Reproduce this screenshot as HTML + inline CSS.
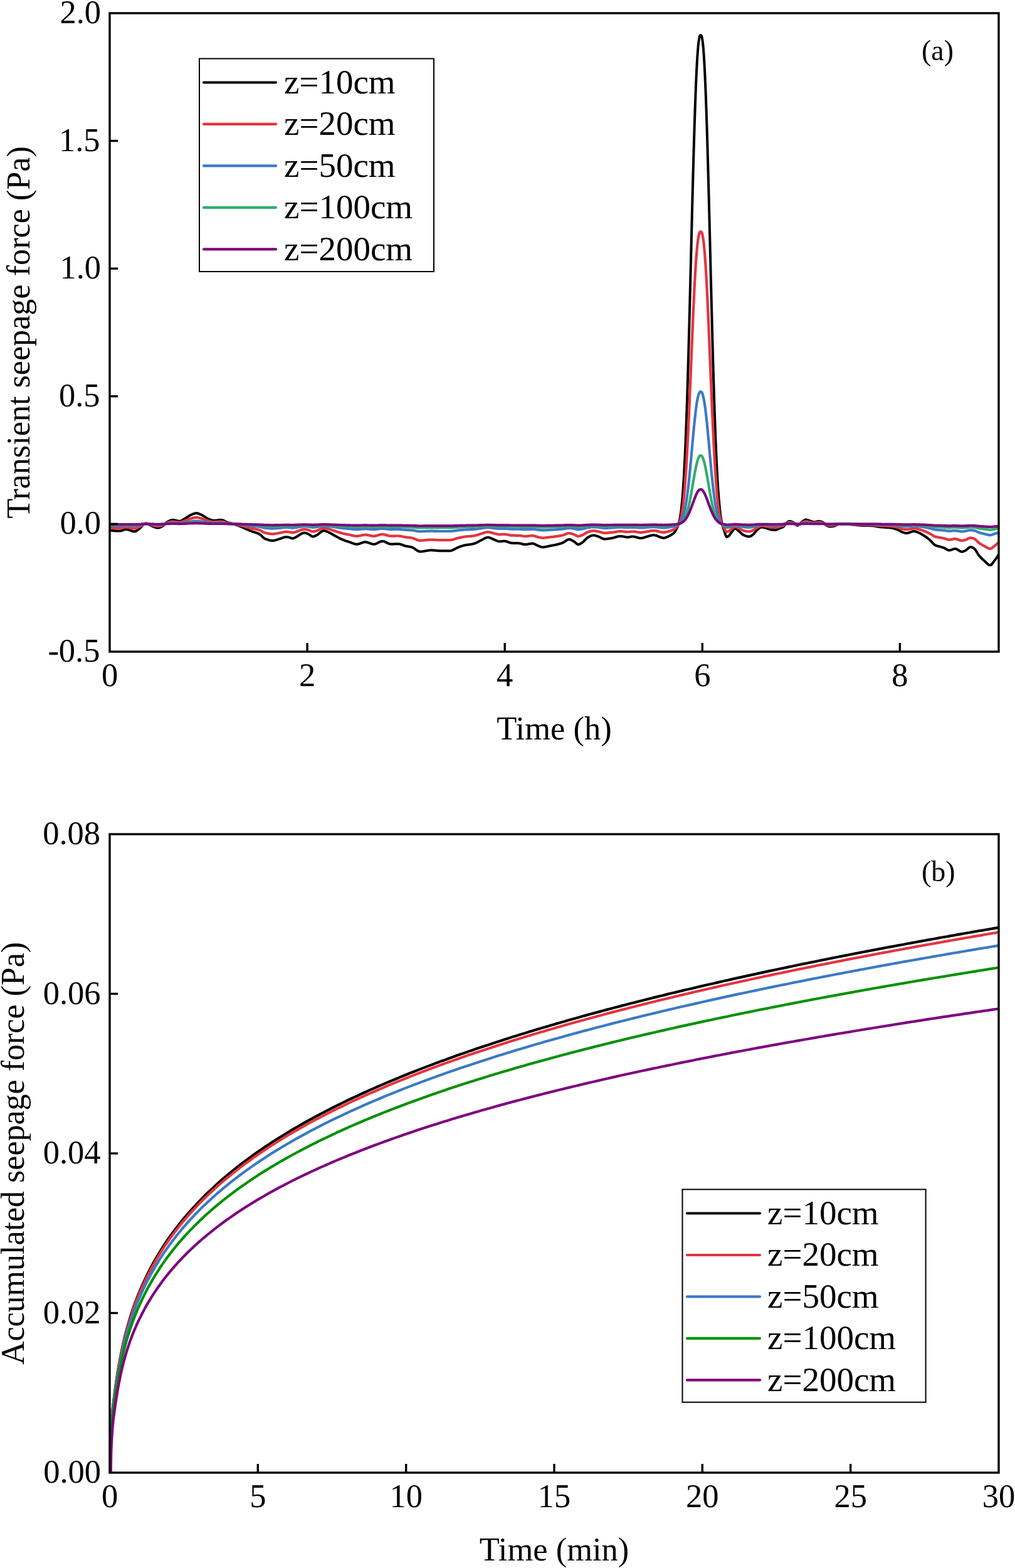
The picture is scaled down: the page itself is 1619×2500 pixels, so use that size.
<!DOCTYPE html><html><head><meta charset="utf-8"><title>Seepage force</title><style>html,body{margin:0;padding:0;background:#fff;}svg{display:block;}text{font-family:'Liberation Serif', 'Times New Roman', serif;fill:#000;}</style></head><body>
<svg width="1619" height="2500" viewBox="0 0 1619 2500">
<rect width="1619" height="2500" fill="#fff"/>
<g id="chartA">
<clipPath id="clipA"><rect x="175.0" y="21.0" width="1418.0" height="1018.0"/></clipPath>
<g clip-path="url(#clipA)" fill="none" stroke-linejoin="round" stroke-linecap="round">
<path d="M175.0 845.3L175.5 845.4L176.0 845.5L176.5 845.6L177.0 845.7L177.5 845.8L178.0 845.9L178.5 845.9L179.0 846.0L179.5 846.1L180.0 846.1L180.5 846.2L181.0 846.2L181.5 846.2L182.0 846.3L182.5 846.3L183.0 846.3L183.5 846.4L184.0 846.4L184.5 846.4L185.0 846.4L185.5 846.4L186.0 846.5L186.5 846.5L187.0 846.5L187.5 846.5L188.0 846.5L188.5 846.5L189.0 846.5L189.5 846.5L190.0 846.5L190.5 846.5L191.0 846.5L191.5 846.5L192.0 846.5L192.5 846.4L193.0 846.3L193.5 846.2L194.0 846.1L194.5 845.9L195.0 845.8L195.5 845.6L196.0 845.4L196.5 845.2L197.0 845.0L197.5 844.8L198.0 844.7L198.5 844.5L199.0 844.4L199.5 844.3L200.0 844.2L200.5 844.1L201.0 844.1L201.5 844.1L202.0 844.1L202.5 844.2L203.0 844.3L203.5 844.4L204.0 844.5L204.5 844.6L205.0 844.8L205.5 844.9L206.0 845.1L206.5 845.2L207.0 845.4L207.5 845.6L208.0 845.8L208.5 845.9L209.0 846.1L209.5 846.3L210.0 846.5L210.5 846.6L211.0 846.8L211.5 846.9L212.0 847.0L212.5 847.2L213.0 847.2L213.5 847.3L214.0 847.4L214.5 847.4L215.0 847.4L215.5 847.3L216.0 847.2L216.5 847.0L217.0 846.8L217.5 846.5L218.0 846.2L218.5 845.9L219.0 845.5L219.5 845.1L220.0 844.7L220.5 844.3L221.0 843.9L221.5 843.5L222.0 843.1L222.5 842.7L223.0 842.3L223.5 841.8L224.0 841.3L224.5 840.8L225.0 840.2L225.5 839.6L226.0 839.0L226.5 838.5L227.0 838.0L227.5 837.5L228.0 837.0L228.5 836.6L229.0 836.2L229.5 835.8L230.0 835.4L230.5 835.1L231.0 834.8L231.5 834.6L232.0 834.4L232.5 834.4L233.0 834.5L233.5 834.6L234.0 834.7L234.5 834.9L235.0 835.1L235.5 835.3L236.0 835.6L236.5 835.8L237.0 836.1L237.5 836.4L238.0 836.7L238.5 837.0L239.0 837.2L239.5 837.5L240.0 837.7L240.5 837.9L241.0 838.1L241.5 838.3L242.0 838.5L242.5 838.7L243.0 838.9L243.5 839.1L244.0 839.4L244.5 839.6L245.0 839.8L245.5 840.0L246.0 840.2L246.5 840.4L247.0 840.6L247.5 840.8L248.0 840.9L248.5 841.1L249.0 841.2L249.5 841.3L250.0 841.4L250.5 841.5L251.0 841.6L251.5 841.6L252.0 841.6L252.5 841.6L253.0 841.5L253.5 841.4L254.0 841.3L254.5 841.1L255.0 840.9L255.5 840.7L256.0 840.5L256.5 840.3L257.0 840.0L257.5 839.8L258.0 839.5L258.5 839.2L259.0 839.0L259.5 838.7L260.0 838.4L260.5 838.1L261.0 837.6L261.5 837.2L262.0 836.7L262.5 836.2L263.0 835.7L263.5 835.2L264.0 834.7L264.5 834.2L265.0 833.7L265.5 833.2L266.0 832.8L266.5 832.4L267.0 832.1L267.5 831.8L268.0 831.5L268.5 831.3L269.0 831.0L269.5 830.7L270.0 830.5L270.5 830.3L271.0 830.0L271.5 829.8L272.0 829.6L272.5 829.5L273.0 829.3L273.5 829.2L274.0 829.1L274.5 829.0L275.0 829.0L275.5 829.0L276.0 829.0L276.5 829.1L277.0 829.1L277.5 829.2L278.0 829.3L278.5 829.4L279.0 829.5L279.5 829.6L280.0 829.7L280.5 829.8L281.0 830.0L281.5 830.1L282.0 830.2L282.5 830.3L283.0 830.4L283.5 830.5L284.0 830.6L284.5 830.7L285.0 830.8L285.5 830.8L286.0 830.9L286.5 830.9L287.0 830.9L287.5 830.8L288.0 830.7L288.5 830.6L289.0 830.4L289.5 830.2L290.0 829.9L290.5 829.6L291.0 829.3L291.5 829.0L292.0 828.6L292.5 828.3L293.0 828.0L293.5 827.7L294.0 827.3L294.5 827.1L295.0 826.8L295.5 826.5L296.0 826.2L296.5 825.9L297.0 825.5L297.5 825.2L298.0 824.9L298.5 824.5L299.0 824.2L299.5 823.9L300.0 823.5L300.5 823.2L301.0 822.9L301.5 822.6L302.0 822.3L302.5 822.0L303.0 821.7L303.5 821.5L304.0 821.2L304.5 821.0L305.0 820.8L305.5 820.6L306.0 820.3L306.5 820.1L307.0 819.9L307.5 819.7L308.0 819.5L308.5 819.3L309.0 819.1L309.5 818.9L310.0 818.7L310.5 818.6L311.0 818.5L311.5 818.4L312.0 818.3L312.5 818.2L313.0 818.2L313.5 818.2L314.0 818.3L314.5 818.3L315.0 818.4L315.5 818.5L316.0 818.7L316.5 818.8L317.0 819.0L317.5 819.2L318.0 819.4L318.5 819.6L319.0 819.8L319.5 820.1L320.0 820.3L320.5 820.5L321.0 820.7L321.5 821.0L322.0 821.2L322.5 821.4L323.0 821.7L323.5 822.0L324.0 822.3L324.5 822.6L325.0 822.9L325.5 823.3L326.0 823.6L326.5 823.9L327.0 824.3L327.5 824.6L328.0 825.0L328.5 825.3L329.0 825.6L329.5 825.9L330.0 826.2L330.5 826.5L331.0 826.7L331.5 827.0L332.0 827.2L332.5 827.4L333.0 827.6L333.5 827.8L334.0 828.0L334.5 828.2L335.0 828.4L335.5 828.6L336.0 828.8L336.5 829.0L337.0 829.1L337.5 829.3L338.0 829.4L338.5 829.5L339.0 829.7L339.5 829.7L340.0 829.8L340.5 829.9L341.0 829.9L341.5 829.9L342.0 829.9L342.5 829.9L343.0 829.8L343.5 829.8L344.0 829.8L344.5 829.7L345.0 829.7L345.5 829.6L346.0 829.5L346.5 829.5L347.0 829.4L347.5 829.4L348.0 829.3L348.5 829.2L349.0 829.2L349.5 829.1L350.0 829.1L350.5 829.0L351.0 829.0L351.5 828.9L352.0 828.9L352.5 828.9L353.0 828.9L353.5 828.9L354.0 829.0L354.5 829.1L355.0 829.2L355.5 829.4L356.0 829.6L356.5 829.8L357.0 830.1L357.5 830.3L358.0 830.6L358.5 830.9L359.0 831.2L359.5 831.4L360.0 831.7L360.5 832.0L361.0 832.2L361.5 832.5L362.0 832.7L362.5 832.8L363.0 833.0L363.5 833.1L364.0 833.3L364.5 833.4L365.0 833.5L365.5 833.6L366.0 833.7L366.5 833.8L367.0 834.0L367.5 834.1L368.0 834.2L368.5 834.3L369.0 834.4L369.5 834.5L370.0 834.7L370.5 834.8L371.0 834.9L371.5 835.1L372.0 835.2L372.5 835.4L373.0 835.6L373.5 835.7L374.0 835.9L374.5 836.0L375.0 836.2L375.5 836.4L376.0 836.6L376.5 836.7L377.0 836.9L377.5 837.1L378.0 837.3L378.5 837.5L379.0 837.6L379.5 837.8L380.0 838.0L380.5 838.2L381.0 838.4L381.5 838.6L382.0 838.8L382.5 839.0L383.0 839.2L383.5 839.4L384.0 839.6L384.5 839.8L385.0 840.0L385.5 840.2L386.0 840.4L386.5 840.6L387.0 840.8L387.5 841.0L388.0 841.3L388.5 841.5L389.0 841.7L389.5 841.9L390.0 842.2L390.5 842.4L391.0 842.6L391.5 842.9L392.0 843.1L392.5 843.3L393.0 843.6L393.5 843.8L394.0 844.0L394.5 844.3L395.0 844.5L395.5 844.7L396.0 844.9L396.5 845.2L397.0 845.4L397.5 845.6L398.0 845.8L398.5 846.0L399.0 846.2L399.5 846.4L400.0 846.6L400.5 846.8L401.0 847.0L401.5 847.2L402.0 847.3L402.5 847.5L403.0 847.6L403.5 847.8L404.0 848.0L404.5 848.1L405.0 848.3L405.5 848.4L406.0 848.6L406.5 848.7L407.0 848.9L407.5 849.0L408.0 849.2L408.5 849.4L409.0 849.5L409.5 849.7L410.0 849.9L410.5 850.1L411.0 850.3L411.5 850.5L412.0 850.7L412.5 850.9L413.0 851.2L413.5 851.4L414.0 851.7L414.5 852.0L415.0 852.4L415.5 852.8L416.0 853.2L416.5 853.7L417.0 854.2L417.5 854.7L418.0 855.1L418.5 855.6L419.0 856.1L419.5 856.6L420.0 857.0L420.5 857.5L421.0 857.9L421.5 858.2L422.0 858.5L422.5 858.8L423.0 859.1L423.5 859.3L424.0 859.4L424.5 859.6L425.0 859.8L425.5 860.0L426.0 860.2L426.5 860.4L427.0 860.5L427.5 860.7L428.0 860.8L428.5 861.0L429.0 861.1L429.5 861.3L430.0 861.4L430.5 861.5L431.0 861.6L431.5 861.7L432.0 861.8L432.5 861.9L433.0 861.9L433.5 862.0L434.0 862.0L434.5 862.0L435.0 862.0L435.5 862.0L436.0 861.9L436.5 861.9L437.0 861.8L437.5 861.7L438.0 861.6L438.5 861.5L439.0 861.4L439.5 861.3L440.0 861.1L440.5 861.0L441.0 860.8L441.5 860.6L442.0 860.5L442.5 860.3L443.0 860.2L443.5 860.0L444.0 859.8L444.5 859.7L445.0 859.5L445.5 859.4L446.0 859.2L446.5 859.1L447.0 858.9L447.5 858.8L448.0 858.6L448.5 858.4L449.0 858.2L449.5 858.0L450.0 857.8L450.5 857.6L451.0 857.4L451.5 857.2L452.0 857.1L452.5 856.9L453.0 856.7L453.5 856.6L454.0 856.5L454.5 856.4L455.0 856.3L455.5 856.2L456.0 856.2L456.5 856.2L457.0 856.2L457.5 856.2L458.0 856.3L458.5 856.3L459.0 856.4L459.5 856.4L460.0 856.5L460.5 856.6L461.0 856.7L461.5 856.8L462.0 857.0L462.5 857.2L463.0 857.4L463.5 857.6L464.0 857.8L464.5 858.0L465.0 858.1L465.5 858.2L466.0 858.3L466.5 858.4L467.0 858.4L467.5 858.3L468.0 858.2L468.5 858.0L469.0 857.8L469.5 857.6L470.0 857.3L470.5 857.1L471.0 856.8L471.5 856.6L472.0 856.4L472.5 856.1L473.0 855.9L473.5 855.6L474.0 855.3L474.5 855.0L475.0 854.7L475.5 854.3L476.0 854.0L476.5 853.7L477.0 853.3L477.5 853.0L478.0 852.6L478.5 852.3L479.0 852.0L479.5 851.7L480.0 851.4L480.5 851.1L481.0 850.8L481.5 850.6L482.0 850.4L482.5 850.2L483.0 850.0L483.5 849.8L484.0 849.7L484.5 849.6L485.0 849.6L485.5 849.6L486.0 849.6L486.5 849.7L487.0 849.8L487.5 849.9L488.0 850.0L488.5 850.2L489.0 850.4L489.5 850.6L490.0 850.8L490.5 851.0L491.0 851.2L491.5 851.4L492.0 851.6L492.5 851.8L493.0 852.1L493.5 852.4L494.0 852.7L494.5 853.1L495.0 853.5L495.5 853.9L496.0 854.3L496.5 854.6L497.0 854.9L497.5 855.2L498.0 855.4L498.5 855.5L499.0 855.5L499.5 855.5L500.0 855.4L500.5 855.3L501.0 855.1L501.5 855.0L502.0 854.8L502.5 854.5L503.0 854.3L503.5 854.1L504.0 853.9L504.5 853.6L505.0 853.4L505.5 853.2L506.0 852.9L506.5 852.5L507.0 852.2L507.5 851.8L508.0 851.4L508.5 851.0L509.0 850.6L509.5 850.2L510.0 849.7L510.5 849.3L511.0 848.9L511.5 848.5L512.0 848.1L512.5 847.7L513.0 847.4L513.5 847.1L514.0 846.8L514.5 846.6L515.0 846.4L515.5 846.2L516.0 846.1L516.5 846.1L517.0 846.1L517.5 846.2L518.0 846.3L518.5 846.4L519.0 846.5L519.5 846.7L520.0 846.9L520.5 847.1L521.0 847.3L521.5 847.5L522.0 847.7L522.5 847.9L523.0 848.2L523.5 848.4L524.0 848.6L524.5 848.8L525.0 849.1L525.5 849.3L526.0 849.5L526.5 849.8L527.0 850.1L527.5 850.3L528.0 850.6L528.5 850.9L529.0 851.2L529.5 851.5L530.0 851.8L530.5 852.1L531.0 852.4L531.5 852.7L532.0 853.0L532.5 853.3L533.0 853.6L533.5 853.8L534.0 854.1L534.5 854.4L535.0 854.6L535.5 854.9L536.0 855.2L536.5 855.4L537.0 855.7L537.5 856.0L538.0 856.2L538.5 856.5L539.0 856.8L539.5 857.0L540.0 857.3L540.5 857.6L541.0 857.8L541.5 858.1L542.0 858.3L542.5 858.6L543.0 858.8L543.5 859.1L544.0 859.3L544.5 859.5L545.0 859.8L545.5 860.0L546.0 860.2L546.5 860.4L547.0 860.7L547.5 860.9L548.0 861.1L548.5 861.3L549.0 861.4L549.5 861.6L550.0 861.8L550.5 862.0L551.0 862.2L551.5 862.3L552.0 862.5L552.5 862.7L553.0 862.8L553.5 863.0L554.0 863.2L554.5 863.3L555.0 863.5L555.5 863.6L556.0 863.8L556.5 863.9L557.0 864.1L557.5 864.3L558.0 864.4L558.5 864.6L559.0 864.8L559.5 865.0L560.0 865.2L560.5 865.4L561.0 865.6L561.5 865.8L562.0 866.0L562.5 866.2L563.0 866.4L563.5 866.5L564.0 866.7L564.5 866.9L565.0 867.0L565.5 867.2L566.0 867.3L566.5 867.4L567.0 867.5L567.5 867.6L568.0 867.7L568.5 867.7L569.0 867.7L569.5 867.7L570.0 867.6L570.5 867.6L571.0 867.5L571.5 867.4L572.0 867.3L572.5 867.1L573.0 867.0L573.5 866.8L574.0 866.6L574.5 866.4L575.0 866.3L575.5 866.1L576.0 865.9L576.5 865.7L577.0 865.5L577.5 865.3L578.0 865.1L578.5 865.0L579.0 864.8L579.5 864.7L580.0 864.5L580.5 864.4L581.0 864.3L581.5 864.3L582.0 864.2L582.5 864.2L583.0 864.2L583.5 864.2L584.0 864.3L584.5 864.4L585.0 864.5L585.5 864.6L586.0 864.7L586.5 864.9L587.0 865.1L587.5 865.2L588.0 865.4L588.5 865.6L589.0 865.8L589.5 866.0L590.0 866.2L590.5 866.3L591.0 866.5L591.5 866.7L592.0 866.9L592.5 867.0L593.0 867.2L593.5 867.3L594.0 867.4L594.5 867.5L595.0 867.6L595.5 867.7L596.0 867.7L596.5 867.7L597.0 867.7L597.5 867.6L598.0 867.5L598.5 867.4L599.0 867.2L599.5 867.0L600.0 866.8L600.5 866.6L601.0 866.4L601.5 866.1L602.0 865.9L602.5 865.6L603.0 865.4L603.5 865.1L604.0 864.8L604.5 864.6L605.0 864.3L605.5 864.1L606.0 863.9L606.5 863.6L607.0 863.5L607.5 863.3L608.0 863.2L608.5 863.0L609.0 863.0L609.5 862.9L610.0 862.9L610.5 862.9L611.0 863.0L611.5 863.1L612.0 863.2L612.5 863.3L613.0 863.5L613.5 863.7L614.0 863.9L614.5 864.1L615.0 864.4L615.5 864.6L616.0 864.8L616.5 865.1L617.0 865.4L617.5 865.6L618.0 865.9L618.5 866.1L619.0 866.3L619.5 866.5L620.0 866.7L620.5 866.9L621.0 867.1L621.5 867.2L622.0 867.3L622.5 867.4L623.0 867.5L623.5 867.5L624.0 867.5L624.5 867.5L625.0 867.5L625.5 867.5L626.0 867.5L626.5 867.5L627.0 867.4L627.5 867.4L628.0 867.4L628.5 867.4L629.0 867.4L629.5 867.3L630.0 867.3L630.5 867.3L631.0 867.3L631.5 867.3L632.0 867.3L632.5 867.2L633.0 867.2L633.5 867.2L634.0 867.2L634.5 867.2L635.0 867.2L635.5 867.2L636.0 867.2L636.5 867.3L637.0 867.4L637.5 867.4L638.0 867.6L638.5 867.7L639.0 867.8L639.5 868.0L640.0 868.1L640.5 868.3L641.0 868.5L641.5 868.7L642.0 868.9L642.5 869.1L643.0 869.2L643.5 869.4L644.0 869.6L644.5 869.8L645.0 870.0L645.5 870.1L646.0 870.3L646.5 870.4L647.0 870.5L647.5 870.6L648.0 870.7L648.5 870.8L649.0 870.9L649.5 871.0L650.0 871.1L650.5 871.2L651.0 871.3L651.5 871.4L652.0 871.4L652.5 871.5L653.0 871.6L653.5 871.7L654.0 871.8L654.5 871.9L655.0 872.0L655.5 872.1L656.0 872.2L656.5 872.4L657.0 872.5L657.5 872.7L658.0 872.9L658.5 873.2L659.0 873.4L659.5 873.7L660.0 874.0L660.5 874.3L661.0 874.7L661.5 875.0L662.0 875.4L662.5 875.7L663.0 876.1L663.5 876.4L664.0 876.8L664.5 877.1L665.0 877.5L665.5 877.8L666.0 878.1L666.5 878.3L667.0 878.6L667.5 878.8L668.0 879.0L668.5 879.2L669.0 879.3L669.5 879.4L670.0 879.4L670.5 879.4L671.0 879.4L671.5 879.4L672.0 879.3L672.5 879.3L673.0 879.3L673.5 879.2L674.0 879.1L674.5 879.1L675.0 879.0L675.5 878.9L676.0 878.9L676.5 878.8L677.0 878.7L677.5 878.6L678.0 878.5L678.5 878.4L679.0 878.3L679.5 878.3L680.0 878.2L680.5 878.1L681.0 878.0L681.5 877.9L682.0 877.8L682.5 877.8L683.0 877.7L683.5 877.6L684.0 877.6L684.5 877.5L685.0 877.4L685.5 877.4L686.0 877.4L686.5 877.3L687.0 877.3L687.5 877.3L688.0 877.3L688.5 877.3L689.0 877.3L689.5 877.3L690.0 877.4L690.5 877.4L691.0 877.4L691.5 877.4L692.0 877.5L692.5 877.5L693.0 877.6L693.5 877.6L694.0 877.7L694.5 877.7L695.0 877.7L695.5 877.8L696.0 877.8L696.5 877.9L697.0 877.9L697.5 878.0L698.0 878.0L698.5 878.1L699.0 878.1L699.5 878.1L700.0 878.2L700.5 878.2L701.0 878.2L701.5 878.3L702.0 878.3L702.5 878.3L703.0 878.3L703.5 878.3L704.0 878.3L704.5 878.3L705.0 878.3L705.5 878.3L706.0 878.3L706.5 878.3L707.0 878.3L707.5 878.3L708.0 878.3L708.5 878.3L709.0 878.3L709.5 878.3L710.0 878.3L710.5 878.3L711.0 878.3L711.5 878.3L712.0 878.3L712.5 878.3L713.0 878.3L713.5 878.3L714.0 878.3L714.5 878.3L715.0 878.3L715.5 878.3L716.0 878.3L716.5 878.3L717.0 878.3L717.5 878.3L718.0 878.2L718.5 878.2L719.0 878.1L719.5 878.0L720.0 877.8L720.5 877.7L721.0 877.5L721.5 877.3L722.0 877.1L722.5 876.9L723.0 876.7L723.5 876.4L724.0 876.2L724.5 875.9L725.0 875.7L725.5 875.4L726.0 875.1L726.5 874.9L727.0 874.6L727.5 874.3L728.0 874.1L728.5 873.8L729.0 873.5L729.5 873.3L730.0 873.0L730.5 872.8L731.0 872.6L731.5 872.4L732.0 872.2L732.5 872.0L733.0 871.8L733.5 871.7L734.0 871.5L734.5 871.3L735.0 871.2L735.5 871.0L736.0 870.8L736.5 870.7L737.0 870.5L737.5 870.3L738.0 870.2L738.5 870.0L739.0 869.9L739.5 869.8L740.0 869.6L740.5 869.5L741.0 869.4L741.5 869.3L742.0 869.2L742.5 869.1L743.0 869.0L743.5 868.9L744.0 868.8L744.5 868.7L745.0 868.7L745.5 868.6L746.0 868.5L746.5 868.5L747.0 868.4L747.5 868.4L748.0 868.3L748.5 868.2L749.0 868.2L749.5 868.1L750.0 868.0L750.5 868.0L751.0 867.9L751.5 867.8L752.0 867.7L752.5 867.6L753.0 867.5L753.5 867.4L754.0 867.3L754.5 867.2L755.0 867.0L755.5 866.9L756.0 866.8L756.5 866.6L757.0 866.5L757.5 866.3L758.0 866.1L758.5 865.9L759.0 865.7L759.5 865.5L760.0 865.3L760.5 865.1L761.0 864.8L761.5 864.5L762.0 864.3L762.5 864.0L763.0 863.7L763.5 863.4L764.0 863.1L764.5 862.9L765.0 862.6L765.5 862.3L766.0 862.0L766.5 861.8L767.0 861.5L767.5 861.3L768.0 861.1L768.5 860.8L769.0 860.5L769.5 860.3L770.0 860.0L770.5 859.7L771.0 859.4L771.5 859.2L772.0 858.9L772.5 858.6L773.0 858.4L773.5 858.1L774.0 857.9L774.5 857.7L775.0 857.5L775.5 857.3L776.0 857.1L776.5 857.0L777.0 856.9L777.5 856.8L778.0 856.8L778.5 856.8L779.0 856.8L779.5 856.9L780.0 857.0L780.5 857.1L781.0 857.3L781.5 857.4L782.0 857.6L782.5 857.8L783.0 858.0L783.5 858.3L784.0 858.5L784.5 858.7L785.0 859.0L785.5 859.2L786.0 859.5L786.5 859.7L787.0 859.9L787.5 860.1L788.0 860.4L788.5 860.6L789.0 860.7L789.5 860.9L790.0 861.1L790.5 861.3L791.0 861.6L791.5 861.8L792.0 862.0L792.5 862.2L793.0 862.4L793.5 862.6L794.0 862.8L794.5 863.0L795.0 863.1L795.5 863.2L796.0 863.3L796.5 863.3L797.0 863.3L797.5 863.3L798.0 863.3L798.5 863.2L799.0 863.2L799.5 863.1L800.0 863.1L800.5 863.0L801.0 863.0L801.5 862.9L802.0 862.8L802.5 862.8L803.0 862.8L803.5 862.7L804.0 862.7L804.5 862.7L805.0 862.7L805.5 862.8L806.0 862.8L806.5 862.9L807.0 863.0L807.5 863.2L808.0 863.3L808.5 863.5L809.0 863.7L809.5 863.8L810.0 864.0L810.5 864.2L811.0 864.4L811.5 864.6L812.0 864.8L812.5 865.0L813.0 865.1L813.5 865.3L814.0 865.4L814.5 865.5L815.0 865.7L815.5 865.7L816.0 865.8L816.5 865.8L817.0 865.8L817.5 865.9L818.0 865.9L818.5 865.9L819.0 865.9L819.5 865.9L820.0 866.0L820.5 866.0L821.0 866.0L821.5 866.0L822.0 866.0L822.5 866.0L823.0 866.0L823.5 866.0L824.0 866.0L824.5 866.1L825.0 866.1L825.5 866.1L826.0 866.1L826.5 866.1L827.0 866.2L827.5 866.2L828.0 866.2L828.5 866.3L829.0 866.3L829.5 866.4L830.0 866.5L830.5 866.6L831.0 866.7L831.5 866.9L832.0 867.0L832.5 867.2L833.0 867.3L833.5 867.4L834.0 867.6L834.5 867.7L835.0 867.8L835.5 867.9L836.0 868.0L836.5 868.0L837.0 868.1L837.5 868.1L838.0 868.1L838.5 868.1L839.0 868.0L839.5 868.0L840.0 867.9L840.5 867.9L841.0 867.8L841.5 867.7L842.0 867.6L842.5 867.5L843.0 867.4L843.5 867.3L844.0 867.2L844.5 867.2L845.0 867.1L845.5 867.0L846.0 866.9L846.5 866.8L847.0 866.8L847.5 866.7L848.0 866.7L848.5 866.6L849.0 866.6L849.5 866.6L850.0 866.6L850.5 866.7L851.0 866.8L851.5 867.0L852.0 867.2L852.5 867.4L853.0 867.6L853.5 867.8L854.0 868.1L854.5 868.3L855.0 868.6L855.5 868.9L856.0 869.1L856.5 869.4L857.0 869.7L857.5 869.9L858.0 870.1L858.5 870.3L859.0 870.5L859.5 870.7L860.0 870.8L860.5 871.0L861.0 871.2L861.5 871.4L862.0 871.6L862.5 871.8L863.0 871.9L863.5 872.1L864.0 872.2L864.5 872.3L865.0 872.4L865.5 872.4L866.0 872.4L866.5 872.4L867.0 872.4L867.5 872.3L868.0 872.3L868.5 872.2L869.0 872.1L869.5 872.0L870.0 871.9L870.5 871.8L871.0 871.7L871.5 871.6L872.0 871.5L872.5 871.4L873.0 871.3L873.5 871.2L874.0 871.0L874.5 870.9L875.0 870.8L875.5 870.7L876.0 870.6L876.5 870.5L877.0 870.4L877.5 870.3L878.0 870.2L878.5 870.1L879.0 870.0L879.5 869.9L880.0 869.8L880.5 869.8L881.0 869.7L881.5 869.6L882.0 869.5L882.5 869.4L883.0 869.3L883.5 869.2L884.0 869.1L884.5 869.0L885.0 868.9L885.5 868.8L886.0 868.7L886.5 868.6L887.0 868.5L887.5 868.3L888.0 868.2L888.5 868.1L889.0 868.0L889.5 867.9L890.0 867.8L890.5 867.6L891.0 867.5L891.5 867.4L892.0 867.2L892.5 867.1L893.0 866.9L893.5 866.8L894.0 866.6L894.5 866.4L895.0 866.3L895.5 866.1L896.0 865.9L896.5 865.7L897.0 865.6L897.5 865.4L898.0 865.2L898.5 864.9L899.0 864.7L899.5 864.4L900.0 864.1L900.5 863.7L901.0 863.4L901.5 863.0L902.0 862.7L902.5 862.3L903.0 862.0L903.5 861.6L904.0 861.3L904.5 861.0L905.0 860.8L905.5 860.5L906.0 860.3L906.5 860.2L907.0 860.1L907.5 860.0L908.0 860.0L908.5 860.1L909.0 860.1L909.5 860.3L910.0 860.4L910.5 860.6L911.0 860.8L911.5 861.1L912.0 861.3L912.5 861.6L913.0 861.9L913.5 862.2L914.0 862.5L914.5 862.7L915.0 863.0L915.5 863.3L916.0 863.6L916.5 864.0L917.0 864.4L917.5 864.8L918.0 865.3L918.5 865.8L919.0 866.2L919.5 866.7L920.0 867.1L920.5 867.5L921.0 867.7L921.5 868.0L922.0 868.1L922.5 868.1L923.0 868.0L923.5 867.9L924.0 867.8L924.5 867.6L925.0 867.4L925.5 867.1L926.0 866.8L926.5 866.5L927.0 866.2L927.5 865.9L928.0 865.5L928.5 865.2L929.0 864.9L929.5 864.5L930.0 864.1L930.5 863.7L931.0 863.2L931.5 862.7L932.0 862.2L932.5 861.6L933.0 861.0L933.5 860.5L934.0 859.9L934.5 859.4L935.0 858.9L935.5 858.4L936.0 858.0L936.5 857.7L937.0 857.3L937.5 857.1L938.0 856.8L938.5 856.5L939.0 856.2L939.5 855.9L940.0 855.6L940.5 855.4L941.0 855.1L941.5 854.9L942.0 854.6L942.5 854.4L943.0 854.2L943.5 854.1L944.0 853.9L944.5 853.8L945.0 853.7L945.5 853.6L946.0 853.5L946.5 853.5L947.0 853.5L947.5 853.5L948.0 853.6L948.5 853.7L949.0 853.8L949.5 853.9L950.0 854.0L950.5 854.2L951.0 854.4L951.5 854.5L952.0 854.7L952.5 854.9L953.0 855.0L953.5 855.2L954.0 855.4L954.5 855.5L955.0 855.7L955.5 855.9L956.0 856.1L956.5 856.4L957.0 856.6L957.5 856.9L958.0 857.2L958.5 857.4L959.0 857.7L959.5 858.0L960.0 858.2L960.5 858.4L961.0 858.7L961.5 858.9L962.0 859.0L962.5 859.2L963.0 859.3L963.5 859.4L964.0 859.4L964.5 859.4L965.0 859.4L965.5 859.4L966.0 859.3L966.5 859.3L967.0 859.3L967.5 859.2L968.0 859.2L968.5 859.1L969.0 859.1L969.5 859.0L970.0 858.9L970.5 858.8L971.0 858.8L971.5 858.7L972.0 858.6L972.5 858.5L973.0 858.5L973.5 858.4L974.0 858.3L974.5 858.2L975.0 858.1L975.5 858.0L976.0 858.0L976.5 857.9L977.0 857.8L977.5 857.7L978.0 857.5L978.5 857.4L979.0 857.3L979.5 857.1L980.0 857.0L980.5 856.8L981.0 856.7L981.5 856.5L982.0 856.4L982.5 856.2L983.0 856.1L983.5 855.9L984.0 855.8L984.5 855.6L985.0 855.5L985.5 855.4L986.0 855.3L986.5 855.2L987.0 855.1L987.5 855.0L988.0 855.0L988.5 854.9L989.0 854.9L989.5 854.9L990.0 854.9L990.5 854.9L991.0 855.0L991.5 855.0L992.0 855.1L992.5 855.2L993.0 855.3L993.5 855.4L994.0 855.4L994.5 855.5L995.0 855.6L995.5 855.8L996.0 855.9L996.5 856.0L997.0 856.0L997.5 856.1L998.0 856.2L998.5 856.3L999.0 856.4L999.5 856.4L1000.0 856.5L1000.5 856.5L1001.0 856.5L1001.5 856.5L1002.0 856.5L1002.5 856.4L1003.0 856.4L1003.5 856.3L1004.0 856.2L1004.5 856.1L1005.0 856.0L1005.5 855.9L1006.0 855.8L1006.5 855.7L1007.0 855.6L1007.5 855.6L1008.0 855.5L1008.5 855.5L1009.0 855.5L1009.5 855.5L1010.0 855.5L1010.5 855.6L1011.0 855.7L1011.5 855.7L1012.0 855.8L1012.5 855.9L1013.0 856.0L1013.5 856.2L1014.0 856.3L1014.5 856.4L1015.0 856.6L1015.5 856.7L1016.0 856.8L1016.5 857.0L1017.0 857.1L1017.5 857.2L1018.0 857.4L1018.5 857.5L1019.0 857.6L1019.5 857.7L1020.0 857.8L1020.5 857.9L1021.0 857.9L1021.5 858.0L1022.0 858.0L1022.5 858.0L1023.0 858.0L1023.5 857.9L1024.0 857.9L1024.5 857.8L1025.0 857.7L1025.5 857.6L1026.0 857.5L1026.5 857.3L1027.0 857.2L1027.5 857.0L1028.0 856.9L1028.5 856.7L1029.0 856.5L1029.5 856.3L1030.0 856.2L1030.5 856.0L1031.0 855.9L1031.5 855.7L1032.0 855.6L1032.5 855.4L1033.0 855.3L1033.5 855.2L1034.0 855.0L1034.5 854.9L1035.0 854.7L1035.5 854.6L1036.0 854.4L1036.5 854.2L1037.0 854.1L1037.5 854.0L1038.0 853.8L1038.5 853.7L1039.0 853.6L1039.5 853.5L1040.0 853.4L1040.5 853.3L1041.0 853.2L1041.5 853.2L1042.0 853.2L1042.5 853.2L1043.0 853.2L1043.5 853.3L1044.0 853.3L1044.5 853.4L1045.0 853.5L1045.5 853.6L1046.0 853.7L1046.5 853.8L1047.0 853.9L1047.5 854.1L1048.0 854.3L1048.5 854.5L1049.0 854.7L1049.5 855.0L1050.0 855.2L1050.5 855.5L1051.0 855.7L1051.5 855.9L1052.0 856.1L1052.5 856.3L1053.0 856.4L1053.5 856.6L1054.0 856.8L1054.5 856.9L1055.0 857.1L1055.5 857.2L1056.0 857.3L1056.5 857.4L1057.0 857.5L1057.5 857.6L1058.0 857.7L1058.5 857.7L1059.0 857.7L1059.5 857.6L1060.0 857.6L1060.5 857.5L1061.0 857.3L1061.5 857.1L1062.0 857.0L1062.5 856.8L1063.0 856.6L1063.5 856.4L1064.0 856.2L1064.5 855.9L1065.0 855.8L1065.5 855.6L1066.0 855.3L1066.5 855.1L1067.0 854.9L1067.5 854.6L1068.0 854.4L1068.5 854.1L1069.0 853.8L1069.5 853.5L1070.0 853.2L1070.5 852.9L1071.0 852.6L1071.5 852.3L1072.0 852.0L1072.5 851.6L1073.0 851.3L1073.5 850.9L1074.0 850.5L1074.5 850.0L1075.0 849.6L1075.5 849.1L1076.0 848.5L1076.5 847.9L1077.0 847.1L1077.5 846.2L1078.0 845.2L1078.5 844.2L1079.0 843.1L1079.5 842.2L1080.0 841.3L1080.5 840.4L1081.0 839.3L1081.5 838.2L1082.0 836.8L1082.5 835.3L1083.0 833.5L1083.5 831.6L1084.0 829.4L1084.5 826.9L1085.0 824.1L1085.5 821.0L1086.0 817.5L1086.5 813.7L1087.0 809.5L1087.5 804.8L1088.0 799.7L1088.5 794.1L1089.0 787.9L1089.5 781.3L1090.0 774.0L1090.5 766.2L1091.0 757.8L1091.5 748.7L1092.0 739.0L1092.5 728.6L1093.0 717.5L1093.5 705.8L1094.0 693.3L1094.5 680.2L1095.0 666.4L1095.5 651.9L1096.0 636.8L1096.5 621.0L1097.0 604.6L1097.5 587.7L1098.0 570.2L1098.5 552.1L1099.0 533.6L1099.5 514.7L1100.0 495.5L1100.5 475.9L1101.0 456.1L1101.5 436.1L1102.0 416.0L1102.5 395.9L1103.0 375.8L1103.5 355.8L1104.0 336.0L1104.5 316.4L1105.0 297.2L1105.5 278.4L1106.0 260.0L1106.5 242.2L1107.0 224.9L1107.5 208.4L1108.0 192.5L1108.5 177.4L1109.0 163.1L1109.5 149.6L1110.0 137.1L1110.5 125.4L1111.0 114.7L1111.5 104.9L1112.0 96.1L1112.5 88.2L1113.0 81.2L1113.5 75.2L1114.0 70.1L1114.5 65.9L1115.0 62.5L1115.5 59.9L1116.0 58.0L1116.5 56.8L1117.0 56.2L1117.5 56.0L1118.0 56.1L1118.5 56.5L1119.0 57.5L1119.5 59.1L1120.0 61.4L1120.5 64.4L1121.0 68.3L1121.5 73.1L1122.0 78.7L1122.5 85.3L1123.0 92.8L1123.5 101.3L1124.0 110.7L1124.5 121.1L1125.0 132.4L1125.5 144.6L1126.0 157.7L1126.5 171.7L1127.0 186.5L1127.5 202.1L1128.0 218.4L1128.5 235.4L1129.0 253.1L1129.5 271.3L1130.0 290.0L1130.5 309.1L1131.0 328.6L1131.5 348.3L1132.0 368.3L1132.5 388.4L1133.0 408.6L1133.5 428.8L1134.0 448.9L1134.5 468.9L1135.0 488.6L1135.5 508.1L1136.0 527.2L1136.5 545.9L1137.0 564.2L1137.5 582.0L1138.0 599.3L1138.5 616.0L1139.0 632.1L1139.5 647.6L1140.0 662.4L1140.5 676.6L1141.0 690.1L1141.5 702.9L1142.0 715.0L1142.5 726.4L1143.0 737.2L1143.5 747.2L1144.0 756.6L1144.5 765.4L1145.0 773.6L1145.5 781.1L1146.0 788.1L1146.5 794.5L1147.0 800.4L1147.5 805.8L1148.0 810.7L1148.5 815.2L1149.0 819.3L1149.5 823.0L1150.0 826.3L1150.5 829.3L1151.0 832.0L1151.5 834.4L1152.0 836.5L1152.5 838.4L1153.0 840.1L1153.5 841.6L1154.0 842.9L1154.5 844.2L1155.0 845.6L1155.5 847.2L1156.0 848.9L1156.5 850.5L1157.0 852.1L1157.5 853.5L1158.0 854.7L1158.5 855.5L1159.0 856.0L1159.5 856.1L1160.0 856.0L1160.5 855.9L1161.0 855.6L1161.5 855.2L1162.0 854.8L1162.5 854.4L1163.0 854.0L1163.5 853.4L1164.0 852.8L1164.5 852.0L1165.0 851.3L1165.5 850.5L1166.0 849.7L1166.5 849.0L1167.0 848.3L1167.5 847.7L1168.0 847.1L1168.5 846.5L1169.0 845.9L1169.5 845.3L1170.0 844.8L1170.5 844.2L1171.0 843.7L1171.5 843.3L1172.0 843.0L1172.5 842.8L1173.0 842.8L1173.5 842.9L1174.0 843.1L1174.5 843.4L1175.0 843.7L1175.5 844.1L1176.0 844.6L1176.5 845.1L1177.0 845.5L1177.5 846.0L1178.0 846.4L1178.5 846.8L1179.0 847.2L1179.5 847.7L1180.0 848.1L1180.5 848.6L1181.0 849.1L1181.5 849.6L1182.0 850.0L1182.5 850.5L1183.0 851.0L1183.5 851.4L1184.0 851.8L1184.5 852.1L1185.0 852.5L1185.5 852.8L1186.0 853.0L1186.5 853.3L1187.0 853.5L1187.5 853.7L1188.0 853.9L1188.5 854.1L1189.0 854.3L1189.5 854.5L1190.0 854.6L1190.5 854.8L1191.0 854.9L1191.5 855.0L1192.0 855.2L1192.5 855.3L1193.0 855.4L1193.5 855.5L1194.0 855.6L1194.5 855.6L1195.0 855.6L1195.5 855.5L1196.0 855.4L1196.5 855.2L1197.0 855.0L1197.5 854.7L1198.0 854.5L1198.5 854.2L1199.0 853.8L1199.5 853.5L1200.0 853.1L1200.5 852.8L1201.0 852.4L1201.5 852.0L1202.0 851.6L1202.5 851.0L1203.0 850.5L1203.5 849.9L1204.0 849.2L1204.5 848.6L1205.0 848.0L1205.5 847.3L1206.0 846.7L1206.5 846.2L1207.0 845.6L1207.5 845.2L1208.0 844.8L1208.5 844.3L1209.0 843.9L1209.5 843.4L1210.0 843.0L1210.5 842.6L1211.0 842.2L1211.5 841.8L1212.0 841.5L1212.5 841.2L1213.0 840.9L1213.5 840.8L1214.0 840.6L1214.5 840.6L1215.0 840.6L1215.5 840.6L1216.0 840.7L1216.5 840.8L1217.0 840.8L1217.5 840.9L1218.0 841.0L1218.5 841.1L1219.0 841.3L1219.5 841.4L1220.0 841.5L1220.5 841.6L1221.0 841.8L1221.5 841.9L1222.0 842.0L1222.5 842.2L1223.0 842.3L1223.5 842.4L1224.0 842.6L1224.5 842.7L1225.0 842.9L1225.5 843.1L1226.0 843.3L1226.5 843.5L1227.0 843.7L1227.5 843.9L1228.0 844.0L1228.5 844.2L1229.0 844.3L1229.5 844.5L1230.0 844.6L1230.5 844.7L1231.0 844.7L1231.5 844.8L1232.0 844.8L1232.5 844.8L1233.0 844.9L1233.5 844.9L1234.0 844.9L1234.5 845.0L1235.0 845.0L1235.5 845.0L1236.0 845.0L1236.5 845.0L1237.0 845.0L1237.5 844.9L1238.0 844.8L1238.5 844.6L1239.0 844.5L1239.5 844.3L1240.0 844.1L1240.5 843.9L1241.0 843.6L1241.5 843.4L1242.0 843.2L1242.5 842.9L1243.0 842.7L1243.5 842.4L1244.0 842.2L1244.5 842.0L1245.0 841.8L1245.5 841.6L1246.0 841.4L1246.5 841.2L1247.0 841.0L1247.5 840.8L1248.0 840.6L1248.5 840.4L1249.0 840.1L1249.5 839.8L1250.0 839.5L1250.5 839.0L1251.0 838.4L1251.5 837.7L1252.0 836.8L1252.5 836.0L1253.0 835.3L1253.5 834.6L1254.0 834.1L1254.5 833.7L1255.0 833.3L1255.5 832.9L1256.0 832.6L1256.5 832.2L1257.0 831.9L1257.5 831.6L1258.0 831.4L1258.5 831.2L1259.0 831.1L1259.5 831.1L1260.0 831.1L1260.5 831.2L1261.0 831.3L1261.5 831.4L1262.0 831.5L1262.5 831.7L1263.0 831.9L1263.5 832.1L1264.0 832.3L1264.5 832.5L1265.0 832.8L1265.5 833.0L1266.0 833.3L1266.5 833.5L1267.0 833.9L1267.5 834.3L1268.0 834.8L1268.5 835.4L1269.0 835.9L1269.5 836.5L1270.0 837.0L1270.5 837.4L1271.0 837.7L1271.5 837.9L1272.0 837.9L1272.5 837.8L1273.0 837.6L1273.5 837.3L1274.0 836.9L1274.5 836.5L1275.0 836.1L1275.5 835.6L1276.0 835.1L1276.5 834.6L1277.0 834.1L1277.5 833.6L1278.0 833.2L1278.5 832.8L1279.0 832.4L1279.5 832.0L1280.0 831.7L1280.5 831.3L1281.0 830.9L1281.5 830.5L1282.0 830.1L1282.5 829.7L1283.0 829.4L1283.5 829.1L1284.0 828.9L1284.5 828.7L1285.0 828.6L1285.5 828.6L1286.0 828.6L1286.5 828.7L1287.0 828.8L1287.5 828.9L1288.0 829.0L1288.5 829.2L1289.0 829.4L1289.5 829.6L1290.0 829.8L1290.5 830.0L1291.0 830.2L1291.5 830.4L1292.0 830.6L1292.5 830.8L1293.0 830.9L1293.5 831.1L1294.0 831.2L1294.5 831.4L1295.0 831.5L1295.5 831.7L1296.0 831.8L1296.5 832.0L1297.0 832.1L1297.5 832.2L1298.0 832.3L1298.5 832.4L1299.0 832.4L1299.5 832.4L1300.0 832.3L1300.5 832.2L1301.0 832.1L1301.5 832.0L1302.0 831.9L1302.5 831.7L1303.0 831.6L1303.5 831.4L1304.0 831.3L1304.5 831.2L1305.0 831.1L1305.5 831.1L1306.0 831.1L1306.5 831.1L1307.0 831.2L1307.5 831.2L1308.0 831.3L1308.5 831.4L1309.0 831.5L1309.5 831.7L1310.0 831.8L1310.5 832.0L1311.0 832.1L1311.5 832.3L1312.0 832.5L1312.5 832.7L1313.0 832.9L1313.5 833.2L1314.0 833.6L1314.5 834.1L1315.0 834.6L1315.5 835.2L1316.0 835.7L1316.5 836.2L1317.0 836.7L1317.5 837.1L1318.0 837.4L1318.5 837.7L1319.0 838.0L1319.5 838.2L1320.0 838.5L1320.5 838.7L1321.0 838.9L1321.5 839.1L1322.0 839.3L1322.5 839.4L1323.0 839.5L1323.5 839.5L1324.0 839.5L1324.5 839.5L1325.0 839.5L1325.5 839.4L1326.0 839.4L1326.5 839.3L1327.0 839.3L1327.5 839.2L1328.0 839.2L1328.5 839.1L1329.0 839.0L1329.5 838.9L1330.0 838.9L1330.5 838.8L1331.0 838.7L1331.5 838.5L1332.0 838.3L1332.5 838.1L1333.0 837.8L1333.5 837.5L1334.0 837.3L1334.5 837.0L1335.0 836.8L1335.5 836.5L1336.0 836.4L1336.5 836.2L1337.0 836.1L1337.5 836.1L1338.0 836.0L1338.5 836.0L1339.0 836.0L1339.5 835.9L1340.0 835.9L1340.5 835.9L1341.0 835.9L1341.5 835.8L1342.0 835.8L1342.5 835.8L1343.0 835.8L1343.5 835.7L1344.0 835.7L1344.5 835.7L1345.0 835.7L1345.5 835.7L1346.0 835.7L1346.5 835.7L1347.0 835.7L1347.5 835.7L1348.0 835.7L1348.5 835.7L1349.0 835.7L1349.5 835.8L1350.0 835.8L1350.5 835.8L1351.0 835.8L1351.5 835.8L1352.0 835.9L1352.5 835.9L1353.0 835.9L1353.5 836.0L1354.0 836.0L1354.5 836.0L1355.0 836.1L1355.5 836.1L1356.0 836.2L1356.5 836.2L1357.0 836.2L1357.5 836.3L1358.0 836.3L1358.5 836.4L1359.0 836.4L1359.5 836.4L1360.0 836.5L1360.5 836.5L1361.0 836.6L1361.5 836.6L1362.0 836.7L1362.5 836.7L1363.0 836.8L1363.5 836.8L1364.0 836.9L1364.5 836.9L1365.0 837.0L1365.5 837.1L1366.0 837.1L1366.5 837.2L1367.0 837.3L1367.5 837.3L1368.0 837.4L1368.5 837.4L1369.0 837.5L1369.5 837.6L1370.0 837.6L1370.5 837.7L1371.0 837.7L1371.5 837.8L1372.0 837.8L1372.5 837.8L1373.0 837.9L1373.5 837.9L1374.0 837.9L1374.5 837.9L1375.0 837.9L1375.5 837.9L1376.0 838.0L1376.5 838.0L1377.0 838.0L1377.5 838.0L1378.0 838.0L1378.5 838.0L1379.0 838.0L1379.5 838.0L1380.0 838.0L1380.5 838.0L1381.0 838.0L1381.5 838.0L1382.0 838.0L1382.5 838.1L1383.0 838.1L1383.5 838.1L1384.0 838.1L1384.5 838.1L1385.0 838.1L1385.5 838.1L1386.0 838.1L1386.5 838.1L1387.0 838.1L1387.5 838.1L1388.0 838.1L1388.5 838.2L1389.0 838.2L1389.5 838.2L1390.0 838.2L1390.5 838.2L1391.0 838.3L1391.5 838.3L1392.0 838.3L1392.5 838.4L1393.0 838.5L1393.5 838.5L1394.0 838.6L1394.5 838.7L1395.0 838.8L1395.5 838.8L1396.0 838.9L1396.5 839.0L1397.0 839.1L1397.5 839.2L1398.0 839.3L1398.5 839.4L1399.0 839.5L1399.5 839.6L1400.0 839.7L1400.5 839.8L1401.0 839.8L1401.5 839.9L1402.0 840.0L1402.5 840.1L1403.0 840.1L1403.5 840.2L1404.0 840.2L1404.5 840.3L1405.0 840.3L1405.5 840.4L1406.0 840.4L1406.5 840.5L1407.0 840.5L1407.5 840.5L1408.0 840.6L1408.5 840.6L1409.0 840.6L1409.5 840.7L1410.0 840.7L1410.5 840.7L1411.0 840.8L1411.5 840.8L1412.0 840.8L1412.5 840.8L1413.0 840.9L1413.5 840.9L1414.0 840.9L1414.5 841.0L1415.0 841.0L1415.5 841.0L1416.0 841.1L1416.5 841.1L1417.0 841.2L1417.5 841.2L1418.0 841.2L1418.5 841.3L1419.0 841.3L1419.5 841.4L1420.0 841.4L1420.5 841.5L1421.0 841.6L1421.5 841.6L1422.0 841.7L1422.5 841.8L1423.0 841.9L1423.5 842.0L1424.0 842.1L1424.5 842.2L1425.0 842.4L1425.5 842.5L1426.0 842.7L1426.5 842.8L1427.0 843.0L1427.5 843.1L1428.0 843.3L1428.5 843.5L1429.0 843.6L1429.5 843.8L1430.0 844.0L1430.5 844.2L1431.0 844.3L1431.5 844.5L1432.0 844.7L1432.5 844.9L1433.0 845.2L1433.5 845.4L1434.0 845.7L1434.5 845.9L1435.0 846.2L1435.5 846.5L1436.0 846.7L1436.5 847.0L1437.0 847.3L1437.5 847.5L1438.0 847.8L1438.5 848.0L1439.0 848.3L1439.5 848.5L1440.0 848.7L1440.5 848.9L1441.0 849.1L1441.5 849.2L1442.0 849.4L1442.5 849.5L1443.0 849.6L1443.5 849.7L1444.0 849.9L1444.5 850.0L1445.0 850.0L1445.5 850.1L1446.0 850.1L1446.5 850.1L1447.0 850.0L1447.5 850.0L1448.0 849.9L1448.5 849.7L1449.0 849.6L1449.5 849.4L1450.0 849.3L1450.5 849.1L1451.0 848.9L1451.5 848.7L1452.0 848.5L1452.5 848.4L1453.0 848.2L1453.5 848.0L1454.0 847.8L1454.5 847.7L1455.0 847.5L1455.5 847.4L1456.0 847.2L1456.5 847.1L1457.0 847.1L1457.5 847.0L1458.0 847.0L1458.5 847.0L1459.0 847.1L1459.5 847.2L1460.0 847.3L1460.5 847.4L1461.0 847.6L1461.5 847.8L1462.0 847.9L1462.5 848.1L1463.0 848.3L1463.5 848.5L1464.0 848.6L1464.5 848.9L1465.0 849.1L1465.5 849.3L1466.0 849.5L1466.5 849.8L1467.0 850.0L1467.5 850.3L1468.0 850.6L1468.5 850.9L1469.0 851.1L1469.5 851.4L1470.0 851.7L1470.5 852.0L1471.0 852.3L1471.5 852.6L1472.0 852.9L1472.5 853.2L1473.0 853.6L1473.5 853.9L1474.0 854.2L1474.5 854.5L1475.0 854.8L1475.5 855.1L1476.0 855.5L1476.5 855.8L1477.0 856.2L1477.5 856.5L1478.0 856.9L1478.5 857.3L1479.0 857.6L1479.5 858.0L1480.0 858.4L1480.5 858.8L1481.0 859.2L1481.5 859.6L1482.0 860.0L1482.5 860.4L1483.0 860.9L1483.5 861.3L1484.0 861.8L1484.5 862.3L1485.0 862.8L1485.5 863.4L1486.0 863.9L1486.5 864.5L1487.0 865.0L1487.5 865.6L1488.0 866.1L1488.5 866.6L1489.0 867.1L1489.5 867.6L1490.0 868.0L1490.5 868.5L1491.0 868.8L1491.5 869.1L1492.0 869.4L1492.5 869.6L1493.0 869.8L1493.5 870.0L1494.0 870.2L1494.5 870.3L1495.0 870.5L1495.5 870.6L1496.0 870.7L1496.5 870.8L1497.0 871.0L1497.5 871.1L1498.0 871.2L1498.5 871.4L1499.0 871.5L1499.5 871.6L1500.0 871.8L1500.5 871.9L1501.0 872.1L1501.5 872.2L1502.0 872.4L1502.5 872.5L1503.0 872.7L1503.5 872.8L1504.0 873.0L1504.5 873.1L1505.0 873.3L1505.5 873.5L1506.0 873.7L1506.5 873.9L1507.0 874.1L1507.5 874.4L1508.0 874.7L1508.5 875.0L1509.0 875.3L1509.5 875.6L1510.0 875.9L1510.5 876.2L1511.0 876.5L1511.5 876.8L1512.0 877.0L1512.5 877.1L1513.0 877.3L1513.5 877.4L1514.0 877.4L1514.5 877.4L1515.0 877.3L1515.5 877.2L1516.0 877.1L1516.5 877.0L1517.0 876.8L1517.5 876.7L1518.0 876.5L1518.5 876.3L1519.0 876.1L1519.5 875.9L1520.0 875.7L1520.5 875.6L1521.0 875.4L1521.5 875.3L1522.0 875.2L1522.5 875.1L1523.0 875.0L1523.5 875.0L1524.0 875.0L1524.5 875.1L1525.0 875.2L1525.5 875.4L1526.0 875.6L1526.5 875.9L1527.0 876.1L1527.5 876.4L1528.0 876.7L1528.5 877.0L1529.0 877.4L1529.5 877.7L1530.0 878.0L1530.5 878.3L1531.0 878.6L1531.5 878.8L1532.0 879.1L1532.5 879.3L1533.0 879.5L1533.5 879.6L1534.0 879.7L1534.5 879.7L1535.0 879.7L1535.5 879.6L1536.0 879.5L1536.5 879.3L1537.0 879.1L1537.5 878.9L1538.0 878.6L1538.5 878.4L1539.0 878.1L1539.5 877.9L1540.0 877.7L1540.5 877.4L1541.0 877.0L1541.5 876.7L1542.0 876.3L1542.5 875.8L1543.0 875.4L1543.5 874.9L1544.0 874.5L1544.5 874.0L1545.0 873.6L1545.5 873.2L1546.0 872.9L1546.5 872.6L1547.0 872.4L1547.5 872.3L1548.0 872.2L1548.5 872.2L1549.0 872.3L1549.5 872.4L1550.0 872.5L1550.5 872.7L1551.0 872.9L1551.5 873.2L1552.0 873.4L1552.5 873.7L1553.0 874.0L1553.5 874.3L1554.0 874.6L1554.5 875.1L1555.0 875.6L1555.5 876.3L1556.0 877.0L1556.5 877.7L1557.0 878.5L1557.5 879.3L1558.0 880.2L1558.5 881.0L1559.0 881.9L1559.5 882.7L1560.0 883.5L1560.5 884.3L1561.0 885.0L1561.5 885.7L1562.0 886.2L1562.5 886.8L1563.0 887.4L1563.5 887.9L1564.0 888.4L1564.5 889.0L1565.0 889.5L1565.5 890.0L1566.0 890.5L1566.5 890.9L1567.0 891.4L1567.5 891.9L1568.0 892.3L1568.5 892.8L1569.0 893.2L1569.5 893.7L1570.0 894.1L1570.5 894.5L1571.0 895.0L1571.5 895.5L1572.0 896.0L1572.5 896.5L1573.0 897.0L1573.5 897.5L1574.0 898.0L1574.5 898.4L1575.0 898.9L1575.5 899.3L1576.0 899.7L1576.5 900.0L1577.0 900.4L1577.5 900.6L1578.0 900.8L1578.5 901.0L1579.0 901.1L1579.5 901.1L1580.0 901.0L1580.5 900.8L1581.0 900.5L1581.5 900.0L1582.0 899.5L1582.5 899.0L1583.0 898.3L1583.5 897.7L1584.0 897.0L1584.5 896.3L1585.0 895.6L1585.5 894.9L1586.0 894.2L1586.5 893.6L1587.0 893.0L1587.5 892.3L1588.0 891.6L1588.5 890.9L1589.0 890.2L1589.5 889.5L1590.0 888.7L1590.5 888.0L1591.0 887.2L1591.5 886.4L1592.0 885.6L1592.5 884.8L1593.0 884.0" stroke="#000000" stroke-width="4.0"/>
<path d="M175.0 841.4L175.5 841.4L176.0 841.5L176.5 841.5L177.0 841.6L177.5 841.6L178.0 841.7L178.5 841.7L179.0 841.8L179.5 841.8L180.0 841.8L180.5 841.9L181.0 841.9L181.5 841.9L182.0 841.9L182.5 841.9L183.0 842.0L183.5 842.0L184.0 842.0L184.5 842.0L185.0 842.0L185.5 842.0L186.0 842.0L186.5 842.0L187.0 842.0L187.5 842.1L188.0 842.1L188.5 842.1L189.0 842.1L189.5 842.1L190.0 842.1L190.5 842.1L191.0 842.1L191.5 842.1L192.0 842.0L192.5 842.0L193.0 842.0L193.5 841.9L194.0 841.8L194.5 841.7L195.0 841.6L195.5 841.5L196.0 841.4L196.5 841.3L197.0 841.2L197.5 841.1L198.0 841.0L198.5 840.9L199.0 840.8L199.5 840.7L200.0 840.7L200.5 840.6L201.0 840.6L201.5 840.6L202.0 840.6L202.5 840.7L203.0 840.7L203.5 840.8L204.0 840.8L204.5 840.9L205.0 841.0L205.5 841.1L206.0 841.2L206.5 841.3L207.0 841.4L207.5 841.5L208.0 841.6L208.5 841.7L209.0 841.8L209.5 841.9L210.0 842.0L210.5 842.1L211.0 842.2L211.5 842.3L212.0 842.4L212.5 842.5L213.0 842.5L213.5 842.5L214.0 842.6L214.5 842.6L215.0 842.6L215.5 842.6L216.0 842.5L216.5 842.4L217.0 842.2L217.5 842.1L218.0 841.9L218.5 841.7L219.0 841.5L219.5 841.2L220.0 841.0L220.5 840.8L221.0 840.5L221.5 840.3L222.0 840.0L222.5 839.8L223.0 839.5L223.5 839.2L224.0 838.9L224.5 838.6L225.0 838.3L225.5 837.9L226.0 837.6L226.5 837.3L227.0 836.9L227.5 836.6L228.0 836.4L228.5 836.1L229.0 835.9L229.5 835.7L230.0 835.4L230.5 835.2L231.0 835.0L231.5 834.9L232.0 834.8L232.5 834.8L233.0 834.8L233.5 834.9L234.0 835.0L234.5 835.1L235.0 835.2L235.5 835.4L236.0 835.5L236.5 835.7L237.0 835.8L237.5 836.0L238.0 836.2L238.5 836.3L239.0 836.5L239.5 836.6L240.0 836.8L240.5 836.9L241.0 837.0L241.5 837.1L242.0 837.2L242.5 837.4L243.0 837.5L243.5 837.6L244.0 837.8L244.5 837.9L245.0 838.0L245.5 838.2L246.0 838.3L246.5 838.4L247.0 838.5L247.5 838.6L248.0 838.7L248.5 838.8L249.0 838.9L249.5 839.0L250.0 839.0L250.5 839.1L251.0 839.1L251.5 839.1L252.0 839.1L252.5 839.1L253.0 839.1L253.5 839.0L254.0 838.9L254.5 838.8L255.0 838.7L255.5 838.6L256.0 838.5L256.5 838.3L257.0 838.2L257.5 838.0L258.0 837.9L258.5 837.7L259.0 837.5L259.5 837.4L260.0 837.2L260.5 837.0L261.0 836.7L261.5 836.5L262.0 836.2L262.5 835.9L263.0 835.6L263.5 835.3L264.0 835.0L264.5 834.7L265.0 834.4L265.5 834.1L266.0 833.8L266.5 833.6L267.0 833.4L267.5 833.2L268.0 833.1L268.5 832.9L269.0 832.8L269.5 832.6L270.0 832.5L270.5 832.3L271.0 832.2L271.5 832.0L272.0 831.9L272.5 831.8L273.0 831.7L273.5 831.7L274.0 831.6L274.5 831.6L275.0 831.6L275.5 831.6L276.0 831.6L276.5 831.6L277.0 831.6L277.5 831.7L278.0 831.7L278.5 831.8L279.0 831.9L279.5 831.9L280.0 832.0L280.5 832.1L281.0 832.1L281.5 832.2L282.0 832.3L282.5 832.4L283.0 832.4L283.5 832.5L284.0 832.5L284.5 832.6L285.0 832.6L285.5 832.7L286.0 832.7L286.5 832.7L287.0 832.7L287.5 832.7L288.0 832.6L288.5 832.5L289.0 832.4L289.5 832.3L290.0 832.1L290.5 831.9L291.0 831.7L291.5 831.5L292.0 831.3L292.5 831.1L293.0 830.9L293.5 830.8L294.0 830.6L294.5 830.4L295.0 830.2L295.5 830.1L296.0 829.9L296.5 829.7L297.0 829.5L297.5 829.3L298.0 829.1L298.5 828.9L299.0 828.7L299.5 828.5L300.0 828.3L300.5 828.1L301.0 827.9L301.5 827.7L302.0 827.5L302.5 827.4L303.0 827.2L303.5 827.0L304.0 826.9L304.5 826.8L305.0 826.6L305.5 826.5L306.0 826.4L306.5 826.2L307.0 826.1L307.5 826.0L308.0 825.8L308.5 825.7L309.0 825.6L309.5 825.5L310.0 825.4L310.5 825.3L311.0 825.2L311.5 825.2L312.0 825.1L312.5 825.1L313.0 825.1L313.5 825.1L314.0 825.1L314.5 825.2L315.0 825.2L315.5 825.3L316.0 825.4L316.5 825.5L317.0 825.6L317.5 825.7L318.0 825.8L318.5 825.9L319.0 826.1L319.5 826.2L320.0 826.3L320.5 826.5L321.0 826.6L321.5 826.7L322.0 826.9L322.5 827.0L323.0 827.2L323.5 827.3L324.0 827.5L324.5 827.7L325.0 827.9L325.5 828.1L326.0 828.3L326.5 828.5L327.0 828.7L327.5 828.9L328.0 829.1L328.5 829.3L329.0 829.5L329.5 829.7L330.0 829.9L330.5 830.1L331.0 830.2L331.5 830.3L332.0 830.5L332.5 830.6L333.0 830.7L333.5 830.8L334.0 831.0L334.5 831.1L335.0 831.2L335.5 831.3L336.0 831.4L336.5 831.5L337.0 831.6L337.5 831.7L338.0 831.8L338.5 831.9L339.0 832.0L339.5 832.0L340.0 832.1L340.5 832.1L341.0 832.1L341.5 832.1L342.0 832.1L342.5 832.1L343.0 832.1L343.5 832.0L344.0 832.0L344.5 832.0L345.0 832.0L345.5 831.9L346.0 831.9L346.5 831.8L347.0 831.8L347.5 831.8L348.0 831.7L348.5 831.7L349.0 831.7L349.5 831.6L350.0 831.6L350.5 831.6L351.0 831.5L351.5 831.5L352.0 831.5L352.5 831.5L353.0 831.5L353.5 831.5L354.0 831.6L354.5 831.6L355.0 831.7L355.5 831.8L356.0 831.9L356.5 832.1L357.0 832.2L357.5 832.4L358.0 832.5L358.5 832.7L359.0 832.9L359.5 833.0L360.0 833.2L360.5 833.3L361.0 833.5L361.5 833.6L362.0 833.8L362.5 833.9L363.0 834.0L363.5 834.0L364.0 834.1L364.5 834.2L365.0 834.3L365.5 834.3L366.0 834.4L366.5 834.5L367.0 834.5L367.5 834.6L368.0 834.7L368.5 834.7L369.0 834.8L369.5 834.9L370.0 835.0L370.5 835.0L371.0 835.1L371.5 835.2L372.0 835.3L372.5 835.4L373.0 835.5L373.5 835.6L374.0 835.7L374.5 835.8L375.0 835.9L375.5 836.0L376.0 836.1L376.5 836.2L377.0 836.3L377.5 836.4L378.0 836.5L378.5 836.6L379.0 836.7L379.5 836.9L380.0 837.0L380.5 837.1L381.0 837.2L381.5 837.3L382.0 837.4L382.5 837.5L383.0 837.7L383.5 837.8L384.0 837.9L384.5 838.0L385.0 838.1L385.5 838.3L386.0 838.4L386.5 838.5L387.0 838.6L387.5 838.8L388.0 838.9L388.5 839.0L389.0 839.2L389.5 839.3L390.0 839.5L390.5 839.6L391.0 839.7L391.5 839.9L392.0 840.0L392.5 840.2L393.0 840.3L393.5 840.4L394.0 840.6L394.5 840.7L395.0 840.9L395.5 841.0L396.0 841.1L396.5 841.3L397.0 841.4L397.5 841.5L398.0 841.6L398.5 841.8L399.0 841.9L399.5 842.0L400.0 842.1L400.5 842.2L401.0 842.4L401.5 842.5L402.0 842.6L402.5 842.7L403.0 842.7L403.5 842.8L404.0 842.9L404.5 843.0L405.0 843.1L405.5 843.2L406.0 843.3L406.5 843.4L407.0 843.5L407.5 843.6L408.0 843.7L408.5 843.8L409.0 843.9L409.5 844.0L410.0 844.1L410.5 844.2L411.0 844.3L411.5 844.4L412.0 844.6L412.5 844.7L413.0 844.9L413.5 845.0L414.0 845.2L414.5 845.4L415.0 845.6L415.5 845.8L416.0 846.1L416.5 846.4L417.0 846.7L417.5 847.0L418.0 847.2L418.5 847.5L419.0 847.8L419.5 848.1L420.0 848.4L420.5 848.6L421.0 848.9L421.5 849.1L422.0 849.3L422.5 849.5L423.0 849.6L423.5 849.7L424.0 849.8L424.5 849.9L425.0 850.1L425.5 850.2L426.0 850.3L426.5 850.4L427.0 850.5L427.5 850.6L428.0 850.7L428.5 850.8L429.0 850.8L429.5 850.9L430.0 851.0L430.5 851.1L431.0 851.1L431.5 851.2L432.0 851.2L432.5 851.3L433.0 851.3L433.5 851.3L434.0 851.4L434.5 851.4L435.0 851.4L435.5 851.3L436.0 851.3L436.5 851.3L437.0 851.2L437.5 851.2L438.0 851.1L438.5 851.1L439.0 851.0L439.5 850.9L440.0 850.8L440.5 850.7L441.0 850.6L441.5 850.5L442.0 850.5L442.5 850.4L443.0 850.3L443.5 850.2L444.0 850.1L444.5 850.0L445.0 849.9L445.5 849.8L446.0 849.7L446.5 849.6L447.0 849.5L447.5 849.4L448.0 849.3L448.5 849.2L449.0 849.1L449.5 849.0L450.0 848.9L450.5 848.7L451.0 848.6L451.5 848.5L452.0 848.4L452.5 848.3L453.0 848.2L453.5 848.1L454.0 848.0L454.5 848.0L455.0 847.9L455.5 847.9L456.0 847.9L456.5 847.9L457.0 847.9L457.5 847.9L458.0 847.9L458.5 848.0L459.0 848.0L459.5 848.0L460.0 848.1L460.5 848.1L461.0 848.2L461.5 848.3L462.0 848.4L462.5 848.5L463.0 848.6L463.5 848.7L464.0 848.8L464.5 848.9L465.0 849.0L465.5 849.1L466.0 849.2L466.5 849.2L467.0 849.2L467.5 849.2L468.0 849.1L468.5 849.0L469.0 848.9L469.5 848.7L470.0 848.6L470.5 848.4L471.0 848.3L471.5 848.1L472.0 848.0L472.5 847.8L473.0 847.7L473.5 847.5L474.0 847.3L474.5 847.1L475.0 847.0L475.5 846.8L476.0 846.6L476.5 846.4L477.0 846.2L477.5 846.0L478.0 845.7L478.5 845.6L479.0 845.4L479.5 845.2L480.0 845.0L480.5 844.8L481.0 844.7L481.5 844.5L482.0 844.4L482.5 844.3L483.0 844.2L483.5 844.1L484.0 844.0L484.5 843.9L485.0 843.9L485.5 843.9L486.0 843.9L486.5 844.0L487.0 844.0L487.5 844.1L488.0 844.2L488.5 844.3L489.0 844.4L489.5 844.5L490.0 844.6L490.5 844.7L491.0 844.9L491.5 845.0L492.0 845.1L492.5 845.2L493.0 845.4L493.5 845.6L494.0 845.8L494.5 846.0L495.0 846.3L495.5 846.5L496.0 846.7L496.5 846.9L497.0 847.1L497.5 847.3L498.0 847.4L498.5 847.4L499.0 847.5L499.5 847.4L500.0 847.4L500.5 847.3L501.0 847.2L501.5 847.1L502.0 847.0L502.5 846.9L503.0 846.7L503.5 846.6L504.0 846.5L504.5 846.3L505.0 846.2L505.5 846.1L506.0 845.9L506.5 845.7L507.0 845.5L507.5 845.3L508.0 845.0L508.5 844.8L509.0 844.5L509.5 844.3L510.0 844.0L510.5 843.7L511.0 843.5L511.5 843.2L512.0 843.0L512.5 842.8L513.0 842.6L513.5 842.4L514.0 842.2L514.5 842.1L515.0 842.0L515.5 841.9L516.0 841.8L516.5 841.8L517.0 841.8L517.5 841.9L518.0 841.9L518.5 842.0L519.0 842.1L519.5 842.2L520.0 842.3L520.5 842.4L521.0 842.5L521.5 842.7L522.0 842.8L522.5 842.9L523.0 843.1L523.5 843.2L524.0 843.3L524.5 843.5L525.0 843.6L525.5 843.7L526.0 843.9L526.5 844.0L527.0 844.2L527.5 844.4L528.0 844.5L528.5 844.7L529.0 844.9L529.5 845.1L530.0 845.2L530.5 845.4L531.0 845.6L531.5 845.8L532.0 846.0L532.5 846.1L533.0 846.3L533.5 846.5L534.0 846.6L534.5 846.8L535.0 846.9L535.5 847.1L536.0 847.3L536.5 847.4L537.0 847.6L537.5 847.7L538.0 847.9L538.5 848.1L539.0 848.2L539.5 848.4L540.0 848.5L540.5 848.7L541.0 848.8L541.5 849.0L542.0 849.2L542.5 849.3L543.0 849.5L543.5 849.6L544.0 849.7L544.5 849.9L545.0 850.0L545.5 850.2L546.0 850.3L546.5 850.4L547.0 850.6L547.5 850.7L548.0 850.8L548.5 850.9L549.0 851.0L549.5 851.1L550.0 851.2L550.5 851.4L551.0 851.5L551.5 851.6L552.0 851.7L552.5 851.8L553.0 851.9L553.5 852.0L554.0 852.1L554.5 852.1L555.0 852.2L555.5 852.3L556.0 852.4L556.5 852.5L557.0 852.6L557.5 852.7L558.0 852.8L558.5 852.9L559.0 853.0L559.5 853.2L560.0 853.3L560.5 853.4L561.0 853.5L561.5 853.6L562.0 853.7L562.5 853.9L563.0 854.0L563.5 854.1L564.0 854.2L564.5 854.3L565.0 854.4L565.5 854.5L566.0 854.5L566.5 854.6L567.0 854.7L567.5 854.7L568.0 854.8L568.5 854.8L569.0 854.8L569.5 854.8L570.0 854.7L570.5 854.7L571.0 854.7L571.5 854.6L572.0 854.5L572.5 854.4L573.0 854.3L573.5 854.2L574.0 854.1L574.5 854.0L575.0 853.9L575.5 853.8L576.0 853.7L576.5 853.6L577.0 853.5L577.5 853.3L578.0 853.2L578.5 853.1L579.0 853.0L579.5 853.0L580.0 852.9L580.5 852.8L581.0 852.8L581.5 852.7L582.0 852.7L582.5 852.7L583.0 852.7L583.5 852.7L584.0 852.7L584.5 852.8L585.0 852.9L585.5 852.9L586.0 853.0L586.5 853.1L587.0 853.2L587.5 853.3L588.0 853.4L588.5 853.5L589.0 853.6L589.5 853.7L590.0 853.9L590.5 854.0L591.0 854.1L591.5 854.2L592.0 854.3L592.5 854.4L593.0 854.5L593.5 854.6L594.0 854.6L594.5 854.7L595.0 854.7L595.5 854.8L596.0 854.8L596.5 854.8L597.0 854.8L597.5 854.7L598.0 854.7L598.5 854.6L599.0 854.5L599.5 854.4L600.0 854.3L600.5 854.1L601.0 854.0L601.5 853.8L602.0 853.7L602.5 853.5L603.0 853.4L603.5 853.2L604.0 853.1L604.5 852.9L605.0 852.8L605.5 852.6L606.0 852.5L606.5 852.4L607.0 852.2L607.5 852.1L608.0 852.1L608.5 852.0L609.0 851.9L609.5 851.9L610.0 851.9L610.5 851.9L611.0 852.0L611.5 852.0L612.0 852.1L612.5 852.2L613.0 852.3L613.5 852.4L614.0 852.5L614.5 852.6L615.0 852.8L615.5 852.9L616.0 853.1L616.5 853.2L617.0 853.4L617.5 853.5L618.0 853.7L618.5 853.8L619.0 854.0L619.5 854.1L620.0 854.2L620.5 854.3L621.0 854.4L621.5 854.5L622.0 854.6L622.5 854.6L623.0 854.6L623.5 854.7L624.0 854.7L624.5 854.7L625.0 854.7L625.5 854.6L626.0 854.6L626.5 854.6L627.0 854.6L627.5 854.6L628.0 854.6L628.5 854.6L629.0 854.6L629.5 854.6L630.0 854.6L630.5 854.5L631.0 854.5L631.5 854.5L632.0 854.5L632.5 854.5L633.0 854.5L633.5 854.5L634.0 854.5L634.5 854.5L635.0 854.5L635.5 854.5L636.0 854.5L636.5 854.5L637.0 854.6L637.5 854.6L638.0 854.7L638.5 854.8L639.0 854.9L639.5 854.9L640.0 855.0L640.5 855.1L641.0 855.3L641.5 855.4L642.0 855.5L642.5 855.6L643.0 855.7L643.5 855.8L644.0 855.9L644.5 856.0L645.0 856.1L645.5 856.2L646.0 856.3L646.5 856.4L647.0 856.5L647.5 856.5L648.0 856.6L648.5 856.7L649.0 856.7L649.5 856.8L650.0 856.8L650.5 856.9L651.0 856.9L651.5 857.0L652.0 857.0L652.5 857.1L653.0 857.1L653.5 857.2L654.0 857.2L654.5 857.3L655.0 857.4L655.5 857.4L656.0 857.5L656.5 857.6L657.0 857.7L657.5 857.8L658.0 857.9L658.5 858.1L659.0 858.2L659.5 858.4L660.0 858.6L660.5 858.8L661.0 859.0L661.5 859.2L662.0 859.4L662.5 859.6L663.0 859.8L663.5 860.0L664.0 860.2L664.5 860.4L665.0 860.6L665.5 860.8L666.0 861.0L666.5 861.2L667.0 861.3L667.5 861.4L668.0 861.6L668.5 861.7L669.0 861.7L669.5 861.8L670.0 861.8L670.5 861.8L671.0 861.8L671.5 861.8L672.0 861.8L672.5 861.7L673.0 861.7L673.5 861.7L674.0 861.6L674.5 861.6L675.0 861.6L675.5 861.5L676.0 861.5L676.5 861.4L677.0 861.4L677.5 861.3L678.0 861.3L678.5 861.2L679.0 861.2L679.5 861.1L680.0 861.1L680.5 861.0L681.0 861.0L681.5 860.9L682.0 860.9L682.5 860.8L683.0 860.8L683.5 860.7L684.0 860.7L684.5 860.7L685.0 860.6L685.5 860.6L686.0 860.6L686.5 860.6L687.0 860.5L687.5 860.5L688.0 860.5L688.5 860.5L689.0 860.6L689.5 860.6L690.0 860.6L690.5 860.6L691.0 860.6L691.5 860.6L692.0 860.6L692.5 860.7L693.0 860.7L693.5 860.7L694.0 860.8L694.5 860.8L695.0 860.8L695.5 860.8L696.0 860.9L696.5 860.9L697.0 860.9L697.5 861.0L698.0 861.0L698.5 861.0L699.0 861.0L699.5 861.0L700.0 861.1L700.5 861.1L701.0 861.1L701.5 861.1L702.0 861.1L702.5 861.1L703.0 861.1L703.5 861.1L704.0 861.1L704.5 861.1L705.0 861.1L705.5 861.1L706.0 861.1L706.5 861.1L707.0 861.1L707.5 861.1L708.0 861.1L708.5 861.1L709.0 861.1L709.5 861.1L710.0 861.1L710.5 861.1L711.0 861.1L711.5 861.1L712.0 861.1L712.5 861.1L713.0 861.1L713.5 861.1L714.0 861.1L714.5 861.1L715.0 861.1L715.5 861.1L716.0 861.1L716.5 861.1L717.0 861.1L717.5 861.1L718.0 861.1L718.5 861.1L719.0 861.0L719.5 860.9L720.0 860.9L720.5 860.8L721.0 860.7L721.5 860.6L722.0 860.4L722.5 860.3L723.0 860.2L723.5 860.0L724.0 859.9L724.5 859.7L725.0 859.6L725.5 859.4L726.0 859.2L726.5 859.1L727.0 858.9L727.5 858.8L728.0 858.6L728.5 858.4L729.0 858.3L729.5 858.1L730.0 858.0L730.5 857.8L731.0 857.7L731.5 857.6L732.0 857.5L732.5 857.4L733.0 857.3L733.5 857.2L734.0 857.1L734.5 857.0L735.0 856.9L735.5 856.8L736.0 856.7L736.5 856.6L737.0 856.5L737.5 856.4L738.0 856.3L738.5 856.2L739.0 856.1L739.5 856.0L740.0 855.9L740.5 855.9L741.0 855.8L741.5 855.7L742.0 855.7L742.5 855.6L743.0 855.5L743.5 855.5L744.0 855.4L744.5 855.4L745.0 855.4L745.5 855.3L746.0 855.3L746.5 855.2L747.0 855.2L747.5 855.2L748.0 855.1L748.5 855.1L749.0 855.1L749.5 855.0L750.0 855.0L750.5 854.9L751.0 854.9L751.5 854.8L752.0 854.8L752.5 854.7L753.0 854.7L753.5 854.6L754.0 854.5L754.5 854.5L755.0 854.4L755.5 854.3L756.0 854.2L756.5 854.1L757.0 854.0L757.5 853.9L758.0 853.8L758.5 853.7L759.0 853.6L759.5 853.5L760.0 853.3L760.5 853.2L761.0 853.0L761.5 852.9L762.0 852.7L762.5 852.6L763.0 852.4L763.5 852.2L764.0 852.0L764.5 851.9L765.0 851.7L765.5 851.5L766.0 851.4L766.5 851.2L767.0 851.1L767.5 850.9L768.0 850.8L768.5 850.6L769.0 850.5L769.5 850.3L770.0 850.2L770.5 850.0L771.0 849.8L771.5 849.7L772.0 849.5L772.5 849.3L773.0 849.2L773.5 849.0L774.0 848.9L774.5 848.8L775.0 848.6L775.5 848.5L776.0 848.4L776.5 848.4L777.0 848.3L777.5 848.3L778.0 848.2L778.5 848.2L779.0 848.3L779.5 848.3L780.0 848.4L780.5 848.4L781.0 848.5L781.5 848.6L782.0 848.7L782.5 848.9L783.0 849.0L783.5 849.1L784.0 849.3L784.5 849.4L785.0 849.5L785.5 849.7L786.0 849.8L786.5 850.0L787.0 850.1L787.5 850.2L788.0 850.4L788.5 850.5L789.0 850.6L789.5 850.7L790.0 850.8L790.5 851.0L791.0 851.1L791.5 851.2L792.0 851.4L792.5 851.5L793.0 851.6L793.5 851.7L794.0 851.8L794.5 851.9L795.0 852.0L795.5 852.1L796.0 852.1L796.5 852.1L797.0 852.1L797.5 852.1L798.0 852.1L798.5 852.1L799.0 852.1L799.5 852.0L800.0 852.0L800.5 852.0L801.0 851.9L801.5 851.9L802.0 851.9L802.5 851.8L803.0 851.8L803.5 851.8L804.0 851.8L804.5 851.8L805.0 851.8L805.5 851.8L806.0 851.9L806.5 851.9L807.0 852.0L807.5 852.1L808.0 852.2L808.5 852.3L809.0 852.4L809.5 852.5L810.0 852.6L810.5 852.7L811.0 852.8L811.5 852.9L812.0 853.0L812.5 853.1L813.0 853.2L813.5 853.3L814.0 853.4L814.5 853.5L815.0 853.6L815.5 853.6L816.0 853.6L816.5 853.7L817.0 853.7L817.5 853.7L818.0 853.7L818.5 853.7L819.0 853.7L819.5 853.7L820.0 853.7L820.5 853.7L821.0 853.7L821.5 853.8L822.0 853.8L822.5 853.8L823.0 853.8L823.5 853.8L824.0 853.8L824.5 853.8L825.0 853.8L825.5 853.8L826.0 853.8L826.5 853.8L827.0 853.9L827.5 853.9L828.0 853.9L828.5 853.9L829.0 854.0L829.5 854.0L830.0 854.1L830.5 854.1L831.0 854.2L831.5 854.3L832.0 854.4L832.5 854.5L833.0 854.5L833.5 854.6L834.0 854.7L834.5 854.8L835.0 854.8L835.5 854.9L836.0 854.9L836.5 855.0L837.0 855.0L837.5 855.0L838.0 855.0L838.5 855.0L839.0 855.0L839.5 855.0L840.0 854.9L840.5 854.9L841.0 854.8L841.5 854.8L842.0 854.7L842.5 854.7L843.0 854.6L843.5 854.6L844.0 854.5L844.5 854.5L845.0 854.4L845.5 854.3L846.0 854.3L846.5 854.2L847.0 854.2L847.5 854.2L848.0 854.2L848.5 854.1L849.0 854.1L849.5 854.1L850.0 854.1L850.5 854.2L851.0 854.3L851.5 854.4L852.0 854.5L852.5 854.6L853.0 854.7L853.5 854.9L854.0 855.0L854.5 855.2L855.0 855.3L855.5 855.5L856.0 855.6L856.5 855.8L857.0 856.0L857.5 856.1L858.0 856.2L858.5 856.4L859.0 856.5L859.5 856.6L860.0 856.7L860.5 856.8L861.0 856.9L861.5 857.0L862.0 857.1L862.5 857.2L863.0 857.3L863.5 857.4L864.0 857.5L864.5 857.5L865.0 857.6L865.5 857.6L866.0 857.6L866.5 857.6L867.0 857.6L867.5 857.5L868.0 857.5L868.5 857.5L869.0 857.4L869.5 857.4L870.0 857.3L870.5 857.3L871.0 857.2L871.5 857.1L872.0 857.1L872.5 857.0L873.0 856.9L873.5 856.9L874.0 856.8L874.5 856.7L875.0 856.6L875.5 856.6L876.0 856.5L876.5 856.5L877.0 856.4L877.5 856.3L878.0 856.3L878.5 856.2L879.0 856.2L879.5 856.1L880.0 856.1L880.5 856.0L881.0 856.0L881.5 855.9L882.0 855.8L882.5 855.8L883.0 855.7L883.5 855.7L884.0 855.6L884.5 855.6L885.0 855.5L885.5 855.4L886.0 855.4L886.5 855.3L887.0 855.2L887.5 855.2L888.0 855.1L888.5 855.0L889.0 855.0L889.5 854.9L890.0 854.8L890.5 854.7L891.0 854.7L891.5 854.6L892.0 854.5L892.5 854.4L893.0 854.3L893.5 854.2L894.0 854.1L894.5 854.0L895.0 853.9L895.5 853.8L896.0 853.7L896.5 853.6L897.0 853.5L897.5 853.4L898.0 853.3L898.5 853.1L899.0 853.0L899.5 852.8L900.0 852.6L900.5 852.4L901.0 852.2L901.5 852.0L902.0 851.8L902.5 851.6L903.0 851.3L903.5 851.1L904.0 851.0L904.5 850.8L905.0 850.6L905.5 850.5L906.0 850.4L906.5 850.3L907.0 850.2L907.5 850.2L908.0 850.2L908.5 850.2L909.0 850.2L909.5 850.3L910.0 850.4L910.5 850.5L911.0 850.7L911.5 850.8L912.0 851.0L912.5 851.1L913.0 851.3L913.5 851.5L914.0 851.6L914.5 851.8L915.0 852.0L915.5 852.1L916.0 852.3L916.5 852.5L917.0 852.8L917.5 853.1L918.0 853.3L918.5 853.6L919.0 853.9L919.5 854.2L920.0 854.4L920.5 854.6L921.0 854.8L921.5 854.9L922.0 855.0L922.5 855.0L923.0 855.0L923.5 854.9L924.0 854.8L924.5 854.7L925.0 854.6L925.5 854.4L926.0 854.3L926.5 854.1L927.0 853.9L927.5 853.7L928.0 853.5L928.5 853.3L929.0 853.1L929.5 852.9L930.0 852.6L930.5 852.4L931.0 852.1L931.5 851.8L932.0 851.5L932.5 851.1L933.0 850.8L933.5 850.4L934.0 850.1L934.5 849.8L935.0 849.5L935.5 849.2L936.0 849.0L936.5 848.8L937.0 848.6L937.5 848.4L938.0 848.2L938.5 848.0L939.0 847.9L939.5 847.7L940.0 847.5L940.5 847.4L941.0 847.2L941.5 847.1L942.0 846.9L942.5 846.8L943.0 846.7L943.5 846.6L944.0 846.5L944.5 846.4L945.0 846.4L945.5 846.3L946.0 846.3L946.5 846.3L947.0 846.3L947.5 846.3L948.0 846.3L948.5 846.4L949.0 846.4L949.5 846.5L950.0 846.6L950.5 846.7L951.0 846.8L951.5 846.9L952.0 847.0L952.5 847.1L953.0 847.2L953.5 847.3L954.0 847.4L954.5 847.5L955.0 847.6L955.5 847.7L956.0 847.8L956.5 848.0L957.0 848.1L957.5 848.3L958.0 848.5L958.5 848.6L959.0 848.8L959.5 848.9L960.0 849.1L960.5 849.2L961.0 849.4L961.5 849.5L962.0 849.6L962.5 849.7L963.0 849.7L963.5 849.8L964.0 849.8L964.5 849.8L965.0 849.8L965.5 849.8L966.0 849.8L966.5 849.7L967.0 849.7L967.5 849.7L968.0 849.7L968.5 849.6L969.0 849.6L969.5 849.6L970.0 849.5L970.5 849.5L971.0 849.4L971.5 849.4L972.0 849.3L972.5 849.3L973.0 849.2L973.5 849.2L974.0 849.1L974.5 849.1L975.0 849.0L975.5 849.0L976.0 848.9L976.5 848.9L977.0 848.8L977.5 848.8L978.0 848.7L978.5 848.6L979.0 848.5L979.5 848.4L980.0 848.3L980.5 848.3L981.0 848.2L981.5 848.1L982.0 848.0L982.5 847.9L983.0 847.8L983.5 847.7L984.0 847.6L984.5 847.5L985.0 847.5L985.5 847.4L986.0 847.3L986.5 847.3L987.0 847.2L987.5 847.2L988.0 847.1L988.5 847.1L989.0 847.1L989.5 847.1L990.0 847.1L990.5 847.1L991.0 847.1L991.5 847.2L992.0 847.2L992.5 847.3L993.0 847.3L993.5 847.4L994.0 847.4L994.5 847.5L995.0 847.5L995.5 847.6L996.0 847.7L996.5 847.7L997.0 847.8L997.5 847.8L998.0 847.9L998.5 847.9L999.0 848.0L999.5 848.0L1000.0 848.0L1000.5 848.1L1001.0 848.1L1001.5 848.1L1002.0 848.0L1002.5 848.0L1003.0 848.0L1003.5 847.9L1004.0 847.9L1004.5 847.8L1005.0 847.8L1005.5 847.7L1006.0 847.6L1006.5 847.6L1007.0 847.5L1007.5 847.5L1008.0 847.5L1008.5 847.5L1009.0 847.5L1009.5 847.5L1010.0 847.5L1010.5 847.5L1011.0 847.6L1011.5 847.6L1012.0 847.7L1012.5 847.7L1013.0 847.8L1013.5 847.9L1014.0 847.9L1014.5 848.0L1015.0 848.1L1015.5 848.2L1016.0 848.3L1016.5 848.3L1017.0 848.4L1017.5 848.5L1018.0 848.6L1018.5 848.6L1019.0 848.7L1019.5 848.8L1020.0 848.8L1020.5 848.9L1021.0 848.9L1021.5 848.9L1022.0 849.0L1022.5 849.0L1023.0 849.0L1023.5 848.9L1024.0 848.9L1024.5 848.8L1025.0 848.8L1025.5 848.7L1026.0 848.6L1026.5 848.6L1027.0 848.5L1027.5 848.4L1028.0 848.3L1028.5 848.2L1029.0 848.1L1029.5 848.0L1030.0 847.9L1030.5 847.8L1031.0 847.7L1031.5 847.6L1032.0 847.5L1032.5 847.4L1033.0 847.4L1033.5 847.3L1034.0 847.2L1034.5 847.1L1035.0 847.0L1035.5 846.9L1036.0 846.8L1036.5 846.7L1037.0 846.6L1037.5 846.5L1038.0 846.4L1038.5 846.4L1039.0 846.3L1039.5 846.2L1040.0 846.2L1040.5 846.1L1041.0 846.1L1041.5 846.1L1042.0 846.1L1042.5 846.1L1043.0 846.1L1043.5 846.1L1044.0 846.2L1044.5 846.2L1045.0 846.3L1045.5 846.3L1046.0 846.4L1046.5 846.4L1047.0 846.5L1047.5 846.6L1048.0 846.7L1048.5 846.9L1049.0 847.0L1049.5 847.2L1050.0 847.3L1050.5 847.5L1051.0 847.6L1051.5 847.7L1052.0 847.8L1052.5 847.9L1053.0 848.0L1053.5 848.1L1054.0 848.2L1054.5 848.3L1055.0 848.4L1055.5 848.5L1056.0 848.6L1056.5 848.6L1057.0 848.7L1057.5 848.7L1058.0 848.8L1058.5 848.8L1059.0 848.8L1059.5 848.7L1060.0 848.7L1060.5 848.6L1061.0 848.5L1061.5 848.4L1062.0 848.3L1062.5 848.2L1063.0 848.1L1063.5 848.0L1064.0 847.9L1064.5 847.7L1065.0 847.6L1065.5 847.5L1066.0 847.4L1066.5 847.2L1067.0 847.1L1067.5 846.9L1068.0 846.8L1068.5 846.6L1069.0 846.5L1069.5 846.3L1070.0 846.1L1070.5 845.9L1071.0 845.8L1071.5 845.6L1072.0 845.4L1072.5 845.2L1073.0 845.0L1073.5 844.7L1074.0 844.5L1074.5 844.3L1075.0 844.0L1075.5 843.7L1076.0 843.4L1076.5 843.0L1077.0 842.6L1077.5 842.1L1078.0 841.5L1078.5 840.9L1079.0 840.3L1079.5 839.8L1080.0 839.3L1080.5 838.8L1081.0 838.3L1081.5 837.6L1082.0 836.9L1082.5 836.0L1083.0 835.1L1083.5 834.0L1084.0 832.7L1084.5 831.4L1085.0 829.8L1085.5 828.1L1086.0 826.1L1086.5 824.0L1087.0 821.6L1087.5 818.9L1088.0 816.0L1088.5 812.8L1089.0 809.3L1089.5 805.4L1090.0 801.3L1090.5 796.7L1091.0 791.8L1091.5 786.6L1092.0 780.9L1092.5 774.8L1093.0 768.4L1093.5 761.5L1094.0 754.2L1094.5 746.5L1095.0 738.3L1095.5 729.7L1096.0 720.8L1096.5 711.4L1097.0 701.7L1097.5 691.6L1098.0 681.1L1098.5 670.4L1099.0 659.3L1099.5 648.0L1100.0 636.4L1100.5 624.6L1101.0 612.7L1101.5 600.7L1102.0 588.6L1102.5 576.4L1103.0 564.2L1103.5 552.1L1104.0 540.1L1104.5 528.3L1105.0 516.6L1105.5 505.2L1106.0 494.0L1106.5 483.1L1107.0 472.7L1107.5 462.5L1108.0 452.9L1108.5 443.7L1109.0 434.9L1109.5 426.7L1110.0 419.0L1110.5 411.9L1111.0 405.3L1111.5 399.3L1112.0 393.9L1112.5 389.1L1113.0 384.9L1113.5 381.2L1114.0 378.0L1114.5 375.5L1115.0 373.4L1115.5 371.8L1116.0 370.6L1116.5 369.9L1117.0 369.5L1117.5 369.4L1118.0 369.4L1118.5 369.7L1119.0 370.3L1119.5 371.3L1120.0 372.7L1120.5 374.6L1121.0 376.9L1121.5 379.9L1122.0 383.3L1122.5 387.3L1123.0 391.9L1123.5 397.1L1124.0 402.9L1124.5 409.2L1125.0 416.1L1125.5 423.6L1126.0 431.6L1126.5 440.2L1127.0 449.2L1127.5 458.7L1128.0 468.7L1128.5 479.0L1129.0 489.8L1129.5 500.9L1130.0 512.2L1130.5 523.8L1131.0 535.6L1131.5 547.6L1132.0 559.7L1132.5 571.9L1133.0 584.1L1133.5 596.3L1134.0 608.4L1134.5 620.4L1135.0 632.3L1135.5 644.0L1136.0 655.4L1136.5 666.7L1137.0 677.6L1137.5 688.2L1138.0 698.5L1138.5 708.5L1139.0 718.0L1139.5 727.2L1140.0 736.0L1140.5 744.3L1141.0 752.3L1141.5 759.8L1142.0 766.9L1142.5 773.6L1143.0 779.9L1143.5 785.8L1144.0 791.2L1144.5 796.3L1145.0 801.0L1145.5 805.4L1146.0 809.4L1146.5 813.1L1147.0 816.5L1147.5 819.6L1148.0 822.4L1148.5 824.9L1149.0 827.2L1149.5 829.3L1150.0 831.2L1150.5 832.9L1151.0 834.4L1151.5 835.7L1152.0 836.9L1152.5 837.9L1153.0 838.9L1153.5 839.7L1154.0 840.4L1154.5 841.1L1155.0 841.9L1155.5 842.8L1156.0 843.8L1156.5 844.7L1157.0 845.7L1157.5 846.5L1158.0 847.2L1158.5 847.6L1159.0 847.9L1159.5 847.9L1160.0 847.9L1160.5 847.8L1161.0 847.6L1161.5 847.4L1162.0 847.1L1162.5 846.9L1163.0 846.6L1163.5 846.2L1164.0 845.8L1164.5 845.4L1165.0 844.9L1165.5 844.5L1166.0 844.0L1166.5 843.6L1167.0 843.2L1167.5 842.8L1168.0 842.4L1168.5 842.1L1169.0 841.7L1169.5 841.4L1170.0 841.0L1170.5 840.7L1171.0 840.4L1171.5 840.2L1172.0 840.0L1172.5 839.9L1173.0 839.8L1173.5 839.9L1174.0 840.0L1174.5 840.2L1175.0 840.4L1175.5 840.6L1176.0 840.9L1176.5 841.2L1177.0 841.5L1177.5 841.8L1178.0 842.0L1178.5 842.3L1179.0 842.5L1179.5 842.8L1180.0 843.0L1180.5 843.3L1181.0 843.6L1181.5 843.9L1182.0 844.2L1182.5 844.5L1183.0 844.7L1183.5 845.0L1184.0 845.2L1184.5 845.4L1185.0 845.6L1185.5 845.8L1186.0 846.0L1186.5 846.1L1187.0 846.3L1187.5 846.4L1188.0 846.5L1188.5 846.6L1189.0 846.7L1189.5 846.8L1190.0 846.9L1190.5 847.0L1191.0 847.1L1191.5 847.2L1192.0 847.3L1192.5 847.3L1193.0 847.4L1193.5 847.5L1194.0 847.5L1194.5 847.5L1195.0 847.5L1195.5 847.5L1196.0 847.4L1196.5 847.3L1197.0 847.2L1197.5 847.0L1198.0 846.8L1198.5 846.7L1199.0 846.5L1199.5 846.2L1200.0 846.0L1200.5 845.8L1201.0 845.6L1201.5 845.4L1202.0 845.1L1202.5 844.8L1203.0 844.4L1203.5 844.1L1204.0 843.7L1204.5 843.3L1205.0 842.9L1205.5 842.6L1206.0 842.2L1206.5 841.9L1207.0 841.5L1207.5 841.3L1208.0 841.0L1208.5 840.8L1209.0 840.5L1209.5 840.2L1210.0 840.0L1210.5 839.7L1211.0 839.5L1211.5 839.2L1212.0 839.0L1212.5 838.9L1213.0 838.7L1213.5 838.6L1214.0 838.5L1214.5 838.5L1215.0 838.5L1215.5 838.5L1216.0 838.6L1216.5 838.6L1217.0 838.7L1217.5 838.7L1218.0 838.8L1218.5 838.8L1219.0 838.9L1219.5 839.0L1220.0 839.1L1220.5 839.1L1221.0 839.2L1221.5 839.3L1222.0 839.4L1222.5 839.5L1223.0 839.5L1223.5 839.6L1224.0 839.7L1224.5 839.8L1225.0 839.9L1225.5 840.0L1226.0 840.1L1226.5 840.3L1227.0 840.4L1227.5 840.5L1228.0 840.6L1228.5 840.7L1229.0 840.8L1229.5 840.8L1230.0 840.9L1230.5 841.0L1231.0 841.0L1231.5 841.0L1232.0 841.0L1232.5 841.1L1233.0 841.1L1233.5 841.1L1234.0 841.1L1234.5 841.1L1235.0 841.1L1235.5 841.2L1236.0 841.2L1236.5 841.2L1237.0 841.1L1237.5 841.1L1238.0 841.0L1238.5 840.9L1239.0 840.8L1239.5 840.7L1240.0 840.6L1240.5 840.5L1241.0 840.3L1241.5 840.2L1242.0 840.1L1242.5 839.9L1243.0 839.8L1243.5 839.6L1244.0 839.5L1244.5 839.4L1245.0 839.2L1245.5 839.1L1246.0 839.0L1246.5 838.9L1247.0 838.8L1247.5 838.7L1248.0 838.5L1248.5 838.4L1249.0 838.2L1249.5 838.1L1250.0 837.9L1250.5 837.6L1251.0 837.2L1251.5 836.8L1252.0 836.3L1252.5 835.8L1253.0 835.3L1253.5 834.9L1254.0 834.6L1254.5 834.4L1255.0 834.1L1255.5 833.9L1256.0 833.7L1256.5 833.5L1257.0 833.3L1257.5 833.1L1258.0 833.0L1258.5 832.9L1259.0 832.8L1259.5 832.8L1260.0 832.8L1260.5 832.9L1261.0 832.9L1261.5 833.0L1262.0 833.1L1262.5 833.2L1263.0 833.3L1263.5 833.4L1264.0 833.5L1264.5 833.7L1265.0 833.8L1265.5 834.0L1266.0 834.1L1266.5 834.3L1267.0 834.5L1267.5 834.7L1268.0 835.1L1268.5 835.4L1269.0 835.7L1269.5 836.0L1270.0 836.3L1270.5 836.6L1271.0 836.8L1271.5 836.9L1272.0 836.9L1272.5 836.8L1273.0 836.7L1273.5 836.5L1274.0 836.3L1274.5 836.1L1275.0 835.8L1275.5 835.5L1276.0 835.2L1276.5 834.9L1277.0 834.6L1277.5 834.3L1278.0 834.1L1278.5 833.8L1279.0 833.6L1279.5 833.4L1280.0 833.2L1280.5 832.9L1281.0 832.7L1281.5 832.4L1282.0 832.2L1282.5 832.0L1283.0 831.8L1283.5 831.6L1284.0 831.5L1284.5 831.4L1285.0 831.3L1285.5 831.3L1286.0 831.3L1286.5 831.4L1287.0 831.4L1287.5 831.5L1288.0 831.6L1288.5 831.7L1289.0 831.8L1289.5 831.9L1290.0 832.0L1290.5 832.1L1291.0 832.3L1291.5 832.4L1292.0 832.5L1292.5 832.6L1293.0 832.7L1293.5 832.8L1294.0 832.9L1294.5 833.0L1295.0 833.1L1295.5 833.2L1296.0 833.3L1296.5 833.4L1297.0 833.4L1297.5 833.5L1298.0 833.6L1298.5 833.6L1299.0 833.6L1299.5 833.6L1300.0 833.6L1300.5 833.5L1301.0 833.4L1301.5 833.4L1302.0 833.3L1302.5 833.2L1303.0 833.1L1303.5 833.0L1304.0 833.0L1304.5 832.9L1305.0 832.8L1305.5 832.8L1306.0 832.8L1306.5 832.8L1307.0 832.9L1307.5 832.9L1308.0 832.9L1308.5 833.0L1309.0 833.1L1309.5 833.2L1310.0 833.2L1310.5 833.3L1311.0 833.4L1311.5 833.5L1312.0 833.6L1312.5 833.8L1313.0 833.9L1313.5 834.1L1314.0 834.3L1314.5 834.6L1315.0 834.9L1315.5 835.3L1316.0 835.6L1316.5 835.9L1317.0 836.2L1317.5 836.4L1318.0 836.6L1318.5 836.8L1319.0 836.9L1319.5 837.1L1320.0 837.2L1320.5 837.4L1321.0 837.5L1321.5 837.6L1322.0 837.7L1322.5 837.8L1323.0 837.8L1323.5 837.9L1324.0 837.9L1324.5 837.9L1325.0 837.8L1325.5 837.8L1326.0 837.8L1326.5 837.8L1327.0 837.7L1327.5 837.7L1328.0 837.7L1328.5 837.6L1329.0 837.6L1329.5 837.5L1330.0 837.5L1330.5 837.4L1331.0 837.4L1331.5 837.3L1332.0 837.1L1332.5 837.0L1333.0 836.8L1333.5 836.7L1334.0 836.5L1334.5 836.4L1335.0 836.2L1335.5 836.1L1336.0 836.0L1336.5 835.9L1337.0 835.8L1337.5 835.8L1338.0 835.8L1338.5 835.8L1339.0 835.7L1339.5 835.7L1340.0 835.7L1340.5 835.7L1341.0 835.7L1341.5 835.7L1342.0 835.6L1342.5 835.6L1343.0 835.6L1343.5 835.6L1344.0 835.6L1344.5 835.6L1345.0 835.6L1345.5 835.6L1346.0 835.6L1346.5 835.6L1347.0 835.6L1347.5 835.6L1348.0 835.6L1348.5 835.6L1349.0 835.6L1349.5 835.6L1350.0 835.6L1350.5 835.6L1351.0 835.7L1351.5 835.7L1352.0 835.7L1352.5 835.7L1353.0 835.7L1353.5 835.7L1354.0 835.8L1354.5 835.8L1355.0 835.8L1355.5 835.8L1356.0 835.9L1356.5 835.9L1357.0 835.9L1357.5 835.9L1358.0 836.0L1358.5 836.0L1359.0 836.0L1359.5 836.0L1360.0 836.0L1360.5 836.1L1361.0 836.1L1361.5 836.1L1362.0 836.2L1362.5 836.2L1363.0 836.2L1363.5 836.2L1364.0 836.3L1364.5 836.3L1365.0 836.4L1365.5 836.4L1366.0 836.4L1366.5 836.5L1367.0 836.5L1367.5 836.5L1368.0 836.6L1368.5 836.6L1369.0 836.7L1369.5 836.7L1370.0 836.7L1370.5 836.8L1371.0 836.8L1371.5 836.8L1372.0 836.8L1372.5 836.9L1373.0 836.9L1373.5 836.9L1374.0 836.9L1374.5 836.9L1375.0 836.9L1375.5 836.9L1376.0 836.9L1376.5 836.9L1377.0 836.9L1377.5 837.0L1378.0 837.0L1378.5 837.0L1379.0 837.0L1379.5 837.0L1380.0 837.0L1380.5 837.0L1381.0 837.0L1381.5 837.0L1382.0 837.0L1382.5 837.0L1383.0 837.0L1383.5 837.0L1384.0 837.0L1384.5 837.0L1385.0 837.0L1385.5 837.0L1386.0 837.0L1386.5 837.0L1387.0 837.0L1387.5 837.0L1388.0 837.0L1388.5 837.1L1389.0 837.1L1389.5 837.1L1390.0 837.1L1390.5 837.1L1391.0 837.1L1391.5 837.1L1392.0 837.2L1392.5 837.2L1393.0 837.2L1393.5 837.3L1394.0 837.3L1394.5 837.4L1395.0 837.4L1395.5 837.5L1396.0 837.5L1396.5 837.6L1397.0 837.6L1397.5 837.7L1398.0 837.7L1398.5 837.8L1399.0 837.9L1399.5 837.9L1400.0 838.0L1400.5 838.0L1401.0 838.1L1401.5 838.1L1402.0 838.2L1402.5 838.2L1403.0 838.2L1403.5 838.3L1404.0 838.3L1404.5 838.3L1405.0 838.4L1405.5 838.4L1406.0 838.4L1406.5 838.4L1407.0 838.5L1407.5 838.5L1408.0 838.5L1408.5 838.5L1409.0 838.5L1409.5 838.6L1410.0 838.6L1410.5 838.6L1411.0 838.6L1411.5 838.6L1412.0 838.6L1412.5 838.7L1413.0 838.7L1413.5 838.7L1414.0 838.7L1414.5 838.7L1415.0 838.8L1415.5 838.8L1416.0 838.8L1416.5 838.8L1417.0 838.9L1417.5 838.9L1418.0 838.9L1418.5 838.9L1419.0 839.0L1419.5 839.0L1420.0 839.0L1420.5 839.1L1421.0 839.1L1421.5 839.1L1422.0 839.2L1422.5 839.2L1423.0 839.3L1423.5 839.4L1424.0 839.4L1424.5 839.5L1425.0 839.6L1425.5 839.7L1426.0 839.8L1426.5 839.8L1427.0 839.9L1427.5 840.0L1428.0 840.1L1428.5 840.2L1429.0 840.3L1429.5 840.4L1430.0 840.6L1430.5 840.7L1431.0 840.8L1431.5 840.9L1432.0 841.0L1432.5 841.1L1433.0 841.3L1433.5 841.4L1434.0 841.6L1434.5 841.7L1435.0 841.9L1435.5 842.0L1436.0 842.2L1436.5 842.4L1437.0 842.5L1437.5 842.7L1438.0 842.8L1438.5 843.0L1439.0 843.1L1439.5 843.3L1440.0 843.4L1440.5 843.5L1441.0 843.6L1441.5 843.7L1442.0 843.8L1442.5 843.9L1443.0 843.9L1443.5 844.0L1444.0 844.1L1444.5 844.1L1445.0 844.2L1445.5 844.2L1446.0 844.2L1446.5 844.2L1447.0 844.2L1447.5 844.1L1448.0 844.1L1448.5 844.0L1449.0 843.9L1449.5 843.8L1450.0 843.7L1450.5 843.6L1451.0 843.5L1451.5 843.4L1452.0 843.3L1452.5 843.2L1453.0 843.1L1453.5 843.0L1454.0 842.8L1454.5 842.8L1455.0 842.7L1455.5 842.6L1456.0 842.5L1456.5 842.4L1457.0 842.4L1457.5 842.4L1458.0 842.4L1458.5 842.4L1459.0 842.4L1459.5 842.5L1460.0 842.5L1460.5 842.6L1461.0 842.7L1461.5 842.8L1462.0 842.9L1462.5 843.0L1463.0 843.1L1463.5 843.2L1464.0 843.3L1464.5 843.5L1465.0 843.6L1465.5 843.7L1466.0 843.9L1466.5 844.0L1467.0 844.2L1467.5 844.3L1468.0 844.5L1468.5 844.7L1469.0 844.8L1469.5 845.0L1470.0 845.2L1470.5 845.4L1471.0 845.6L1471.5 845.7L1472.0 845.9L1472.5 846.1L1473.0 846.3L1473.5 846.5L1474.0 846.7L1474.5 846.9L1475.0 847.1L1475.5 847.2L1476.0 847.4L1476.5 847.7L1477.0 847.9L1477.5 848.1L1478.0 848.3L1478.5 848.5L1479.0 848.7L1479.5 849.0L1480.0 849.2L1480.5 849.4L1481.0 849.7L1481.5 849.9L1482.0 850.2L1482.5 850.4L1483.0 850.7L1483.5 850.9L1484.0 851.2L1484.5 851.5L1485.0 851.9L1485.5 852.2L1486.0 852.5L1486.5 852.8L1487.0 853.2L1487.5 853.5L1488.0 853.8L1488.5 854.1L1489.0 854.4L1489.5 854.7L1490.0 855.0L1490.5 855.2L1491.0 855.5L1491.5 855.6L1492.0 855.8L1492.5 855.9L1493.0 856.1L1493.5 856.2L1494.0 856.3L1494.5 856.3L1495.0 856.4L1495.5 856.5L1496.0 856.6L1496.5 856.7L1497.0 856.7L1497.5 856.8L1498.0 856.9L1498.5 857.0L1499.0 857.1L1499.5 857.1L1500.0 857.2L1500.5 857.3L1501.0 857.4L1501.5 857.5L1502.0 857.6L1502.5 857.7L1503.0 857.8L1503.5 857.9L1504.0 858.0L1504.5 858.0L1505.0 858.1L1505.5 858.3L1506.0 858.4L1506.5 858.5L1507.0 858.6L1507.5 858.8L1508.0 859.0L1508.5 859.2L1509.0 859.4L1509.5 859.5L1510.0 859.7L1510.5 859.9L1511.0 860.1L1511.5 860.2L1512.0 860.3L1512.5 860.4L1513.0 860.5L1513.5 860.6L1514.0 860.6L1514.5 860.6L1515.0 860.6L1515.5 860.5L1516.0 860.4L1516.5 860.4L1517.0 860.3L1517.5 860.2L1518.0 860.0L1518.5 859.9L1519.0 859.8L1519.5 859.7L1520.0 859.6L1520.5 859.5L1521.0 859.4L1521.5 859.3L1522.0 859.3L1522.5 859.2L1523.0 859.2L1523.5 859.2L1524.0 859.2L1524.5 859.2L1525.0 859.3L1525.5 859.4L1526.0 859.5L1526.5 859.7L1527.0 859.8L1527.5 860.0L1528.0 860.2L1528.5 860.4L1529.0 860.6L1529.5 860.8L1530.0 861.0L1530.5 861.1L1531.0 861.3L1531.5 861.5L1532.0 861.6L1532.5 861.7L1533.0 861.8L1533.5 861.9L1534.0 862.0L1534.5 862.0L1535.0 862.0L1535.5 861.9L1536.0 861.8L1536.5 861.7L1537.0 861.6L1537.5 861.5L1538.0 861.3L1538.5 861.2L1539.0 861.0L1539.5 860.9L1540.0 860.8L1540.5 860.6L1541.0 860.4L1541.5 860.2L1542.0 859.9L1542.5 859.7L1543.0 859.4L1543.5 859.1L1544.0 858.8L1544.5 858.6L1545.0 858.3L1545.5 858.1L1546.0 857.9L1546.5 857.7L1547.0 857.6L1547.5 857.5L1548.0 857.5L1548.5 857.5L1549.0 857.5L1549.5 857.6L1550.0 857.7L1550.5 857.8L1551.0 857.9L1551.5 858.1L1552.0 858.2L1552.5 858.4L1553.0 858.6L1553.5 858.7L1554.0 858.9L1554.5 859.2L1555.0 859.5L1555.5 859.9L1556.0 860.3L1556.5 860.8L1557.0 861.3L1557.5 861.8L1558.0 862.3L1558.5 862.8L1559.0 863.3L1559.5 863.8L1560.0 864.3L1560.5 864.7L1561.0 865.2L1561.5 865.6L1562.0 865.9L1562.5 866.2L1563.0 866.6L1563.5 866.9L1564.0 867.2L1564.5 867.5L1565.0 867.8L1565.5 868.1L1566.0 868.4L1566.5 868.7L1567.0 869.0L1567.5 869.3L1568.0 869.6L1568.5 869.8L1569.0 870.1L1569.5 870.4L1570.0 870.6L1570.5 870.9L1571.0 871.2L1571.5 871.4L1572.0 871.7L1572.5 872.0L1573.0 872.3L1573.5 872.6L1574.0 872.9L1574.5 873.2L1575.0 873.5L1575.5 873.7L1576.0 874.0L1576.5 874.2L1577.0 874.4L1577.5 874.5L1578.0 874.7L1578.5 874.8L1579.0 874.8L1579.5 874.8L1580.0 874.8L1580.5 874.6L1581.0 874.4L1581.5 874.2L1582.0 873.9L1582.5 873.5L1583.0 873.2L1583.5 872.8L1584.0 872.3L1584.5 871.9L1585.0 871.5L1585.5 871.1L1586.0 870.7L1586.5 870.3L1587.0 870.0L1587.5 869.6L1588.0 869.1L1588.5 868.7L1589.0 868.3L1589.5 867.8L1590.0 867.4L1590.5 866.9L1591.0 866.5L1591.5 866.0L1592.0 865.5L1592.5 865.1L1593.0 864.6" stroke="#E5343F" stroke-width="4.2"/>
<path d="M175.0 838.1L175.5 838.1L176.0 838.1L176.5 838.2L177.0 838.2L177.5 838.2L178.0 838.2L178.5 838.2L179.0 838.3L179.5 838.3L180.0 838.3L180.5 838.3L181.0 838.3L181.5 838.3L182.0 838.3L182.5 838.3L183.0 838.4L183.5 838.4L184.0 838.4L184.5 838.4L185.0 838.4L185.5 838.4L186.0 838.4L186.5 838.4L187.0 838.4L187.5 838.4L188.0 838.4L188.5 838.4L189.0 838.4L189.5 838.4L190.0 838.4L190.5 838.4L191.0 838.4L191.5 838.4L192.0 838.4L192.5 838.4L193.0 838.3L193.5 838.3L194.0 838.3L194.5 838.2L195.0 838.2L195.5 838.1L196.0 838.1L196.5 838.0L197.0 838.0L197.5 838.0L198.0 837.9L198.5 837.9L199.0 837.8L199.5 837.8L200.0 837.8L200.5 837.8L201.0 837.7L201.5 837.8L202.0 837.8L202.5 837.8L203.0 837.8L203.5 837.8L204.0 837.9L204.5 837.9L205.0 837.9L205.5 838.0L206.0 838.0L206.5 838.1L207.0 838.1L207.5 838.2L208.0 838.2L208.5 838.2L209.0 838.3L209.5 838.3L210.0 838.4L210.5 838.4L211.0 838.5L211.5 838.5L212.0 838.5L212.5 838.6L213.0 838.6L213.5 838.6L214.0 838.6L214.5 838.6L215.0 838.6L215.5 838.6L216.0 838.6L216.5 838.5L217.0 838.5L217.5 838.4L218.0 838.3L218.5 838.2L219.0 838.1L219.5 838.0L220.0 837.9L220.5 837.8L221.0 837.7L221.5 837.6L222.0 837.5L222.5 837.4L223.0 837.3L223.5 837.1L224.0 837.0L224.5 836.8L225.0 836.7L225.5 836.5L226.0 836.4L226.5 836.2L227.0 836.1L227.5 836.0L228.0 835.8L228.5 835.7L229.0 835.6L229.5 835.5L230.0 835.4L230.5 835.3L231.0 835.2L231.5 835.2L232.0 835.1L232.5 835.1L233.0 835.1L233.5 835.2L234.0 835.2L234.5 835.3L235.0 835.3L235.5 835.4L236.0 835.4L236.5 835.5L237.0 835.6L237.5 835.7L238.0 835.7L238.5 835.8L239.0 835.9L239.5 836.0L240.0 836.0L240.5 836.1L241.0 836.1L241.5 836.2L242.0 836.2L242.5 836.3L243.0 836.3L243.5 836.4L244.0 836.5L244.5 836.5L245.0 836.6L245.5 836.6L246.0 836.7L246.5 836.8L247.0 836.8L247.5 836.9L248.0 836.9L248.5 836.9L249.0 837.0L249.5 837.0L250.0 837.0L250.5 837.1L251.0 837.1L251.5 837.1L252.0 837.1L252.5 837.1L253.0 837.0L253.5 837.0L254.0 837.0L254.5 836.9L255.0 836.9L255.5 836.8L256.0 836.8L256.5 836.7L257.0 836.6L257.5 836.6L258.0 836.5L258.5 836.4L259.0 836.4L259.5 836.3L260.0 836.2L260.5 836.1L261.0 836.0L261.5 835.9L262.0 835.8L262.5 835.6L263.0 835.5L263.5 835.3L264.0 835.2L264.5 835.1L265.0 834.9L265.5 834.8L266.0 834.7L266.5 834.6L267.0 834.5L267.5 834.4L268.0 834.4L268.5 834.3L269.0 834.2L269.5 834.1L270.0 834.1L270.5 834.0L271.0 833.9L271.5 833.9L272.0 833.8L272.5 833.8L273.0 833.8L273.5 833.7L274.0 833.7L274.5 833.7L275.0 833.7L275.5 833.7L276.0 833.7L276.5 833.7L277.0 833.7L277.5 833.7L278.0 833.8L278.5 833.8L279.0 833.8L279.5 833.8L280.0 833.9L280.5 833.9L281.0 833.9L281.5 834.0L282.0 834.0L282.5 834.0L283.0 834.1L283.5 834.1L284.0 834.1L284.5 834.1L285.0 834.2L285.5 834.2L286.0 834.2L286.5 834.2L287.0 834.2L287.5 834.2L288.0 834.1L288.5 834.1L289.0 834.0L289.5 834.0L290.0 833.9L290.5 833.8L291.0 833.8L291.5 833.7L292.0 833.6L292.5 833.5L293.0 833.4L293.5 833.3L294.0 833.2L294.5 833.1L295.0 833.1L295.5 833.0L296.0 832.9L296.5 832.8L297.0 832.7L297.5 832.6L298.0 832.6L298.5 832.5L299.0 832.4L299.5 832.3L300.0 832.2L300.5 832.1L301.0 832.0L301.5 831.9L302.0 831.9L302.5 831.8L303.0 831.7L303.5 831.6L304.0 831.6L304.5 831.5L305.0 831.5L305.5 831.4L306.0 831.3L306.5 831.3L307.0 831.2L307.5 831.2L308.0 831.1L308.5 831.0L309.0 831.0L309.5 830.9L310.0 830.9L310.5 830.9L311.0 830.8L311.5 830.8L312.0 830.8L312.5 830.8L313.0 830.8L313.5 830.8L314.0 830.8L314.5 830.8L315.0 830.8L315.5 830.8L316.0 830.9L316.5 830.9L317.0 831.0L317.5 831.0L318.0 831.1L318.5 831.1L319.0 831.2L319.5 831.3L320.0 831.3L320.5 831.4L321.0 831.4L321.5 831.5L322.0 831.6L322.5 831.6L323.0 831.7L323.5 831.8L324.0 831.9L324.5 831.9L325.0 832.0L325.5 832.1L326.0 832.2L326.5 832.3L327.0 832.4L327.5 832.5L328.0 832.6L328.5 832.7L329.0 832.8L329.5 832.8L330.0 832.9L330.5 833.0L331.0 833.1L331.5 833.1L332.0 833.2L332.5 833.2L333.0 833.3L333.5 833.3L334.0 833.4L334.5 833.5L335.0 833.5L335.5 833.6L336.0 833.6L336.5 833.7L337.0 833.7L337.5 833.7L338.0 833.8L338.5 833.8L339.0 833.8L339.5 833.9L340.0 833.9L340.5 833.9L341.0 833.9L341.5 833.9L342.0 833.9L342.5 833.9L343.0 833.9L343.5 833.9L344.0 833.9L344.5 833.9L345.0 833.9L345.5 833.8L346.0 833.8L346.5 833.8L347.0 833.8L347.5 833.8L348.0 833.8L348.5 833.7L349.0 833.7L349.5 833.7L350.0 833.7L350.5 833.7L351.0 833.7L351.5 833.7L352.0 833.7L352.5 833.6L353.0 833.6L353.5 833.7L354.0 833.7L354.5 833.7L355.0 833.7L355.5 833.8L356.0 833.8L356.5 833.9L357.0 834.0L357.5 834.0L358.0 834.1L358.5 834.2L359.0 834.3L359.5 834.3L360.0 834.4L360.5 834.5L361.0 834.5L361.5 834.6L362.0 834.7L362.5 834.7L363.0 834.7L363.5 834.8L364.0 834.8L364.5 834.9L365.0 834.9L365.5 834.9L366.0 835.0L366.5 835.0L367.0 835.0L367.5 835.0L368.0 835.1L368.5 835.1L369.0 835.1L369.5 835.2L370.0 835.2L370.5 835.2L371.0 835.3L371.5 835.3L372.0 835.4L372.5 835.4L373.0 835.4L373.5 835.5L374.0 835.5L374.5 835.6L375.0 835.6L375.5 835.7L376.0 835.7L376.5 835.8L377.0 835.8L377.5 835.9L378.0 835.9L378.5 836.0L379.0 836.0L379.5 836.1L380.0 836.1L380.5 836.2L381.0 836.2L381.5 836.3L382.0 836.3L382.5 836.4L383.0 836.4L383.5 836.5L384.0 836.5L384.5 836.6L385.0 836.6L385.5 836.7L386.0 836.7L386.5 836.8L387.0 836.9L387.5 836.9L388.0 837.0L388.5 837.0L389.0 837.1L389.5 837.2L390.0 837.2L390.5 837.3L391.0 837.4L391.5 837.4L392.0 837.5L392.5 837.5L393.0 837.6L393.5 837.7L394.0 837.7L394.5 837.8L395.0 837.9L395.5 837.9L396.0 838.0L396.5 838.0L397.0 838.1L397.5 838.2L398.0 838.2L398.5 838.3L399.0 838.3L399.5 838.4L400.0 838.4L400.5 838.5L401.0 838.5L401.5 838.6L402.0 838.6L402.5 838.7L403.0 838.7L403.5 838.7L404.0 838.8L404.5 838.8L405.0 838.9L405.5 838.9L406.0 839.0L406.5 839.0L407.0 839.0L407.5 839.1L408.0 839.1L408.5 839.2L409.0 839.2L409.5 839.3L410.0 839.3L410.5 839.4L411.0 839.4L411.5 839.5L412.0 839.5L412.5 839.6L413.0 839.7L413.5 839.7L414.0 839.8L414.5 839.9L415.0 840.0L415.5 840.1L416.0 840.2L416.5 840.3L417.0 840.5L417.5 840.6L418.0 840.7L418.5 840.9L419.0 841.0L419.5 841.1L420.0 841.2L420.5 841.4L421.0 841.5L421.5 841.6L422.0 841.6L422.5 841.7L423.0 841.8L423.5 841.8L424.0 841.9L424.5 841.9L425.0 842.0L425.5 842.0L426.0 842.1L426.5 842.1L427.0 842.2L427.5 842.2L428.0 842.3L428.5 842.3L429.0 842.3L429.5 842.4L430.0 842.4L430.5 842.4L431.0 842.5L431.5 842.5L432.0 842.5L432.5 842.5L433.0 842.6L433.5 842.6L434.0 842.6L434.5 842.6L435.0 842.6L435.5 842.6L436.0 842.6L436.5 842.5L437.0 842.5L437.5 842.5L438.0 842.5L438.5 842.4L439.0 842.4L439.5 842.4L440.0 842.3L440.5 842.3L441.0 842.3L441.5 842.2L442.0 842.2L442.5 842.1L443.0 842.1L443.5 842.0L444.0 842.0L444.5 842.0L445.0 841.9L445.5 841.9L446.0 841.8L446.5 841.8L447.0 841.8L447.5 841.7L448.0 841.7L448.5 841.6L449.0 841.6L449.5 841.5L450.0 841.5L450.5 841.4L451.0 841.3L451.5 841.3L452.0 841.2L452.5 841.2L453.0 841.2L453.5 841.1L454.0 841.1L454.5 841.1L455.0 841.0L455.5 841.0L456.0 841.0L456.5 841.0L457.0 841.0L457.5 841.0L458.0 841.0L458.5 841.1L459.0 841.1L459.5 841.1L460.0 841.1L460.5 841.1L461.0 841.1L461.5 841.2L462.0 841.2L462.5 841.3L463.0 841.3L463.5 841.4L464.0 841.4L464.5 841.5L465.0 841.5L465.5 841.6L466.0 841.6L466.5 841.6L467.0 841.6L467.5 841.6L468.0 841.6L468.5 841.5L469.0 841.5L469.5 841.4L470.0 841.3L470.5 841.3L471.0 841.2L471.5 841.1L472.0 841.1L472.5 841.0L473.0 840.9L473.5 840.9L474.0 840.8L474.5 840.7L475.0 840.6L475.5 840.5L476.0 840.4L476.5 840.3L477.0 840.2L477.5 840.1L478.0 840.1L478.5 840.0L479.0 839.9L479.5 839.8L480.0 839.7L480.5 839.6L481.0 839.6L481.5 839.5L482.0 839.4L482.5 839.4L483.0 839.3L483.5 839.3L484.0 839.3L484.5 839.2L485.0 839.2L485.5 839.2L486.0 839.2L486.5 839.3L487.0 839.3L487.5 839.3L488.0 839.4L488.5 839.4L489.0 839.4L489.5 839.5L490.0 839.5L490.5 839.6L491.0 839.7L491.5 839.7L492.0 839.8L492.5 839.8L493.0 839.9L493.5 840.0L494.0 840.1L494.5 840.2L495.0 840.3L495.5 840.4L496.0 840.5L496.5 840.6L497.0 840.7L497.5 840.7L498.0 840.8L498.5 840.8L499.0 840.8L499.5 840.8L500.0 840.8L500.5 840.8L501.0 840.7L501.5 840.7L502.0 840.6L502.5 840.6L503.0 840.5L503.5 840.4L504.0 840.4L504.5 840.3L505.0 840.3L505.5 840.2L506.0 840.1L506.5 840.0L507.0 839.9L507.5 839.8L508.0 839.7L508.5 839.6L509.0 839.5L509.5 839.4L510.0 839.3L510.5 839.2L511.0 839.0L511.5 838.9L512.0 838.8L512.5 838.7L513.0 838.6L513.5 838.5L514.0 838.5L514.5 838.4L515.0 838.4L515.5 838.3L516.0 838.3L516.5 838.3L517.0 838.3L517.5 838.3L518.0 838.3L518.5 838.4L519.0 838.4L519.5 838.4L520.0 838.5L520.5 838.5L521.0 838.6L521.5 838.7L522.0 838.7L522.5 838.8L523.0 838.8L523.5 838.9L524.0 839.0L524.5 839.0L525.0 839.1L525.5 839.1L526.0 839.2L526.5 839.3L527.0 839.4L527.5 839.4L528.0 839.5L528.5 839.6L529.0 839.7L529.5 839.7L530.0 839.8L530.5 839.9L531.0 840.0L531.5 840.1L532.0 840.1L532.5 840.2L533.0 840.3L533.5 840.4L534.0 840.4L534.5 840.5L535.0 840.6L535.5 840.7L536.0 840.7L536.5 840.8L537.0 840.9L537.5 841.0L538.0 841.0L538.5 841.1L539.0 841.2L539.5 841.2L540.0 841.3L540.5 841.4L541.0 841.5L541.5 841.5L542.0 841.6L542.5 841.7L543.0 841.7L543.5 841.8L544.0 841.9L544.5 841.9L545.0 842.0L545.5 842.0L546.0 842.1L546.5 842.2L547.0 842.2L547.5 842.3L548.0 842.3L548.5 842.4L549.0 842.4L549.5 842.5L550.0 842.5L550.5 842.6L551.0 842.6L551.5 842.7L552.0 842.7L552.5 842.8L553.0 842.8L553.5 842.8L554.0 842.9L554.5 842.9L555.0 843.0L555.5 843.0L556.0 843.1L556.5 843.1L557.0 843.2L557.5 843.2L558.0 843.2L558.5 843.3L559.0 843.3L559.5 843.4L560.0 843.4L560.5 843.5L561.0 843.5L561.5 843.6L562.0 843.7L562.5 843.7L563.0 843.8L563.5 843.8L564.0 843.9L564.5 843.9L565.0 843.9L565.5 844.0L566.0 844.0L566.5 844.0L567.0 844.1L567.5 844.1L568.0 844.1L568.5 844.1L569.0 844.1L569.5 844.1L570.0 844.1L570.5 844.1L571.0 844.1L571.5 844.0L572.0 844.0L572.5 844.0L573.0 843.9L573.5 843.9L574.0 843.8L574.5 843.8L575.0 843.7L575.5 843.7L576.0 843.6L576.5 843.6L577.0 843.5L577.5 843.5L578.0 843.4L578.5 843.4L579.0 843.3L579.5 843.3L580.0 843.3L580.5 843.2L581.0 843.2L581.5 843.2L582.0 843.2L582.5 843.2L583.0 843.2L583.5 843.2L584.0 843.2L584.5 843.2L585.0 843.3L585.5 843.3L586.0 843.3L586.5 843.4L587.0 843.4L587.5 843.5L588.0 843.5L588.5 843.6L589.0 843.6L589.5 843.7L590.0 843.7L590.5 843.8L591.0 843.8L591.5 843.9L592.0 843.9L592.5 843.9L593.0 844.0L593.5 844.0L594.0 844.1L594.5 844.1L595.0 844.1L595.5 844.1L596.0 844.1L596.5 844.1L597.0 844.1L597.5 844.1L598.0 844.1L598.5 844.0L599.0 844.0L599.5 843.9L600.0 843.9L600.5 843.8L601.0 843.8L601.5 843.7L602.0 843.6L602.5 843.6L603.0 843.5L603.5 843.4L604.0 843.3L604.5 843.3L605.0 843.2L605.5 843.1L606.0 843.1L606.5 843.0L607.0 843.0L607.5 842.9L608.0 842.9L608.5 842.9L609.0 842.8L609.5 842.8L610.0 842.8L610.5 842.8L611.0 842.8L611.5 842.9L612.0 842.9L612.5 842.9L613.0 843.0L613.5 843.0L614.0 843.1L614.5 843.2L615.0 843.2L615.5 843.3L616.0 843.4L616.5 843.4L617.0 843.5L617.5 843.6L618.0 843.6L618.5 843.7L619.0 843.7L619.5 843.8L620.0 843.9L620.5 843.9L621.0 844.0L621.5 844.0L622.0 844.0L622.5 844.0L623.0 844.1L623.5 844.1L624.0 844.1L624.5 844.1L625.0 844.1L625.5 844.1L626.0 844.1L626.5 844.1L627.0 844.0L627.5 844.0L628.0 844.0L628.5 844.0L629.0 844.0L629.5 844.0L630.0 844.0L630.5 844.0L631.0 844.0L631.5 844.0L632.0 844.0L632.5 844.0L633.0 844.0L633.5 844.0L634.0 844.0L634.5 844.0L635.0 844.0L635.5 844.0L636.0 844.0L636.5 844.0L637.0 844.0L637.5 844.1L638.0 844.1L638.5 844.1L639.0 844.2L639.5 844.2L640.0 844.2L640.5 844.3L641.0 844.3L641.5 844.4L642.0 844.4L642.5 844.5L643.0 844.5L643.5 844.6L644.0 844.6L644.5 844.7L645.0 844.7L645.5 844.8L646.0 844.8L646.5 844.9L647.0 844.9L647.5 844.9L648.0 844.9L648.5 845.0L649.0 845.0L649.5 845.0L650.0 845.0L650.5 845.1L651.0 845.1L651.5 845.1L652.0 845.1L652.5 845.2L653.0 845.2L653.5 845.2L654.0 845.2L654.5 845.3L655.0 845.3L655.5 845.3L656.0 845.3L656.5 845.4L657.0 845.4L657.5 845.5L658.0 845.5L658.5 845.6L659.0 845.7L659.5 845.7L660.0 845.8L660.5 845.9L661.0 846.0L661.5 846.1L662.0 846.2L662.5 846.3L663.0 846.4L663.5 846.5L664.0 846.6L664.5 846.7L665.0 846.8L665.5 846.8L666.0 846.9L666.5 847.0L667.0 847.1L667.5 847.1L668.0 847.2L668.5 847.2L669.0 847.2L669.5 847.3L670.0 847.3L670.5 847.3L671.0 847.3L671.5 847.3L672.0 847.3L672.5 847.3L673.0 847.2L673.5 847.2L674.0 847.2L674.5 847.2L675.0 847.2L675.5 847.2L676.0 847.1L676.5 847.1L677.0 847.1L677.5 847.1L678.0 847.0L678.5 847.0L679.0 847.0L679.5 847.0L680.0 846.9L680.5 846.9L681.0 846.9L681.5 846.9L682.0 846.9L682.5 846.8L683.0 846.8L683.5 846.8L684.0 846.8L684.5 846.8L685.0 846.8L685.5 846.7L686.0 846.7L686.5 846.7L687.0 846.7L687.5 846.7L688.0 846.7L688.5 846.7L689.0 846.7L689.5 846.7L690.0 846.7L690.5 846.7L691.0 846.7L691.5 846.8L692.0 846.8L692.5 846.8L693.0 846.8L693.5 846.8L694.0 846.8L694.5 846.8L695.0 846.8L695.5 846.8L696.0 846.9L696.5 846.9L697.0 846.9L697.5 846.9L698.0 846.9L698.5 846.9L699.0 846.9L699.5 846.9L700.0 847.0L700.5 847.0L701.0 847.0L701.5 847.0L702.0 847.0L702.5 847.0L703.0 847.0L703.5 847.0L704.0 847.0L704.5 847.0L705.0 847.0L705.5 847.0L706.0 847.0L706.5 847.0L707.0 847.0L707.5 847.0L708.0 847.0L708.5 847.0L709.0 847.0L709.5 847.0L710.0 847.0L710.5 847.0L711.0 847.0L711.5 847.0L712.0 847.0L712.5 847.0L713.0 847.0L713.5 847.0L714.0 847.0L714.5 847.0L715.0 847.0L715.5 847.0L716.0 847.0L716.5 847.0L717.0 847.0L717.5 847.0L718.0 847.0L718.5 847.0L719.0 846.9L719.5 846.9L720.0 846.9L720.5 846.8L721.0 846.8L721.5 846.7L722.0 846.7L722.5 846.6L723.0 846.5L723.5 846.5L724.0 846.4L724.5 846.3L725.0 846.3L725.5 846.2L726.0 846.1L726.5 846.1L727.0 846.0L727.5 845.9L728.0 845.8L728.5 845.8L729.0 845.7L729.5 845.6L730.0 845.6L730.5 845.5L731.0 845.4L731.5 845.4L732.0 845.3L732.5 845.3L733.0 845.2L733.5 845.2L734.0 845.1L734.5 845.1L735.0 845.1L735.5 845.0L736.0 845.0L736.5 844.9L737.0 844.9L737.5 844.8L738.0 844.8L738.5 844.8L739.0 844.7L739.5 844.7L740.0 844.6L740.5 844.6L741.0 844.6L741.5 844.5L742.0 844.5L742.5 844.5L743.0 844.5L743.5 844.4L744.0 844.4L744.5 844.4L745.0 844.4L745.5 844.4L746.0 844.3L746.5 844.3L747.0 844.3L747.5 844.3L748.0 844.3L748.5 844.3L749.0 844.2L749.5 844.2L750.0 844.2L750.5 844.2L751.0 844.2L751.5 844.1L752.0 844.1L752.5 844.1L753.0 844.1L753.5 844.0L754.0 844.0L754.5 844.0L755.0 843.9L755.5 843.9L756.0 843.9L756.5 843.8L757.0 843.8L757.5 843.7L758.0 843.7L758.5 843.6L759.0 843.6L759.5 843.5L760.0 843.5L760.5 843.4L761.0 843.3L761.5 843.3L762.0 843.2L762.5 843.1L763.0 843.0L763.5 843.0L764.0 842.9L764.5 842.8L765.0 842.7L765.5 842.7L766.0 842.6L766.5 842.5L767.0 842.5L767.5 842.4L768.0 842.3L768.5 842.3L769.0 842.2L769.5 842.1L770.0 842.0L770.5 842.0L771.0 841.9L771.5 841.8L772.0 841.7L772.5 841.7L773.0 841.6L773.5 841.5L774.0 841.5L774.5 841.4L775.0 841.4L775.5 841.3L776.0 841.3L776.5 841.2L777.0 841.2L777.5 841.2L778.0 841.2L778.5 841.2L779.0 841.2L779.5 841.2L780.0 841.2L780.5 841.3L781.0 841.3L781.5 841.4L782.0 841.4L782.5 841.5L783.0 841.5L783.5 841.6L784.0 841.6L784.5 841.7L785.0 841.8L785.5 841.8L786.0 841.9L786.5 842.0L787.0 842.0L787.5 842.1L788.0 842.1L788.5 842.2L789.0 842.2L789.5 842.3L790.0 842.3L790.5 842.4L791.0 842.5L791.5 842.5L792.0 842.6L792.5 842.6L793.0 842.7L793.5 842.7L794.0 842.8L794.5 842.8L795.0 842.9L795.5 842.9L796.0 842.9L796.5 842.9L797.0 842.9L797.5 842.9L798.0 842.9L798.5 842.9L799.0 842.9L799.5 842.9L800.0 842.9L800.5 842.9L801.0 842.8L801.5 842.8L802.0 842.8L802.5 842.8L803.0 842.8L803.5 842.8L804.0 842.8L804.5 842.8L805.0 842.8L805.5 842.8L806.0 842.8L806.5 842.8L807.0 842.9L807.5 842.9L808.0 842.9L808.5 843.0L809.0 843.0L809.5 843.1L810.0 843.1L810.5 843.2L811.0 843.2L811.5 843.3L812.0 843.3L812.5 843.4L813.0 843.4L813.5 843.5L814.0 843.5L814.5 843.5L815.0 843.6L815.5 843.6L816.0 843.6L816.5 843.6L817.0 843.6L817.5 843.6L818.0 843.6L818.5 843.6L819.0 843.6L819.5 843.6L820.0 843.6L820.5 843.7L821.0 843.7L821.5 843.7L822.0 843.7L822.5 843.7L823.0 843.7L823.5 843.7L824.0 843.7L824.5 843.7L825.0 843.7L825.5 843.7L826.0 843.7L826.5 843.7L827.0 843.7L827.5 843.7L828.0 843.7L828.5 843.7L829.0 843.7L829.5 843.8L830.0 843.8L830.5 843.8L831.0 843.9L831.5 843.9L832.0 843.9L832.5 844.0L833.0 844.0L833.5 844.0L834.0 844.1L834.5 844.1L835.0 844.1L835.5 844.2L836.0 844.2L836.5 844.2L837.0 844.2L837.5 844.2L838.0 844.2L838.5 844.2L839.0 844.2L839.5 844.2L840.0 844.2L840.5 844.2L841.0 844.1L841.5 844.1L842.0 844.1L842.5 844.1L843.0 844.0L843.5 844.0L844.0 844.0L844.5 844.0L845.0 843.9L845.5 843.9L846.0 843.9L846.5 843.9L847.0 843.9L847.5 843.8L848.0 843.8L848.5 843.8L849.0 843.8L849.5 843.8L850.0 843.8L850.5 843.9L851.0 843.9L851.5 843.9L852.0 844.0L852.5 844.0L853.0 844.1L853.5 844.2L854.0 844.2L854.5 844.3L855.0 844.4L855.5 844.4L856.0 844.5L856.5 844.6L857.0 844.7L857.5 844.7L858.0 844.8L858.5 844.8L859.0 844.9L859.5 844.9L860.0 845.0L860.5 845.0L861.0 845.1L861.5 845.1L862.0 845.2L862.5 845.2L863.0 845.3L863.5 845.3L864.0 845.3L864.5 845.4L865.0 845.4L865.5 845.4L866.0 845.4L866.5 845.4L867.0 845.4L867.5 845.4L868.0 845.4L868.5 845.3L869.0 845.3L869.5 845.3L870.0 845.3L870.5 845.2L871.0 845.2L871.5 845.2L872.0 845.2L872.5 845.1L873.0 845.1L873.5 845.1L874.0 845.0L874.5 845.0L875.0 845.0L875.5 844.9L876.0 844.9L876.5 844.9L877.0 844.9L877.5 844.8L878.0 844.8L878.5 844.8L879.0 844.8L879.5 844.7L880.0 844.7L880.5 844.7L881.0 844.7L881.5 844.6L882.0 844.6L882.5 844.6L883.0 844.5L883.5 844.5L884.0 844.5L884.5 844.5L885.0 844.4L885.5 844.4L886.0 844.4L886.5 844.4L887.0 844.3L887.5 844.3L888.0 844.3L888.5 844.2L889.0 844.2L889.5 844.2L890.0 844.1L890.5 844.1L891.0 844.1L891.5 844.0L892.0 844.0L892.5 843.9L893.0 843.9L893.5 843.9L894.0 843.8L894.5 843.8L895.0 843.7L895.5 843.7L896.0 843.6L896.5 843.6L897.0 843.5L897.5 843.5L898.0 843.4L898.5 843.4L899.0 843.3L899.5 843.2L900.0 843.1L900.5 843.1L901.0 843.0L901.5 842.9L902.0 842.8L902.5 842.7L903.0 842.6L903.5 842.5L904.0 842.4L904.5 842.3L905.0 842.2L905.5 842.2L906.0 842.1L906.5 842.1L907.0 842.1L907.5 842.0L908.0 842.0L908.5 842.1L909.0 842.1L909.5 842.1L910.0 842.2L910.5 842.2L911.0 842.3L911.5 842.3L912.0 842.4L912.5 842.5L913.0 842.6L913.5 842.6L914.0 842.7L914.5 842.8L915.0 842.9L915.5 842.9L916.0 843.0L916.5 843.1L917.0 843.2L917.5 843.3L918.0 843.5L918.5 843.6L919.0 843.7L919.5 843.8L920.0 844.0L920.5 844.1L921.0 844.1L921.5 844.2L922.0 844.2L922.5 844.2L923.0 844.2L923.5 844.2L924.0 844.1L924.5 844.1L925.0 844.0L925.5 844.0L926.0 843.9L926.5 843.8L927.0 843.7L927.5 843.6L928.0 843.5L928.5 843.4L929.0 843.4L929.5 843.3L930.0 843.2L930.5 843.0L931.0 842.9L931.5 842.8L932.0 842.6L932.5 842.5L933.0 842.3L933.5 842.2L934.0 842.0L934.5 841.9L935.0 841.7L935.5 841.6L936.0 841.5L936.5 841.4L937.0 841.3L937.5 841.2L938.0 841.2L938.5 841.1L939.0 841.0L939.5 840.9L940.0 840.9L940.5 840.8L941.0 840.7L941.5 840.7L942.0 840.6L942.5 840.5L943.0 840.5L943.5 840.4L944.0 840.4L944.5 840.4L945.0 840.3L945.5 840.3L946.0 840.3L946.5 840.3L947.0 840.3L947.5 840.3L948.0 840.3L948.5 840.3L949.0 840.4L949.5 840.4L950.0 840.4L950.5 840.5L951.0 840.5L951.5 840.6L952.0 840.6L952.5 840.7L953.0 840.7L953.5 840.7L954.0 840.8L954.5 840.8L955.0 840.9L955.5 840.9L956.0 841.0L956.5 841.1L957.0 841.1L957.5 841.2L958.0 841.3L958.5 841.3L959.0 841.4L959.5 841.5L960.0 841.6L960.5 841.6L961.0 841.7L961.5 841.7L962.0 841.8L962.5 841.8L963.0 841.9L963.5 841.9L964.0 841.9L964.5 841.9L965.0 841.9L965.5 841.9L966.0 841.9L966.5 841.9L967.0 841.8L967.5 841.8L968.0 841.8L968.5 841.8L969.0 841.8L969.5 841.8L970.0 841.8L970.5 841.7L971.0 841.7L971.5 841.7L972.0 841.7L972.5 841.6L973.0 841.6L973.5 841.6L974.0 841.6L974.5 841.6L975.0 841.5L975.5 841.5L976.0 841.5L976.5 841.5L977.0 841.4L977.5 841.4L978.0 841.4L978.5 841.3L979.0 841.3L979.5 841.3L980.0 841.2L980.5 841.2L981.0 841.1L981.5 841.1L982.0 841.1L982.5 841.0L983.0 841.0L983.5 840.9L984.0 840.9L984.5 840.9L985.0 840.8L985.5 840.8L986.0 840.8L986.5 840.7L987.0 840.7L987.5 840.7L988.0 840.7L988.5 840.7L989.0 840.7L989.5 840.7L990.0 840.7L990.5 840.7L991.0 840.7L991.5 840.7L992.0 840.7L992.5 840.7L993.0 840.8L993.5 840.8L994.0 840.8L994.5 840.8L995.0 840.9L995.5 840.9L996.0 840.9L996.5 840.9L997.0 841.0L997.5 841.0L998.0 841.0L998.5 841.0L999.0 841.1L999.5 841.1L1000.0 841.1L1000.5 841.1L1001.0 841.1L1001.5 841.1L1002.0 841.1L1002.5 841.1L1003.0 841.1L1003.5 841.0L1004.0 841.0L1004.5 841.0L1005.0 841.0L1005.5 840.9L1006.0 840.9L1006.5 840.9L1007.0 840.9L1007.5 840.8L1008.0 840.8L1008.5 840.8L1009.0 840.8L1009.5 840.8L1010.0 840.8L1010.5 840.9L1011.0 840.9L1011.5 840.9L1012.0 840.9L1012.5 840.9L1013.0 841.0L1013.5 841.0L1014.0 841.0L1014.5 841.1L1015.0 841.1L1015.5 841.1L1016.0 841.2L1016.5 841.2L1017.0 841.3L1017.5 841.3L1018.0 841.3L1018.5 841.4L1019.0 841.4L1019.5 841.4L1020.0 841.4L1020.5 841.5L1021.0 841.5L1021.5 841.5L1022.0 841.5L1022.5 841.5L1023.0 841.5L1023.5 841.5L1024.0 841.5L1024.5 841.5L1025.0 841.4L1025.5 841.4L1026.0 841.4L1026.5 841.3L1027.0 841.3L1027.5 841.2L1028.0 841.2L1028.5 841.1L1029.0 841.1L1029.5 841.1L1030.0 841.0L1030.5 841.0L1031.0 840.9L1031.5 840.9L1032.0 840.8L1032.5 840.8L1033.0 840.8L1033.5 840.7L1034.0 840.7L1034.5 840.7L1035.0 840.6L1035.5 840.6L1036.0 840.5L1036.5 840.5L1037.0 840.4L1037.5 840.4L1038.0 840.4L1038.5 840.3L1039.0 840.3L1039.5 840.3L1040.0 840.3L1040.5 840.2L1041.0 840.2L1041.5 840.2L1042.0 840.2L1042.5 840.2L1043.0 840.2L1043.5 840.2L1044.0 840.2L1044.5 840.3L1045.0 840.3L1045.5 840.3L1046.0 840.3L1046.5 840.4L1047.0 840.4L1047.5 840.4L1048.0 840.5L1048.5 840.6L1049.0 840.6L1049.5 840.7L1050.0 840.8L1050.5 840.8L1051.0 840.9L1051.5 840.9L1052.0 841.0L1052.5 841.0L1053.0 841.1L1053.5 841.1L1054.0 841.2L1054.5 841.2L1055.0 841.2L1055.5 841.3L1056.0 841.3L1056.5 841.4L1057.0 841.4L1057.5 841.4L1058.0 841.4L1058.5 841.4L1059.0 841.4L1059.5 841.4L1060.0 841.4L1060.5 841.4L1061.0 841.3L1061.5 841.3L1062.0 841.2L1062.5 841.2L1063.0 841.1L1063.5 841.1L1064.0 841.0L1064.5 840.9L1065.0 840.9L1065.5 840.8L1066.0 840.8L1066.5 840.7L1067.0 840.7L1067.5 840.6L1068.0 840.5L1068.5 840.4L1069.0 840.4L1069.5 840.3L1070.0 840.2L1070.5 840.1L1071.0 840.1L1071.5 840.0L1072.0 839.9L1072.5 839.8L1073.0 839.7L1073.5 839.6L1074.0 839.5L1074.5 839.4L1075.0 839.3L1075.5 839.1L1076.0 839.0L1076.5 838.8L1077.0 838.6L1077.5 838.4L1078.0 838.2L1078.5 837.9L1079.0 837.7L1079.5 837.5L1080.0 837.3L1080.5 837.1L1081.0 836.9L1081.5 836.6L1082.0 836.3L1082.5 836.0L1083.0 835.6L1083.5 835.2L1084.0 834.7L1084.5 834.2L1085.0 833.6L1085.5 833.0L1086.0 832.2L1086.5 831.4L1087.0 830.5L1087.5 829.5L1088.0 828.4L1088.5 827.1L1089.0 825.8L1089.5 824.3L1090.0 822.7L1090.5 821.0L1091.0 819.1L1091.5 817.0L1092.0 814.8L1092.5 812.5L1093.0 809.9L1093.5 807.2L1094.0 804.3L1094.5 801.2L1095.0 798.0L1095.5 794.5L1096.0 790.9L1096.5 787.1L1097.0 783.1L1097.5 778.9L1098.0 774.6L1098.5 770.0L1099.0 765.4L1099.5 760.5L1100.0 755.6L1100.5 750.5L1101.0 745.3L1101.5 740.0L1102.0 734.6L1102.5 729.2L1103.0 723.7L1103.5 718.2L1104.0 712.6L1104.5 707.1L1105.0 701.6L1105.5 696.2L1106.0 690.8L1106.5 685.6L1107.0 680.4L1107.5 675.4L1108.0 670.5L1108.5 665.9L1109.0 661.4L1109.5 657.1L1110.0 653.0L1110.5 649.2L1111.0 645.7L1111.5 642.4L1112.0 639.4L1112.5 636.6L1113.0 634.2L1113.5 632.0L1114.0 630.1L1114.5 628.5L1115.0 627.2L1115.5 626.2L1116.0 625.4L1116.5 624.9L1117.0 624.6L1117.5 624.5L1118.0 624.5L1118.5 624.8L1119.0 625.2L1119.5 625.8L1120.0 626.8L1120.5 628.0L1121.0 629.5L1121.5 631.2L1122.0 633.3L1122.5 635.6L1123.0 638.2L1123.5 641.2L1124.0 644.3L1124.5 647.8L1125.0 651.5L1125.5 655.5L1126.0 659.7L1126.5 664.1L1127.0 668.7L1127.5 673.5L1128.0 678.4L1128.5 683.5L1129.0 688.8L1129.5 694.1L1130.0 699.5L1130.5 705.0L1131.0 710.5L1131.5 716.1L1132.0 721.6L1132.5 727.1L1133.0 732.6L1133.5 738.1L1134.0 743.4L1134.5 748.7L1135.0 753.8L1135.5 758.8L1136.0 763.7L1136.5 768.5L1137.0 773.1L1137.5 777.5L1138.0 781.8L1138.5 785.9L1139.0 789.8L1139.5 793.5L1140.0 797.1L1140.5 800.4L1141.0 803.6L1141.5 806.6L1142.0 809.4L1142.5 812.1L1143.0 814.5L1143.5 816.8L1144.0 818.9L1144.5 820.9L1145.0 822.7L1145.5 824.4L1146.0 826.0L1146.5 827.4L1147.0 828.7L1147.5 829.8L1148.0 830.9L1148.5 831.9L1149.0 832.8L1149.5 833.6L1150.0 834.3L1150.5 834.9L1151.0 835.5L1151.5 836.0L1152.0 836.5L1152.5 836.9L1153.0 837.2L1153.5 837.6L1154.0 837.8L1154.5 838.1L1155.0 838.5L1155.5 838.8L1156.0 839.2L1156.5 839.7L1157.0 840.1L1157.5 840.4L1158.0 840.7L1158.5 840.9L1159.0 841.0L1159.5 841.0L1160.0 841.0L1160.5 841.0L1161.0 840.9L1161.5 840.8L1162.0 840.7L1162.5 840.6L1163.0 840.4L1163.5 840.3L1164.0 840.1L1164.5 839.9L1165.0 839.7L1165.5 839.5L1166.0 839.3L1166.5 839.1L1167.0 838.9L1167.5 838.7L1168.0 838.6L1168.5 838.4L1169.0 838.2L1169.5 838.1L1170.0 837.9L1170.5 837.8L1171.0 837.6L1171.5 837.5L1172.0 837.5L1172.5 837.4L1173.0 837.4L1173.5 837.4L1174.0 837.5L1174.5 837.6L1175.0 837.6L1175.5 837.8L1176.0 837.9L1176.5 838.0L1177.0 838.1L1177.5 838.3L1178.0 838.4L1178.5 838.5L1179.0 838.6L1179.5 838.7L1180.0 838.8L1180.5 839.0L1181.0 839.1L1181.5 839.2L1182.0 839.4L1182.5 839.5L1183.0 839.6L1183.5 839.7L1184.0 839.8L1184.5 839.9L1185.0 840.0L1185.5 840.1L1186.0 840.2L1186.5 840.2L1187.0 840.3L1187.5 840.3L1188.0 840.4L1188.5 840.5L1189.0 840.5L1189.5 840.6L1190.0 840.6L1190.5 840.6L1191.0 840.7L1191.5 840.7L1192.0 840.7L1192.5 840.8L1193.0 840.8L1193.5 840.8L1194.0 840.8L1194.5 840.9L1195.0 840.9L1195.5 840.8L1196.0 840.8L1196.5 840.8L1197.0 840.7L1197.5 840.6L1198.0 840.5L1198.5 840.5L1199.0 840.4L1199.5 840.3L1200.0 840.2L1200.5 840.1L1201.0 840.0L1201.5 839.9L1202.0 839.8L1202.5 839.6L1203.0 839.5L1203.5 839.3L1204.0 839.1L1204.5 839.0L1205.0 838.8L1205.5 838.6L1206.0 838.5L1206.5 838.3L1207.0 838.2L1207.5 838.0L1208.0 837.9L1208.5 837.8L1209.0 837.7L1209.5 837.6L1210.0 837.5L1210.5 837.3L1211.0 837.2L1211.5 837.1L1212.0 837.0L1212.5 837.0L1213.0 836.9L1213.5 836.8L1214.0 836.8L1214.5 836.8L1215.0 836.8L1215.5 836.8L1216.0 836.8L1216.5 836.8L1217.0 836.9L1217.5 836.9L1218.0 836.9L1218.5 836.9L1219.0 837.0L1219.5 837.0L1220.0 837.0L1220.5 837.1L1221.0 837.1L1221.5 837.2L1222.0 837.2L1222.5 837.2L1223.0 837.3L1223.5 837.3L1224.0 837.3L1224.5 837.4L1225.0 837.4L1225.5 837.5L1226.0 837.5L1226.5 837.6L1227.0 837.6L1227.5 837.7L1228.0 837.7L1228.5 837.8L1229.0 837.8L1229.5 837.8L1230.0 837.9L1230.5 837.9L1231.0 837.9L1231.5 837.9L1232.0 837.9L1232.5 837.9L1233.0 838.0L1233.5 838.0L1234.0 838.0L1234.5 838.0L1235.0 838.0L1235.5 838.0L1236.0 838.0L1236.5 838.0L1237.0 838.0L1237.5 838.0L1238.0 837.9L1238.5 837.9L1239.0 837.9L1239.5 837.8L1240.0 837.7L1240.5 837.7L1241.0 837.6L1241.5 837.6L1242.0 837.5L1242.5 837.4L1243.0 837.4L1243.5 837.3L1244.0 837.2L1244.5 837.2L1245.0 837.1L1245.5 837.1L1246.0 837.0L1246.5 837.0L1247.0 836.9L1247.5 836.9L1248.0 836.8L1248.5 836.7L1249.0 836.7L1249.5 836.6L1250.0 836.5L1250.5 836.4L1251.0 836.2L1251.5 836.0L1252.0 835.8L1252.5 835.6L1253.0 835.4L1253.5 835.2L1254.0 835.0L1254.5 834.9L1255.0 834.8L1255.5 834.7L1256.0 834.6L1256.5 834.5L1257.0 834.5L1257.5 834.4L1258.0 834.3L1258.5 834.3L1259.0 834.2L1259.5 834.2L1260.0 834.2L1260.5 834.3L1261.0 834.3L1261.5 834.3L1262.0 834.4L1262.5 834.4L1263.0 834.4L1263.5 834.5L1264.0 834.6L1264.5 834.6L1265.0 834.7L1265.5 834.8L1266.0 834.8L1266.5 834.9L1267.0 835.0L1267.5 835.1L1268.0 835.2L1268.5 835.4L1269.0 835.5L1269.5 835.7L1270.0 835.8L1270.5 835.9L1271.0 836.0L1271.5 836.1L1272.0 836.1L1272.5 836.0L1273.0 836.0L1273.5 835.9L1274.0 835.8L1274.5 835.7L1275.0 835.6L1275.5 835.4L1276.0 835.3L1276.5 835.2L1277.0 835.0L1277.5 834.9L1278.0 834.8L1278.5 834.7L1279.0 834.6L1279.5 834.5L1280.0 834.4L1280.5 834.3L1281.0 834.2L1281.5 834.1L1282.0 834.0L1282.5 833.9L1283.0 833.8L1283.5 833.7L1284.0 833.6L1284.5 833.6L1285.0 833.6L1285.5 833.6L1286.0 833.6L1286.5 833.6L1287.0 833.6L1287.5 833.6L1288.0 833.7L1288.5 833.7L1289.0 833.8L1289.5 833.8L1290.0 833.9L1290.5 833.9L1291.0 834.0L1291.5 834.0L1292.0 834.1L1292.5 834.1L1293.0 834.2L1293.5 834.2L1294.0 834.3L1294.5 834.3L1295.0 834.4L1295.5 834.4L1296.0 834.4L1296.5 834.5L1297.0 834.5L1297.5 834.5L1298.0 834.6L1298.5 834.6L1299.0 834.6L1299.5 834.6L1300.0 834.6L1300.5 834.5L1301.0 834.5L1301.5 834.5L1302.0 834.4L1302.5 834.4L1303.0 834.4L1303.5 834.3L1304.0 834.3L1304.5 834.3L1305.0 834.3L1305.5 834.2L1306.0 834.2L1306.5 834.2L1307.0 834.3L1307.5 834.3L1308.0 834.3L1308.5 834.3L1309.0 834.4L1309.5 834.4L1310.0 834.4L1310.5 834.5L1311.0 834.5L1311.5 834.6L1312.0 834.6L1312.5 834.7L1313.0 834.7L1313.5 834.8L1314.0 834.9L1314.5 835.1L1315.0 835.2L1315.5 835.3L1316.0 835.5L1316.5 835.6L1317.0 835.8L1317.5 835.9L1318.0 836.0L1318.5 836.0L1319.0 836.1L1319.5 836.2L1320.0 836.2L1320.5 836.3L1321.0 836.3L1321.5 836.4L1322.0 836.4L1322.5 836.5L1323.0 836.5L1323.5 836.5L1324.0 836.5L1324.5 836.5L1325.0 836.5L1325.5 836.5L1326.0 836.5L1326.5 836.5L1327.0 836.5L1327.5 836.4L1328.0 836.4L1328.5 836.4L1329.0 836.4L1329.5 836.4L1330.0 836.3L1330.5 836.3L1331.0 836.3L1331.5 836.2L1332.0 836.2L1332.5 836.1L1333.0 836.0L1333.5 836.0L1334.0 835.9L1334.5 835.8L1335.0 835.8L1335.5 835.7L1336.0 835.7L1336.5 835.6L1337.0 835.6L1337.5 835.6L1338.0 835.6L1338.5 835.6L1339.0 835.6L1339.5 835.5L1340.0 835.5L1340.5 835.5L1341.0 835.5L1341.5 835.5L1342.0 835.5L1342.5 835.5L1343.0 835.5L1343.5 835.5L1344.0 835.5L1344.5 835.5L1345.0 835.5L1345.5 835.5L1346.0 835.5L1346.5 835.5L1347.0 835.5L1347.5 835.5L1348.0 835.5L1348.5 835.5L1349.0 835.5L1349.5 835.5L1350.0 835.5L1350.5 835.5L1351.0 835.5L1351.5 835.5L1352.0 835.5L1352.5 835.5L1353.0 835.5L1353.5 835.6L1354.0 835.6L1354.5 835.6L1355.0 835.6L1355.5 835.6L1356.0 835.6L1356.5 835.6L1357.0 835.6L1357.5 835.6L1358.0 835.6L1358.5 835.7L1359.0 835.7L1359.5 835.7L1360.0 835.7L1360.5 835.7L1361.0 835.7L1361.5 835.7L1362.0 835.7L1362.5 835.8L1363.0 835.8L1363.5 835.8L1364.0 835.8L1364.5 835.8L1365.0 835.8L1365.5 835.8L1366.0 835.9L1366.5 835.9L1367.0 835.9L1367.5 835.9L1368.0 835.9L1368.5 836.0L1369.0 836.0L1369.5 836.0L1370.0 836.0L1370.5 836.0L1371.0 836.0L1371.5 836.0L1372.0 836.0L1372.5 836.1L1373.0 836.1L1373.5 836.1L1374.0 836.1L1374.5 836.1L1375.0 836.1L1375.5 836.1L1376.0 836.1L1376.5 836.1L1377.0 836.1L1377.5 836.1L1378.0 836.1L1378.5 836.1L1379.0 836.1L1379.5 836.1L1380.0 836.1L1380.5 836.1L1381.0 836.1L1381.5 836.1L1382.0 836.1L1382.5 836.1L1383.0 836.1L1383.5 836.1L1384.0 836.1L1384.5 836.1L1385.0 836.1L1385.5 836.1L1386.0 836.1L1386.5 836.1L1387.0 836.1L1387.5 836.1L1388.0 836.1L1388.5 836.1L1389.0 836.1L1389.5 836.2L1390.0 836.2L1390.5 836.2L1391.0 836.2L1391.5 836.2L1392.0 836.2L1392.5 836.2L1393.0 836.2L1393.5 836.2L1394.0 836.3L1394.5 836.3L1395.0 836.3L1395.5 836.3L1396.0 836.4L1396.5 836.4L1397.0 836.4L1397.5 836.4L1398.0 836.5L1398.5 836.5L1399.0 836.5L1399.5 836.5L1400.0 836.6L1400.5 836.6L1401.0 836.6L1401.5 836.6L1402.0 836.6L1402.5 836.7L1403.0 836.7L1403.5 836.7L1404.0 836.7L1404.5 836.7L1405.0 836.7L1405.5 836.7L1406.0 836.8L1406.5 836.8L1407.0 836.8L1407.5 836.8L1408.0 836.8L1408.5 836.8L1409.0 836.8L1409.5 836.8L1410.0 836.8L1410.5 836.8L1411.0 836.8L1411.5 836.9L1412.0 836.9L1412.5 836.9L1413.0 836.9L1413.5 836.9L1414.0 836.9L1414.5 836.9L1415.0 836.9L1415.5 836.9L1416.0 836.9L1416.5 836.9L1417.0 837.0L1417.5 837.0L1418.0 837.0L1418.5 837.0L1419.0 837.0L1419.5 837.0L1420.0 837.0L1420.5 837.0L1421.0 837.1L1421.5 837.1L1422.0 837.1L1422.5 837.1L1423.0 837.2L1423.5 837.2L1424.0 837.2L1424.5 837.2L1425.0 837.3L1425.5 837.3L1426.0 837.4L1426.5 837.4L1427.0 837.4L1427.5 837.5L1428.0 837.5L1428.5 837.6L1429.0 837.6L1429.5 837.7L1430.0 837.7L1430.5 837.8L1431.0 837.8L1431.5 837.9L1432.0 837.9L1432.5 838.0L1433.0 838.0L1433.5 838.1L1434.0 838.2L1434.5 838.2L1435.0 838.3L1435.5 838.4L1436.0 838.5L1436.5 838.5L1437.0 838.6L1437.5 838.7L1438.0 838.7L1438.5 838.8L1439.0 838.9L1439.5 838.9L1440.0 839.0L1440.5 839.0L1441.0 839.1L1441.5 839.1L1442.0 839.2L1442.5 839.2L1443.0 839.2L1443.5 839.3L1444.0 839.3L1444.5 839.3L1445.0 839.4L1445.5 839.4L1446.0 839.4L1446.5 839.4L1447.0 839.3L1447.5 839.3L1448.0 839.3L1448.5 839.3L1449.0 839.2L1449.5 839.2L1450.0 839.1L1450.5 839.1L1451.0 839.1L1451.5 839.0L1452.0 839.0L1452.5 838.9L1453.0 838.8L1453.5 838.8L1454.0 838.8L1454.5 838.7L1455.0 838.7L1455.5 838.6L1456.0 838.6L1456.5 838.6L1457.0 838.6L1457.5 838.5L1458.0 838.5L1458.5 838.5L1459.0 838.6L1459.5 838.6L1460.0 838.6L1460.5 838.7L1461.0 838.7L1461.5 838.7L1462.0 838.8L1462.5 838.8L1463.0 838.9L1463.5 838.9L1464.0 839.0L1464.5 839.0L1465.0 839.1L1465.5 839.2L1466.0 839.2L1466.5 839.3L1467.0 839.4L1467.5 839.4L1468.0 839.5L1468.5 839.6L1469.0 839.6L1469.5 839.7L1470.0 839.8L1470.5 839.9L1471.0 840.0L1471.5 840.1L1472.0 840.1L1472.5 840.2L1473.0 840.3L1473.5 840.4L1474.0 840.5L1474.5 840.6L1475.0 840.6L1475.5 840.7L1476.0 840.8L1476.5 840.9L1477.0 841.0L1477.5 841.1L1478.0 841.2L1478.5 841.3L1479.0 841.4L1479.5 841.5L1480.0 841.6L1480.5 841.7L1481.0 841.8L1481.5 841.9L1482.0 842.0L1482.5 842.2L1483.0 842.3L1483.5 842.4L1484.0 842.5L1484.5 842.7L1485.0 842.8L1485.5 842.9L1486.0 843.1L1486.5 843.2L1487.0 843.4L1487.5 843.5L1488.0 843.7L1488.5 843.8L1489.0 844.0L1489.5 844.1L1490.0 844.2L1490.5 844.3L1491.0 844.4L1491.5 844.5L1492.0 844.6L1492.5 844.6L1493.0 844.7L1493.5 844.7L1494.0 844.8L1494.5 844.8L1495.0 844.9L1495.5 844.9L1496.0 844.9L1496.5 845.0L1497.0 845.0L1497.5 845.0L1498.0 845.1L1498.5 845.1L1499.0 845.1L1499.5 845.2L1500.0 845.2L1500.5 845.3L1501.0 845.3L1501.5 845.3L1502.0 845.4L1502.5 845.4L1503.0 845.5L1503.5 845.5L1504.0 845.5L1504.5 845.6L1505.0 845.6L1505.5 845.7L1506.0 845.7L1506.5 845.8L1507.0 845.9L1507.5 845.9L1508.0 846.0L1508.5 846.1L1509.0 846.2L1509.5 846.3L1510.0 846.3L1510.5 846.4L1511.0 846.5L1511.5 846.6L1512.0 846.6L1512.5 846.7L1513.0 846.7L1513.5 846.7L1514.0 846.7L1514.5 846.7L1515.0 846.7L1515.5 846.7L1516.0 846.7L1516.5 846.6L1517.0 846.6L1517.5 846.5L1518.0 846.5L1518.5 846.4L1519.0 846.4L1519.5 846.3L1520.0 846.3L1520.5 846.2L1521.0 846.2L1521.5 846.2L1522.0 846.1L1522.5 846.1L1523.0 846.1L1523.5 846.1L1524.0 846.1L1524.5 846.1L1525.0 846.2L1525.5 846.2L1526.0 846.3L1526.5 846.3L1527.0 846.4L1527.5 846.5L1528.0 846.6L1528.5 846.6L1529.0 846.7L1529.5 846.8L1530.0 846.9L1530.5 847.0L1531.0 847.1L1531.5 847.1L1532.0 847.2L1532.5 847.3L1533.0 847.3L1533.5 847.3L1534.0 847.4L1534.5 847.4L1535.0 847.4L1535.5 847.3L1536.0 847.3L1536.5 847.3L1537.0 847.2L1537.5 847.1L1538.0 847.1L1538.5 847.0L1539.0 846.9L1539.5 846.9L1540.0 846.8L1540.5 846.7L1541.0 846.6L1541.5 846.5L1542.0 846.4L1542.5 846.3L1543.0 846.2L1543.5 846.1L1544.0 845.9L1544.5 845.8L1545.0 845.7L1545.5 845.6L1546.0 845.5L1546.5 845.5L1547.0 845.4L1547.5 845.4L1548.0 845.3L1548.5 845.3L1549.0 845.4L1549.5 845.4L1550.0 845.4L1550.5 845.5L1551.0 845.5L1551.5 845.6L1552.0 845.7L1552.5 845.7L1553.0 845.8L1553.5 845.9L1554.0 846.0L1554.5 846.1L1555.0 846.3L1555.5 846.4L1556.0 846.6L1556.5 846.8L1557.0 847.0L1557.5 847.3L1558.0 847.5L1558.5 847.7L1559.0 848.0L1559.5 848.2L1560.0 848.4L1560.5 848.6L1561.0 848.8L1561.5 849.0L1562.0 849.1L1562.5 849.3L1563.0 849.4L1563.5 849.6L1564.0 849.7L1564.5 849.9L1565.0 850.0L1565.5 850.1L1566.0 850.3L1566.5 850.4L1567.0 850.5L1567.5 850.6L1568.0 850.8L1568.5 850.9L1569.0 851.0L1569.5 851.1L1570.0 851.2L1570.5 851.4L1571.0 851.5L1571.5 851.6L1572.0 851.8L1572.5 851.9L1573.0 852.0L1573.5 852.2L1574.0 852.3L1574.5 852.4L1575.0 852.5L1575.5 852.7L1576.0 852.8L1576.5 852.9L1577.0 852.9L1577.5 853.0L1578.0 853.1L1578.5 853.1L1579.0 853.1L1579.5 853.1L1580.0 853.1L1580.5 853.1L1581.0 853.0L1581.5 852.9L1582.0 852.7L1582.5 852.6L1583.0 852.4L1583.5 852.2L1584.0 852.0L1584.5 851.8L1585.0 851.6L1585.5 851.5L1586.0 851.3L1586.5 851.1L1587.0 850.9L1587.5 850.8L1588.0 850.6L1588.5 850.4L1589.0 850.2L1589.5 850.0L1590.0 849.8L1590.5 849.6L1591.0 849.4L1591.5 849.2L1592.0 849.0L1592.5 848.7L1593.0 848.5" stroke="#3A7AC5" stroke-width="4.2"/>
<path d="M175.0 836.8L175.5 836.8L176.0 836.8L176.5 836.8L177.0 836.8L177.5 836.9L178.0 836.9L178.5 836.9L179.0 836.9L179.5 836.9L180.0 836.9L180.5 836.9L181.0 836.9L181.5 836.9L182.0 836.9L182.5 836.9L183.0 836.9L183.5 836.9L184.0 836.9L184.5 836.9L185.0 836.9L185.5 836.9L186.0 836.9L186.5 836.9L187.0 837.0L187.5 837.0L188.0 837.0L188.5 837.0L189.0 837.0L189.5 837.0L190.0 837.0L190.5 837.0L191.0 837.0L191.5 837.0L192.0 837.0L192.5 836.9L193.0 836.9L193.5 836.9L194.0 836.9L194.5 836.9L195.0 836.8L195.5 836.8L196.0 836.8L196.5 836.8L197.0 836.7L197.5 836.7L198.0 836.7L198.5 836.7L199.0 836.7L199.5 836.6L200.0 836.6L200.5 836.6L201.0 836.6L201.5 836.6L202.0 836.6L202.5 836.6L203.0 836.6L203.5 836.7L204.0 836.7L204.5 836.7L205.0 836.7L205.5 836.7L206.0 836.8L206.5 836.8L207.0 836.8L207.5 836.8L208.0 836.9L208.5 836.9L209.0 836.9L209.5 836.9L210.0 836.9L210.5 837.0L211.0 837.0L211.5 837.0L212.0 837.0L212.5 837.0L213.0 837.1L213.5 837.1L214.0 837.1L214.5 837.1L215.0 837.1L215.5 837.1L216.0 837.1L216.5 837.0L217.0 837.0L217.5 837.0L218.0 836.9L218.5 836.9L219.0 836.8L219.5 836.8L220.0 836.7L220.5 836.6L221.0 836.6L221.5 836.5L222.0 836.5L222.5 836.4L223.0 836.4L223.5 836.3L224.0 836.2L224.5 836.1L225.0 836.1L225.5 836.0L226.0 835.9L226.5 835.8L227.0 835.8L227.5 835.7L228.0 835.6L228.5 835.6L229.0 835.5L229.5 835.5L230.0 835.4L230.5 835.4L231.0 835.3L231.5 835.3L232.0 835.3L232.5 835.3L233.0 835.3L233.5 835.3L234.0 835.3L234.5 835.3L235.0 835.4L235.5 835.4L236.0 835.4L236.5 835.5L237.0 835.5L237.5 835.5L238.0 835.6L238.5 835.6L239.0 835.7L239.5 835.7L240.0 835.7L240.5 835.7L241.0 835.8L241.5 835.8L242.0 835.8L242.5 835.9L243.0 835.9L243.5 835.9L244.0 836.0L244.5 836.0L245.0 836.0L245.5 836.0L246.0 836.1L246.5 836.1L247.0 836.1L247.5 836.2L248.0 836.2L248.5 836.2L249.0 836.2L249.5 836.2L250.0 836.2L250.5 836.3L251.0 836.3L251.5 836.3L252.0 836.3L252.5 836.3L253.0 836.3L253.5 836.2L254.0 836.2L254.5 836.2L255.0 836.2L255.5 836.1L256.0 836.1L256.5 836.1L257.0 836.0L257.5 836.0L258.0 836.0L258.5 835.9L259.0 835.9L259.5 835.9L260.0 835.8L260.5 835.8L261.0 835.7L261.5 835.7L262.0 835.6L262.5 835.5L263.0 835.4L263.5 835.4L264.0 835.3L264.5 835.2L265.0 835.2L265.5 835.1L266.0 835.0L266.5 835.0L267.0 834.9L267.5 834.9L268.0 834.9L268.5 834.8L269.0 834.8L269.5 834.7L270.0 834.7L270.5 834.7L271.0 834.6L271.5 834.6L272.0 834.6L272.5 834.6L273.0 834.5L273.5 834.5L274.0 834.5L274.5 834.5L275.0 834.5L275.5 834.5L276.0 834.5L276.5 834.5L277.0 834.5L277.5 834.5L278.0 834.5L278.5 834.6L279.0 834.6L279.5 834.6L280.0 834.6L280.5 834.6L281.0 834.6L281.5 834.7L282.0 834.7L282.5 834.7L283.0 834.7L283.5 834.7L284.0 834.7L284.5 834.7L285.0 834.8L285.5 834.8L286.0 834.8L286.5 834.8L287.0 834.8L287.5 834.8L288.0 834.7L288.5 834.7L289.0 834.7L289.5 834.7L290.0 834.6L290.5 834.6L291.0 834.5L291.5 834.5L292.0 834.5L292.5 834.4L293.0 834.4L293.5 834.3L294.0 834.3L294.5 834.2L295.0 834.2L295.5 834.2L296.0 834.1L296.5 834.1L297.0 834.0L297.5 834.0L298.0 833.9L298.5 833.9L299.0 833.8L299.5 833.8L300.0 833.7L300.5 833.7L301.0 833.6L301.5 833.6L302.0 833.6L302.5 833.5L303.0 833.5L303.5 833.4L304.0 833.4L304.5 833.4L305.0 833.4L305.5 833.3L306.0 833.3L306.5 833.3L307.0 833.2L307.5 833.2L308.0 833.2L308.5 833.1L309.0 833.1L309.5 833.1L310.0 833.1L310.5 833.0L311.0 833.0L311.5 833.0L312.0 833.0L312.5 833.0L313.0 833.0L313.5 833.0L314.0 833.0L314.5 833.0L315.0 833.0L315.5 833.0L316.0 833.1L316.5 833.1L317.0 833.1L317.5 833.1L318.0 833.2L318.5 833.2L319.0 833.2L319.5 833.3L320.0 833.3L320.5 833.3L321.0 833.3L321.5 833.4L322.0 833.4L322.5 833.4L323.0 833.5L323.5 833.5L324.0 833.6L324.5 833.6L325.0 833.7L325.5 833.7L326.0 833.7L326.5 833.8L327.0 833.8L327.5 833.9L328.0 833.9L328.5 834.0L329.0 834.0L329.5 834.1L330.0 834.1L330.5 834.2L331.0 834.2L331.5 834.2L332.0 834.2L332.5 834.3L333.0 834.3L333.5 834.3L334.0 834.4L334.5 834.4L335.0 834.4L335.5 834.4L336.0 834.5L336.5 834.5L337.0 834.5L337.5 834.5L338.0 834.6L338.5 834.6L339.0 834.6L339.5 834.6L340.0 834.6L340.5 834.6L341.0 834.6L341.5 834.6L342.0 834.6L342.5 834.6L343.0 834.6L343.5 834.6L344.0 834.6L344.5 834.6L345.0 834.6L345.5 834.6L346.0 834.6L346.5 834.6L347.0 834.6L347.5 834.6L348.0 834.5L348.5 834.5L349.0 834.5L349.5 834.5L350.0 834.5L350.5 834.5L351.0 834.5L351.5 834.5L352.0 834.5L352.5 834.5L353.0 834.5L353.5 834.5L354.0 834.5L354.5 834.5L355.0 834.5L355.5 834.6L356.0 834.6L356.5 834.6L357.0 834.7L357.5 834.7L358.0 834.7L358.5 834.8L359.0 834.8L359.5 834.8L360.0 834.9L360.5 834.9L361.0 835.0L361.5 835.0L362.0 835.0L362.5 835.0L363.0 835.1L363.5 835.1L364.0 835.1L364.5 835.1L365.0 835.1L365.5 835.2L366.0 835.2L366.5 835.2L367.0 835.2L367.5 835.2L368.0 835.2L368.5 835.2L369.0 835.3L369.5 835.3L370.0 835.3L370.5 835.3L371.0 835.3L371.5 835.4L372.0 835.4L372.5 835.4L373.0 835.4L373.5 835.4L374.0 835.5L374.5 835.5L375.0 835.5L375.5 835.5L376.0 835.6L376.5 835.6L377.0 835.6L377.5 835.6L378.0 835.7L378.5 835.7L379.0 835.7L379.5 835.7L380.0 835.8L380.5 835.8L381.0 835.8L381.5 835.8L382.0 835.9L382.5 835.9L383.0 835.9L383.5 836.0L384.0 836.0L384.5 836.0L385.0 836.0L385.5 836.1L386.0 836.1L386.5 836.1L387.0 836.2L387.5 836.2L388.0 836.2L388.5 836.3L389.0 836.3L389.5 836.3L390.0 836.3L390.5 836.4L391.0 836.4L391.5 836.4L392.0 836.5L392.5 836.5L393.0 836.5L393.5 836.6L394.0 836.6L394.5 836.6L395.0 836.7L395.5 836.7L396.0 836.7L396.5 836.8L397.0 836.8L397.5 836.8L398.0 836.9L398.5 836.9L399.0 836.9L399.5 836.9L400.0 837.0L400.5 837.0L401.0 837.0L401.5 837.0L402.0 837.1L402.5 837.1L403.0 837.1L403.5 837.1L404.0 837.2L404.5 837.2L405.0 837.2L405.5 837.2L406.0 837.2L406.5 837.3L407.0 837.3L407.5 837.3L408.0 837.3L408.5 837.4L409.0 837.4L409.5 837.4L410.0 837.4L410.5 837.5L411.0 837.5L411.5 837.5L412.0 837.5L412.5 837.6L413.0 837.6L413.5 837.6L414.0 837.7L414.5 837.7L415.0 837.8L415.5 837.8L416.0 837.9L416.5 838.0L417.0 838.0L417.5 838.1L418.0 838.2L418.5 838.2L419.0 838.3L419.5 838.4L420.0 838.4L420.5 838.5L421.0 838.5L421.5 838.6L422.0 838.6L422.5 838.7L423.0 838.7L423.5 838.7L424.0 838.8L424.5 838.8L425.0 838.8L425.5 838.8L426.0 838.9L426.5 838.9L427.0 838.9L427.5 838.9L428.0 839.0L428.5 839.0L429.0 839.0L429.5 839.0L430.0 839.0L430.5 839.1L431.0 839.1L431.5 839.1L432.0 839.1L432.5 839.1L433.0 839.1L433.5 839.1L434.0 839.1L434.5 839.1L435.0 839.1L435.5 839.1L436.0 839.1L436.5 839.1L437.0 839.1L437.5 839.1L438.0 839.1L438.5 839.1L439.0 839.0L439.5 839.0L440.0 839.0L440.5 839.0L441.0 839.0L441.5 838.9L442.0 838.9L442.5 838.9L443.0 838.9L443.5 838.8L444.0 838.8L444.5 838.8L445.0 838.8L445.5 838.8L446.0 838.7L446.5 838.7L447.0 838.7L447.5 838.7L448.0 838.6L448.5 838.6L449.0 838.6L449.5 838.6L450.0 838.5L450.5 838.5L451.0 838.5L451.5 838.5L452.0 838.4L452.5 838.4L453.0 838.4L453.5 838.4L454.0 838.3L454.5 838.3L455.0 838.3L455.5 838.3L456.0 838.3L456.5 838.3L457.0 838.3L457.5 838.3L458.0 838.3L458.5 838.3L459.0 838.3L459.5 838.3L460.0 838.4L460.5 838.4L461.0 838.4L461.5 838.4L462.0 838.4L462.5 838.5L463.0 838.5L463.5 838.5L464.0 838.5L464.5 838.6L465.0 838.6L465.5 838.6L466.0 838.6L466.5 838.6L467.0 838.6L467.5 838.6L468.0 838.6L468.5 838.6L469.0 838.5L469.5 838.5L470.0 838.5L470.5 838.4L471.0 838.4L471.5 838.4L472.0 838.3L472.5 838.3L473.0 838.3L473.5 838.2L474.0 838.2L474.5 838.1L475.0 838.1L475.5 838.1L476.0 838.0L476.5 838.0L477.0 837.9L477.5 837.9L478.0 837.8L478.5 837.8L479.0 837.7L479.5 837.7L480.0 837.6L480.5 837.6L481.0 837.6L481.5 837.5L482.0 837.5L482.5 837.5L483.0 837.4L483.5 837.4L484.0 837.4L484.5 837.4L485.0 837.4L485.5 837.4L486.0 837.4L486.5 837.4L487.0 837.4L487.5 837.4L488.0 837.5L488.5 837.5L489.0 837.5L489.5 837.5L490.0 837.5L490.5 837.6L491.0 837.6L491.5 837.6L492.0 837.7L492.5 837.7L493.0 837.7L493.5 837.8L494.0 837.8L494.5 837.9L495.0 837.9L495.5 838.0L496.0 838.0L496.5 838.1L497.0 838.1L497.5 838.2L498.0 838.2L498.5 838.2L499.0 838.2L499.5 838.2L500.0 838.2L500.5 838.2L501.0 838.2L501.5 838.1L502.0 838.1L502.5 838.1L503.0 838.0L503.5 838.0L504.0 838.0L504.5 838.0L505.0 837.9L505.5 837.9L506.0 837.8L506.5 837.8L507.0 837.8L507.5 837.7L508.0 837.6L508.5 837.6L509.0 837.5L509.5 837.5L510.0 837.4L510.5 837.3L511.0 837.3L511.5 837.2L512.0 837.2L512.5 837.1L513.0 837.1L513.5 837.0L514.0 837.0L514.5 837.0L515.0 836.9L515.5 836.9L516.0 836.9L516.5 836.9L517.0 836.9L517.5 836.9L518.0 836.9L518.5 836.9L519.0 837.0L519.5 837.0L520.0 837.0L520.5 837.0L521.0 837.1L521.5 837.1L522.0 837.1L522.5 837.2L523.0 837.2L523.5 837.2L524.0 837.3L524.5 837.3L525.0 837.3L525.5 837.3L526.0 837.4L526.5 837.4L527.0 837.5L527.5 837.5L528.0 837.5L528.5 837.6L529.0 837.6L529.5 837.7L530.0 837.7L530.5 837.7L531.0 837.8L531.5 837.8L532.0 837.9L532.5 837.9L533.0 837.9L533.5 838.0L534.0 838.0L534.5 838.1L535.0 838.1L535.5 838.1L536.0 838.2L536.5 838.2L537.0 838.2L537.5 838.3L538.0 838.3L538.5 838.4L539.0 838.4L539.5 838.4L540.0 838.5L540.5 838.5L541.0 838.5L541.5 838.6L542.0 838.6L542.5 838.6L543.0 838.7L543.5 838.7L544.0 838.7L544.5 838.8L545.0 838.8L545.5 838.8L546.0 838.9L546.5 838.9L547.0 838.9L547.5 839.0L548.0 839.0L548.5 839.0L549.0 839.0L549.5 839.1L550.0 839.1L550.5 839.1L551.0 839.1L551.5 839.2L552.0 839.2L552.5 839.2L553.0 839.2L553.5 839.3L554.0 839.3L554.5 839.3L555.0 839.3L555.5 839.4L556.0 839.4L556.5 839.4L557.0 839.4L557.5 839.4L558.0 839.5L558.5 839.5L559.0 839.5L559.5 839.5L560.0 839.6L560.5 839.6L561.0 839.6L561.5 839.7L562.0 839.7L562.5 839.7L563.0 839.7L563.5 839.8L564.0 839.8L564.5 839.8L565.0 839.8L565.5 839.8L566.0 839.9L566.5 839.9L567.0 839.9L567.5 839.9L568.0 839.9L568.5 839.9L569.0 839.9L569.5 839.9L570.0 839.9L570.5 839.9L571.0 839.9L571.5 839.9L572.0 839.9L572.5 839.8L573.0 839.8L573.5 839.8L574.0 839.8L574.5 839.7L575.0 839.7L575.5 839.7L576.0 839.7L576.5 839.6L577.0 839.6L577.5 839.6L578.0 839.6L578.5 839.5L579.0 839.5L579.5 839.5L580.0 839.5L580.5 839.5L581.0 839.5L581.5 839.4L582.0 839.4L582.5 839.4L583.0 839.4L583.5 839.4L584.0 839.4L584.5 839.5L585.0 839.5L585.5 839.5L586.0 839.5L586.5 839.5L587.0 839.6L587.5 839.6L588.0 839.6L588.5 839.6L589.0 839.7L589.5 839.7L590.0 839.7L590.5 839.7L591.0 839.8L591.5 839.8L592.0 839.8L592.5 839.8L593.0 839.9L593.5 839.9L594.0 839.9L594.5 839.9L595.0 839.9L595.5 839.9L596.0 839.9L596.5 839.9L597.0 839.9L597.5 839.9L598.0 839.9L598.5 839.9L599.0 839.9L599.5 839.8L600.0 839.8L600.5 839.8L601.0 839.7L601.5 839.7L602.0 839.7L602.5 839.6L603.0 839.6L603.5 839.6L604.0 839.5L604.5 839.5L605.0 839.4L605.5 839.4L606.0 839.4L606.5 839.4L607.0 839.3L607.5 839.3L608.0 839.3L608.5 839.3L609.0 839.3L609.5 839.3L610.0 839.3L610.5 839.3L611.0 839.3L611.5 839.3L612.0 839.3L612.5 839.3L613.0 839.3L613.5 839.4L614.0 839.4L614.5 839.4L615.0 839.5L615.5 839.5L616.0 839.5L616.5 839.6L617.0 839.6L617.5 839.6L618.0 839.7L618.5 839.7L619.0 839.7L619.5 839.8L620.0 839.8L620.5 839.8L621.0 839.8L621.5 839.9L622.0 839.9L622.5 839.9L623.0 839.9L623.5 839.9L624.0 839.9L624.5 839.9L625.0 839.9L625.5 839.9L626.0 839.9L626.5 839.9L627.0 839.9L627.5 839.9L628.0 839.9L628.5 839.9L629.0 839.9L629.5 839.9L630.0 839.9L630.5 839.9L631.0 839.9L631.5 839.9L632.0 839.9L632.5 839.9L633.0 839.9L633.5 839.9L634.0 839.9L634.5 839.9L635.0 839.9L635.5 839.9L636.0 839.9L636.5 839.9L637.0 839.9L637.5 839.9L638.0 839.9L638.5 839.9L639.0 839.9L639.5 840.0L640.0 840.0L640.5 840.0L641.0 840.0L641.5 840.1L642.0 840.1L642.5 840.1L643.0 840.1L643.5 840.2L644.0 840.2L644.5 840.2L645.0 840.2L645.5 840.3L646.0 840.3L646.5 840.3L647.0 840.3L647.5 840.3L648.0 840.3L648.5 840.4L649.0 840.4L649.5 840.4L650.0 840.4L650.5 840.4L651.0 840.4L651.5 840.4L652.0 840.4L652.5 840.5L653.0 840.5L653.5 840.5L654.0 840.5L654.5 840.5L655.0 840.5L655.5 840.5L656.0 840.6L656.5 840.6L657.0 840.6L657.5 840.6L658.0 840.7L658.5 840.7L659.0 840.7L659.5 840.8L660.0 840.8L660.5 840.9L661.0 840.9L661.5 840.9L662.0 841.0L662.5 841.0L663.0 841.1L663.5 841.1L664.0 841.2L664.5 841.2L665.0 841.3L665.5 841.3L666.0 841.4L666.5 841.4L667.0 841.4L667.5 841.5L668.0 841.5L668.5 841.5L669.0 841.5L669.5 841.6L670.0 841.6L670.5 841.6L671.0 841.6L671.5 841.6L672.0 841.6L672.5 841.5L673.0 841.5L673.5 841.5L674.0 841.5L674.5 841.5L675.0 841.5L675.5 841.5L676.0 841.5L676.5 841.5L677.0 841.5L677.5 841.5L678.0 841.4L678.5 841.4L679.0 841.4L679.5 841.4L680.0 841.4L680.5 841.4L681.0 841.4L681.5 841.4L682.0 841.3L682.5 841.3L683.0 841.3L683.5 841.3L684.0 841.3L684.5 841.3L685.0 841.3L685.5 841.3L686.0 841.3L686.5 841.3L687.0 841.3L687.5 841.3L688.0 841.3L688.5 841.3L689.0 841.3L689.5 841.3L690.0 841.3L690.5 841.3L691.0 841.3L691.5 841.3L692.0 841.3L692.5 841.3L693.0 841.3L693.5 841.3L694.0 841.3L694.5 841.3L695.0 841.3L695.5 841.3L696.0 841.3L696.5 841.3L697.0 841.4L697.5 841.4L698.0 841.4L698.5 841.4L699.0 841.4L699.5 841.4L700.0 841.4L700.5 841.4L701.0 841.4L701.5 841.4L702.0 841.4L702.5 841.4L703.0 841.4L703.5 841.4L704.0 841.4L704.5 841.4L705.0 841.4L705.5 841.4L706.0 841.4L706.5 841.4L707.0 841.4L707.5 841.4L708.0 841.4L708.5 841.4L709.0 841.4L709.5 841.4L710.0 841.4L710.5 841.4L711.0 841.4L711.5 841.4L712.0 841.4L712.5 841.4L713.0 841.4L713.5 841.4L714.0 841.4L714.5 841.4L715.0 841.4L715.5 841.4L716.0 841.4L716.5 841.4L717.0 841.4L717.5 841.4L718.0 841.4L718.5 841.4L719.0 841.4L719.5 841.4L720.0 841.3L720.5 841.3L721.0 841.3L721.5 841.3L722.0 841.2L722.5 841.2L723.0 841.2L723.5 841.1L724.0 841.1L724.5 841.1L725.0 841.0L725.5 841.0L726.0 841.0L726.5 840.9L727.0 840.9L727.5 840.8L728.0 840.8L728.5 840.8L729.0 840.7L729.5 840.7L730.0 840.7L730.5 840.6L731.0 840.6L731.5 840.6L732.0 840.5L732.5 840.5L733.0 840.5L733.5 840.5L734.0 840.5L734.5 840.4L735.0 840.4L735.5 840.4L736.0 840.4L736.5 840.3L737.0 840.3L737.5 840.3L738.0 840.3L738.5 840.2L739.0 840.2L739.5 840.2L740.0 840.2L740.5 840.2L741.0 840.2L741.5 840.1L742.0 840.1L742.5 840.1L743.0 840.1L743.5 840.1L744.0 840.1L744.5 840.1L745.0 840.1L745.5 840.0L746.0 840.0L746.5 840.0L747.0 840.0L747.5 840.0L748.0 840.0L748.5 840.0L749.0 840.0L749.5 840.0L750.0 840.0L750.5 840.0L751.0 839.9L751.5 839.9L752.0 839.9L752.5 839.9L753.0 839.9L753.5 839.9L754.0 839.9L754.5 839.8L755.0 839.8L755.5 839.8L756.0 839.8L756.5 839.8L757.0 839.7L757.5 839.7L758.0 839.7L758.5 839.7L759.0 839.6L759.5 839.6L760.0 839.6L760.5 839.6L761.0 839.5L761.5 839.5L762.0 839.4L762.5 839.4L763.0 839.4L763.5 839.3L764.0 839.3L764.5 839.2L765.0 839.2L765.5 839.2L766.0 839.1L766.5 839.1L767.0 839.1L767.5 839.0L768.0 839.0L768.5 839.0L769.0 838.9L769.5 838.9L770.0 838.8L770.5 838.8L771.0 838.8L771.5 838.7L772.0 838.7L772.5 838.7L773.0 838.6L773.5 838.6L774.0 838.5L774.5 838.5L775.0 838.5L775.5 838.5L776.0 838.4L776.5 838.4L777.0 838.4L777.5 838.4L778.0 838.4L778.5 838.4L779.0 838.4L779.5 838.4L780.0 838.4L780.5 838.4L781.0 838.5L781.5 838.5L782.0 838.5L782.5 838.5L783.0 838.6L783.5 838.6L784.0 838.6L784.5 838.7L785.0 838.7L785.5 838.7L786.0 838.8L786.5 838.8L787.0 838.8L787.5 838.9L788.0 838.9L788.5 838.9L789.0 838.9L789.5 839.0L790.0 839.0L790.5 839.0L791.0 839.1L791.5 839.1L792.0 839.1L792.5 839.2L793.0 839.2L793.5 839.2L794.0 839.2L794.5 839.3L795.0 839.3L795.5 839.3L796.0 839.3L796.5 839.3L797.0 839.3L797.5 839.3L798.0 839.3L798.5 839.3L799.0 839.3L799.5 839.3L800.0 839.3L800.5 839.3L801.0 839.3L801.5 839.2L802.0 839.2L802.5 839.2L803.0 839.2L803.5 839.2L804.0 839.2L804.5 839.2L805.0 839.2L805.5 839.2L806.0 839.2L806.5 839.3L807.0 839.3L807.5 839.3L808.0 839.3L808.5 839.3L809.0 839.4L809.5 839.4L810.0 839.4L810.5 839.4L811.0 839.5L811.5 839.5L812.0 839.5L812.5 839.5L813.0 839.6L813.5 839.6L814.0 839.6L814.5 839.6L815.0 839.6L815.5 839.6L816.0 839.7L816.5 839.7L817.0 839.7L817.5 839.7L818.0 839.7L818.5 839.7L819.0 839.7L819.5 839.7L820.0 839.7L820.5 839.7L821.0 839.7L821.5 839.7L822.0 839.7L822.5 839.7L823.0 839.7L823.5 839.7L824.0 839.7L824.5 839.7L825.0 839.7L825.5 839.7L826.0 839.7L826.5 839.7L827.0 839.7L827.5 839.7L828.0 839.7L828.5 839.7L829.0 839.7L829.5 839.7L830.0 839.8L830.5 839.8L831.0 839.8L831.5 839.8L832.0 839.8L832.5 839.8L833.0 839.9L833.5 839.9L834.0 839.9L834.5 839.9L835.0 839.9L835.5 839.9L836.0 840.0L836.5 840.0L837.0 840.0L837.5 840.0L838.0 840.0L838.5 840.0L839.0 840.0L839.5 840.0L840.0 840.0L840.5 839.9L841.0 839.9L841.5 839.9L842.0 839.9L842.5 839.9L843.0 839.9L843.5 839.9L844.0 839.9L844.5 839.8L845.0 839.8L845.5 839.8L846.0 839.8L846.5 839.8L847.0 839.8L847.5 839.8L848.0 839.8L848.5 839.8L849.0 839.8L849.5 839.8L850.0 839.8L850.5 839.8L851.0 839.8L851.5 839.8L852.0 839.8L852.5 839.9L853.0 839.9L853.5 839.9L854.0 840.0L854.5 840.0L855.0 840.0L855.5 840.1L856.0 840.1L856.5 840.2L857.0 840.2L857.5 840.2L858.0 840.3L858.5 840.3L859.0 840.3L859.5 840.3L860.0 840.4L860.5 840.4L861.0 840.4L861.5 840.4L862.0 840.5L862.5 840.5L863.0 840.5L863.5 840.5L864.0 840.5L864.5 840.6L865.0 840.6L865.5 840.6L866.0 840.6L866.5 840.6L867.0 840.6L867.5 840.6L868.0 840.6L868.5 840.6L869.0 840.5L869.5 840.5L870.0 840.5L870.5 840.5L871.0 840.5L871.5 840.5L872.0 840.5L872.5 840.4L873.0 840.4L873.5 840.4L874.0 840.4L874.5 840.4L875.0 840.4L875.5 840.3L876.0 840.3L876.5 840.3L877.0 840.3L877.5 840.3L878.0 840.3L878.5 840.3L879.0 840.2L879.5 840.2L880.0 840.2L880.5 840.2L881.0 840.2L881.5 840.2L882.0 840.2L882.5 840.2L883.0 840.1L883.5 840.1L884.0 840.1L884.5 840.1L885.0 840.1L885.5 840.1L886.0 840.1L886.5 840.0L887.0 840.0L887.5 840.0L888.0 840.0L888.5 840.0L889.0 840.0L889.5 839.9L890.0 839.9L890.5 839.9L891.0 839.9L891.5 839.9L892.0 839.9L892.5 839.8L893.0 839.8L893.5 839.8L894.0 839.8L894.5 839.7L895.0 839.7L895.5 839.7L896.0 839.7L896.5 839.6L897.0 839.6L897.5 839.6L898.0 839.6L898.5 839.5L899.0 839.5L899.5 839.5L900.0 839.4L900.5 839.4L901.0 839.3L901.5 839.3L902.0 839.2L902.5 839.2L903.0 839.1L903.5 839.1L904.0 839.0L904.5 839.0L905.0 838.9L905.5 838.9L906.0 838.9L906.5 838.9L907.0 838.9L907.5 838.8L908.0 838.8L908.5 838.9L909.0 838.9L909.5 838.9L910.0 838.9L910.5 838.9L911.0 839.0L911.5 839.0L912.0 839.0L912.5 839.1L913.0 839.1L913.5 839.1L914.0 839.2L914.5 839.2L915.0 839.3L915.5 839.3L916.0 839.3L916.5 839.4L917.0 839.5L917.5 839.5L918.0 839.6L918.5 839.7L919.0 839.7L919.5 839.8L920.0 839.8L920.5 839.9L921.0 839.9L921.5 840.0L922.0 840.0L922.5 840.0L923.0 840.0L923.5 840.0L924.0 839.9L924.5 839.9L925.0 839.9L925.5 839.8L926.0 839.8L926.5 839.8L927.0 839.7L927.5 839.7L928.0 839.6L928.5 839.6L929.0 839.5L929.5 839.5L930.0 839.4L930.5 839.4L931.0 839.3L931.5 839.2L932.0 839.1L932.5 839.1L933.0 839.0L933.5 838.9L934.0 838.8L934.5 838.8L935.0 838.7L935.5 838.6L936.0 838.6L936.5 838.5L937.0 838.5L937.5 838.4L938.0 838.4L938.5 838.4L939.0 838.3L939.5 838.3L940.0 838.2L940.5 838.2L941.0 838.2L941.5 838.1L942.0 838.1L942.5 838.1L943.0 838.0L943.5 838.0L944.0 838.0L944.5 838.0L945.0 838.0L945.5 837.9L946.0 837.9L946.5 837.9L947.0 837.9L947.5 837.9L948.0 837.9L948.5 838.0L949.0 838.0L949.5 838.0L950.0 838.0L950.5 838.0L951.0 838.1L951.5 838.1L952.0 838.1L952.5 838.1L953.0 838.1L953.5 838.2L954.0 838.2L954.5 838.2L955.0 838.2L955.5 838.3L956.0 838.3L956.5 838.3L957.0 838.4L957.5 838.4L958.0 838.4L958.5 838.5L959.0 838.5L959.5 838.6L960.0 838.6L960.5 838.6L961.0 838.7L961.5 838.7L962.0 838.7L962.5 838.7L963.0 838.7L963.5 838.8L964.0 838.8L964.5 838.8L965.0 838.8L965.5 838.8L966.0 838.8L966.5 838.7L967.0 838.7L967.5 838.7L968.0 838.7L968.5 838.7L969.0 838.7L969.5 838.7L970.0 838.7L970.5 838.7L971.0 838.7L971.5 838.7L972.0 838.7L972.5 838.6L973.0 838.6L973.5 838.6L974.0 838.6L974.5 838.6L975.0 838.6L975.5 838.6L976.0 838.6L976.5 838.5L977.0 838.5L977.5 838.5L978.0 838.5L978.5 838.5L979.0 838.5L979.5 838.4L980.0 838.4L980.5 838.4L981.0 838.4L981.5 838.4L982.0 838.3L982.5 838.3L983.0 838.3L983.5 838.3L984.0 838.3L984.5 838.2L985.0 838.2L985.5 838.2L986.0 838.2L986.5 838.2L987.0 838.2L987.5 838.1L988.0 838.1L988.5 838.1L989.0 838.1L989.5 838.1L990.0 838.1L990.5 838.1L991.0 838.1L991.5 838.1L992.0 838.2L992.5 838.2L993.0 838.2L993.5 838.2L994.0 838.2L994.5 838.2L995.0 838.2L995.5 838.2L996.0 838.3L996.5 838.3L997.0 838.3L997.5 838.3L998.0 838.3L998.5 838.3L999.0 838.3L999.5 838.3L1000.0 838.3L1000.5 838.4L1001.0 838.4L1001.5 838.4L1002.0 838.3L1002.5 838.3L1003.0 838.3L1003.5 838.3L1004.0 838.3L1004.5 838.3L1005.0 838.3L1005.5 838.3L1006.0 838.3L1006.5 838.2L1007.0 838.2L1007.5 838.2L1008.0 838.2L1008.5 838.2L1009.0 838.2L1009.5 838.2L1010.0 838.2L1010.5 838.2L1011.0 838.2L1011.5 838.2L1012.0 838.3L1012.5 838.3L1013.0 838.3L1013.5 838.3L1014.0 838.3L1014.5 838.3L1015.0 838.4L1015.5 838.4L1016.0 838.4L1016.5 838.4L1017.0 838.4L1017.5 838.5L1018.0 838.5L1018.5 838.5L1019.0 838.5L1019.5 838.5L1020.0 838.5L1020.5 838.5L1021.0 838.6L1021.5 838.6L1022.0 838.6L1022.5 838.6L1023.0 838.6L1023.5 838.6L1024.0 838.5L1024.5 838.5L1025.0 838.5L1025.5 838.5L1026.0 838.5L1026.5 838.5L1027.0 838.4L1027.5 838.4L1028.0 838.4L1028.5 838.4L1029.0 838.4L1029.5 838.3L1030.0 838.3L1030.5 838.3L1031.0 838.3L1031.5 838.2L1032.0 838.2L1032.5 838.2L1033.0 838.2L1033.5 838.2L1034.0 838.1L1034.5 838.1L1035.0 838.1L1035.5 838.1L1036.0 838.1L1036.5 838.0L1037.0 838.0L1037.5 838.0L1038.0 838.0L1038.5 838.0L1039.0 837.9L1039.5 837.9L1040.0 837.9L1040.5 837.9L1041.0 837.9L1041.5 837.9L1042.0 837.9L1042.5 837.9L1043.0 837.9L1043.5 837.9L1044.0 837.9L1044.5 837.9L1045.0 837.9L1045.5 837.9L1046.0 838.0L1046.5 838.0L1047.0 838.0L1047.5 838.0L1048.0 838.0L1048.5 838.1L1049.0 838.1L1049.5 838.1L1050.0 838.2L1050.5 838.2L1051.0 838.2L1051.5 838.3L1052.0 838.3L1052.5 838.3L1053.0 838.3L1053.5 838.4L1054.0 838.4L1054.5 838.4L1055.0 838.4L1055.5 838.5L1056.0 838.5L1056.5 838.5L1057.0 838.5L1057.5 838.5L1058.0 838.5L1058.5 838.5L1059.0 838.5L1059.5 838.5L1060.0 838.5L1060.5 838.5L1061.0 838.5L1061.5 838.4L1062.0 838.4L1062.5 838.4L1063.0 838.4L1063.5 838.3L1064.0 838.3L1064.5 838.3L1065.0 838.2L1065.5 838.2L1066.0 838.2L1066.5 838.2L1067.0 838.1L1067.5 838.1L1068.0 838.1L1068.5 838.0L1069.0 838.0L1069.5 837.9L1070.0 837.9L1070.5 837.9L1071.0 837.8L1071.5 837.8L1072.0 837.7L1072.5 837.7L1073.0 837.6L1073.5 837.6L1074.0 837.5L1074.5 837.5L1075.0 837.4L1075.5 837.4L1076.0 837.3L1076.5 837.2L1077.0 837.1L1077.5 837.0L1078.0 836.9L1078.5 836.8L1079.0 836.7L1079.5 836.5L1080.0 836.5L1080.5 836.4L1081.0 836.3L1081.5 836.2L1082.0 836.1L1082.5 835.9L1083.0 835.8L1083.5 835.6L1084.0 835.4L1084.5 835.2L1085.0 835.0L1085.5 834.7L1086.0 834.4L1086.5 834.0L1087.0 833.7L1087.5 833.2L1088.0 832.8L1088.5 832.3L1089.0 831.7L1089.5 831.1L1090.0 830.4L1090.5 829.7L1091.0 828.9L1091.5 828.0L1092.0 827.1L1092.5 826.0L1093.0 824.9L1093.5 823.8L1094.0 822.5L1094.5 821.1L1095.0 819.7L1095.5 818.1L1096.0 816.5L1096.5 814.8L1097.0 812.9L1097.5 811.0L1098.0 809.0L1098.5 806.9L1099.0 804.7L1099.5 802.4L1100.0 800.0L1100.5 797.6L1101.0 795.0L1101.5 792.4L1102.0 789.7L1102.5 787.0L1103.0 784.2L1103.5 781.3L1104.0 778.5L1104.5 775.6L1105.0 772.7L1105.5 769.7L1106.0 766.8L1106.5 763.9L1107.0 761.1L1107.5 758.3L1108.0 755.5L1108.5 752.8L1109.0 750.2L1109.5 747.6L1110.0 745.2L1110.5 742.8L1111.0 740.6L1111.5 738.6L1112.0 736.6L1112.5 734.8L1113.0 733.2L1113.5 731.7L1114.0 730.4L1114.5 729.3L1115.0 728.4L1115.5 727.6L1116.0 727.0L1116.5 726.6L1117.0 726.3L1117.5 726.2L1118.0 726.2L1118.5 726.4L1119.0 726.8L1119.5 727.3L1120.0 728.0L1120.5 728.9L1121.0 730.0L1121.5 731.2L1122.0 732.6L1122.5 734.2L1123.0 735.9L1123.5 737.8L1124.0 739.8L1124.5 742.0L1125.0 744.2L1125.5 746.6L1126.0 749.1L1126.5 751.7L1127.0 754.4L1127.5 757.2L1128.0 760.0L1128.5 762.8L1129.0 765.7L1129.5 768.6L1130.0 771.5L1130.5 774.5L1131.0 777.4L1131.5 780.3L1132.0 783.1L1132.5 786.0L1133.0 788.7L1133.5 791.4L1134.0 794.1L1134.5 796.7L1135.0 799.2L1135.5 801.6L1136.0 803.9L1136.5 806.2L1137.0 808.4L1137.5 810.4L1138.0 812.4L1138.5 814.3L1139.0 816.0L1139.5 817.7L1140.0 819.3L1140.5 820.8L1141.0 822.2L1141.5 823.5L1142.0 824.8L1142.5 825.9L1143.0 827.0L1143.5 828.0L1144.0 828.9L1144.5 829.7L1145.0 830.5L1145.5 831.2L1146.0 831.8L1146.5 832.4L1147.0 833.0L1147.5 833.5L1148.0 833.9L1148.5 834.3L1149.0 834.7L1149.5 835.0L1150.0 835.3L1150.5 835.6L1151.0 835.8L1151.5 836.0L1152.0 836.2L1152.5 836.4L1153.0 836.6L1153.5 836.7L1154.0 836.8L1154.5 836.9L1155.0 837.1L1155.5 837.3L1156.0 837.5L1156.5 837.7L1157.0 837.9L1157.5 838.0L1158.0 838.2L1158.5 838.3L1159.0 838.3L1159.5 838.3L1160.0 838.3L1160.5 838.3L1161.0 838.2L1161.5 838.2L1162.0 838.1L1162.5 838.1L1163.0 838.0L1163.5 837.9L1164.0 837.8L1164.5 837.7L1165.0 837.6L1165.5 837.5L1166.0 837.4L1166.5 837.3L1167.0 837.2L1167.5 837.1L1168.0 837.0L1168.5 837.0L1169.0 836.9L1169.5 836.8L1170.0 836.7L1170.5 836.6L1171.0 836.6L1171.5 836.5L1172.0 836.5L1172.5 836.4L1173.0 836.4L1173.5 836.4L1174.0 836.5L1174.5 836.5L1175.0 836.6L1175.5 836.6L1176.0 836.7L1176.5 836.8L1177.0 836.8L1177.5 836.9L1178.0 836.9L1178.5 837.0L1179.0 837.1L1179.5 837.1L1180.0 837.2L1180.5 837.3L1181.0 837.3L1181.5 837.4L1182.0 837.5L1182.5 837.5L1183.0 837.6L1183.5 837.6L1184.0 837.7L1184.5 837.7L1185.0 837.8L1185.5 837.8L1186.0 837.9L1186.5 837.9L1187.0 837.9L1187.5 838.0L1188.0 838.0L1188.5 838.0L1189.0 838.0L1189.5 838.1L1190.0 838.1L1190.5 838.1L1191.0 838.1L1191.5 838.1L1192.0 838.2L1192.5 838.2L1193.0 838.2L1193.5 838.2L1194.0 838.2L1194.5 838.2L1195.0 838.2L1195.5 838.2L1196.0 838.2L1196.5 838.2L1197.0 838.1L1197.5 838.1L1198.0 838.1L1198.5 838.0L1199.0 838.0L1199.5 837.9L1200.0 837.9L1200.5 837.8L1201.0 837.8L1201.5 837.7L1202.0 837.7L1202.5 837.6L1203.0 837.5L1203.5 837.4L1204.0 837.3L1204.5 837.2L1205.0 837.2L1205.5 837.1L1206.0 837.0L1206.5 836.9L1207.0 836.8L1207.5 836.8L1208.0 836.7L1208.5 836.6L1209.0 836.6L1209.5 836.5L1210.0 836.5L1210.5 836.4L1211.0 836.3L1211.5 836.3L1212.0 836.3L1212.5 836.2L1213.0 836.2L1213.5 836.1L1214.0 836.1L1214.5 836.1L1215.0 836.1L1215.5 836.1L1216.0 836.1L1216.5 836.1L1217.0 836.2L1217.5 836.2L1218.0 836.2L1218.5 836.2L1219.0 836.2L1219.5 836.2L1220.0 836.3L1220.5 836.3L1221.0 836.3L1221.5 836.3L1222.0 836.3L1222.5 836.3L1223.0 836.4L1223.5 836.4L1224.0 836.4L1224.5 836.4L1225.0 836.5L1225.5 836.5L1226.0 836.5L1226.5 836.5L1227.0 836.6L1227.5 836.6L1228.0 836.6L1228.5 836.6L1229.0 836.7L1229.5 836.7L1230.0 836.7L1230.5 836.7L1231.0 836.7L1231.5 836.7L1232.0 836.7L1232.5 836.7L1233.0 836.7L1233.5 836.7L1234.0 836.7L1234.5 836.7L1235.0 836.7L1235.5 836.7L1236.0 836.7L1236.5 836.7L1237.0 836.7L1237.5 836.7L1238.0 836.7L1238.5 836.7L1239.0 836.7L1239.5 836.6L1240.0 836.6L1240.5 836.6L1241.0 836.6L1241.5 836.5L1242.0 836.5L1242.5 836.5L1243.0 836.4L1243.5 836.4L1244.0 836.4L1244.5 836.3L1245.0 836.3L1245.5 836.3L1246.0 836.2L1246.5 836.2L1247.0 836.2L1247.5 836.2L1248.0 836.1L1248.5 836.1L1249.0 836.1L1249.5 836.0L1250.0 836.0L1250.5 835.9L1251.0 835.8L1251.5 835.7L1252.0 835.6L1252.5 835.5L1253.0 835.4L1253.5 835.3L1254.0 835.2L1254.5 835.2L1255.0 835.1L1255.5 835.1L1256.0 835.0L1256.5 835.0L1257.0 834.9L1257.5 834.9L1258.0 834.8L1258.5 834.8L1259.0 834.8L1259.5 834.8L1260.0 834.8L1260.5 834.8L1261.0 834.8L1261.5 834.8L1262.0 834.9L1262.5 834.9L1263.0 834.9L1263.5 834.9L1264.0 835.0L1264.5 835.0L1265.0 835.0L1265.5 835.1L1266.0 835.1L1266.5 835.1L1267.0 835.2L1267.5 835.2L1268.0 835.3L1268.5 835.4L1269.0 835.5L1269.5 835.5L1270.0 835.6L1270.5 835.7L1271.0 835.7L1271.5 835.7L1272.0 835.7L1272.5 835.7L1273.0 835.7L1273.5 835.7L1274.0 835.6L1274.5 835.6L1275.0 835.5L1275.5 835.4L1276.0 835.4L1276.5 835.3L1277.0 835.2L1277.5 835.1L1278.0 835.1L1278.5 835.0L1279.0 835.0L1279.5 834.9L1280.0 834.9L1280.5 834.8L1281.0 834.8L1281.5 834.7L1282.0 834.7L1282.5 834.6L1283.0 834.6L1283.5 834.5L1284.0 834.5L1284.5 834.5L1285.0 834.5L1285.5 834.4L1286.0 834.5L1286.5 834.5L1287.0 834.5L1287.5 834.5L1288.0 834.5L1288.5 834.5L1289.0 834.6L1289.5 834.6L1290.0 834.6L1290.5 834.6L1291.0 834.7L1291.5 834.7L1292.0 834.7L1292.5 834.7L1293.0 834.8L1293.5 834.8L1294.0 834.8L1294.5 834.8L1295.0 834.9L1295.5 834.9L1296.0 834.9L1296.5 834.9L1297.0 834.9L1297.5 835.0L1298.0 835.0L1298.5 835.0L1299.0 835.0L1299.5 835.0L1300.0 835.0L1300.5 835.0L1301.0 834.9L1301.5 834.9L1302.0 834.9L1302.5 834.9L1303.0 834.9L1303.5 834.8L1304.0 834.8L1304.5 834.8L1305.0 834.8L1305.5 834.8L1306.0 834.8L1306.5 834.8L1307.0 834.8L1307.5 834.8L1308.0 834.8L1308.5 834.8L1309.0 834.9L1309.5 834.9L1310.0 834.9L1310.5 834.9L1311.0 834.9L1311.5 835.0L1312.0 835.0L1312.5 835.0L1313.0 835.0L1313.5 835.1L1314.0 835.2L1314.5 835.2L1315.0 835.3L1315.5 835.4L1316.0 835.4L1316.5 835.5L1317.0 835.6L1317.5 835.6L1318.0 835.7L1318.5 835.7L1319.0 835.8L1319.5 835.8L1320.0 835.8L1320.5 835.9L1321.0 835.9L1321.5 835.9L1322.0 835.9L1322.5 836.0L1323.0 836.0L1323.5 836.0L1324.0 836.0L1324.5 836.0L1325.0 836.0L1325.5 836.0L1326.0 836.0L1326.5 836.0L1327.0 835.9L1327.5 835.9L1328.0 835.9L1328.5 835.9L1329.0 835.9L1329.5 835.9L1330.0 835.9L1330.5 835.9L1331.0 835.9L1331.5 835.8L1332.0 835.8L1332.5 835.8L1333.0 835.7L1333.5 835.7L1334.0 835.7L1334.5 835.6L1335.0 835.6L1335.5 835.6L1336.0 835.5L1336.5 835.5L1337.0 835.5L1337.5 835.5L1338.0 835.5L1338.5 835.5L1339.0 835.5L1339.5 835.5L1340.0 835.5L1340.5 835.5L1341.0 835.5L1341.5 835.5L1342.0 835.5L1342.5 835.5L1343.0 835.5L1343.5 835.4L1344.0 835.4L1344.5 835.4L1345.0 835.4L1345.5 835.4L1346.0 835.4L1346.5 835.4L1347.0 835.4L1347.5 835.4L1348.0 835.4L1348.5 835.4L1349.0 835.4L1349.5 835.4L1350.0 835.5L1350.5 835.5L1351.0 835.5L1351.5 835.5L1352.0 835.5L1352.5 835.5L1353.0 835.5L1353.5 835.5L1354.0 835.5L1354.5 835.5L1355.0 835.5L1355.5 835.5L1356.0 835.5L1356.5 835.5L1357.0 835.5L1357.5 835.5L1358.0 835.5L1358.5 835.5L1359.0 835.5L1359.5 835.5L1360.0 835.6L1360.5 835.6L1361.0 835.6L1361.5 835.6L1362.0 835.6L1362.5 835.6L1363.0 835.6L1363.5 835.6L1364.0 835.6L1364.5 835.6L1365.0 835.6L1365.5 835.6L1366.0 835.6L1366.5 835.7L1367.0 835.7L1367.5 835.7L1368.0 835.7L1368.5 835.7L1369.0 835.7L1369.5 835.7L1370.0 835.7L1370.5 835.7L1371.0 835.7L1371.5 835.7L1372.0 835.7L1372.5 835.7L1373.0 835.7L1373.5 835.7L1374.0 835.8L1374.5 835.8L1375.0 835.8L1375.5 835.8L1376.0 835.8L1376.5 835.8L1377.0 835.8L1377.5 835.8L1378.0 835.8L1378.5 835.8L1379.0 835.8L1379.5 835.8L1380.0 835.8L1380.5 835.8L1381.0 835.8L1381.5 835.8L1382.0 835.8L1382.5 835.8L1383.0 835.8L1383.5 835.8L1384.0 835.8L1384.5 835.8L1385.0 835.8L1385.5 835.8L1386.0 835.8L1386.5 835.8L1387.0 835.8L1387.5 835.8L1388.0 835.8L1388.5 835.8L1389.0 835.8L1389.5 835.8L1390.0 835.8L1390.5 835.8L1391.0 835.8L1391.5 835.8L1392.0 835.8L1392.5 835.8L1393.0 835.8L1393.5 835.8L1394.0 835.8L1394.5 835.9L1395.0 835.9L1395.5 835.9L1396.0 835.9L1396.5 835.9L1397.0 835.9L1397.5 835.9L1398.0 835.9L1398.5 836.0L1399.0 836.0L1399.5 836.0L1400.0 836.0L1400.5 836.0L1401.0 836.0L1401.5 836.0L1402.0 836.0L1402.5 836.1L1403.0 836.1L1403.5 836.1L1404.0 836.1L1404.5 836.1L1405.0 836.1L1405.5 836.1L1406.0 836.1L1406.5 836.1L1407.0 836.1L1407.5 836.1L1408.0 836.1L1408.5 836.1L1409.0 836.1L1409.5 836.1L1410.0 836.1L1410.5 836.1L1411.0 836.1L1411.5 836.2L1412.0 836.2L1412.5 836.2L1413.0 836.2L1413.5 836.2L1414.0 836.2L1414.5 836.2L1415.0 836.2L1415.5 836.2L1416.0 836.2L1416.5 836.2L1417.0 836.2L1417.5 836.2L1418.0 836.2L1418.5 836.2L1419.0 836.2L1419.5 836.2L1420.0 836.2L1420.5 836.3L1421.0 836.3L1421.5 836.3L1422.0 836.3L1422.5 836.3L1423.0 836.3L1423.5 836.3L1424.0 836.3L1424.5 836.4L1425.0 836.4L1425.5 836.4L1426.0 836.4L1426.5 836.4L1427.0 836.5L1427.5 836.5L1428.0 836.5L1428.5 836.5L1429.0 836.6L1429.5 836.6L1430.0 836.6L1430.5 836.6L1431.0 836.7L1431.5 836.7L1432.0 836.7L1432.5 836.7L1433.0 836.8L1433.5 836.8L1434.0 836.8L1434.5 836.9L1435.0 836.9L1435.5 836.9L1436.0 837.0L1436.5 837.0L1437.0 837.1L1437.5 837.1L1438.0 837.1L1438.5 837.2L1439.0 837.2L1439.5 837.2L1440.0 837.3L1440.5 837.3L1441.0 837.3L1441.5 837.3L1442.0 837.4L1442.5 837.4L1443.0 837.4L1443.5 837.4L1444.0 837.4L1444.5 837.4L1445.0 837.4L1445.5 837.5L1446.0 837.5L1446.5 837.5L1447.0 837.4L1447.5 837.4L1448.0 837.4L1448.5 837.4L1449.0 837.4L1449.5 837.4L1450.0 837.3L1450.5 837.3L1451.0 837.3L1451.5 837.3L1452.0 837.2L1452.5 837.2L1453.0 837.2L1453.5 837.2L1454.0 837.1L1454.5 837.1L1455.0 837.1L1455.5 837.1L1456.0 837.1L1456.5 837.0L1457.0 837.0L1457.5 837.0L1458.0 837.0L1458.5 837.0L1459.0 837.0L1459.5 837.0L1460.0 837.1L1460.5 837.1L1461.0 837.1L1461.5 837.1L1462.0 837.2L1462.5 837.2L1463.0 837.2L1463.5 837.2L1464.0 837.3L1464.5 837.3L1465.0 837.3L1465.5 837.3L1466.0 837.4L1466.5 837.4L1467.0 837.5L1467.5 837.5L1468.0 837.5L1468.5 837.6L1469.0 837.6L1469.5 837.6L1470.0 837.7L1470.5 837.7L1471.0 837.8L1471.5 837.8L1472.0 837.9L1472.5 837.9L1473.0 837.9L1473.5 838.0L1474.0 838.0L1474.5 838.1L1475.0 838.1L1475.5 838.2L1476.0 838.2L1476.5 838.3L1477.0 838.3L1477.5 838.4L1478.0 838.4L1478.5 838.5L1479.0 838.5L1479.5 838.6L1480.0 838.6L1480.5 838.7L1481.0 838.7L1481.5 838.8L1482.0 838.8L1482.5 838.9L1483.0 839.0L1483.5 839.0L1484.0 839.1L1484.5 839.2L1485.0 839.2L1485.5 839.3L1486.0 839.4L1486.5 839.5L1487.0 839.5L1487.5 839.6L1488.0 839.7L1488.5 839.8L1489.0 839.8L1489.5 839.9L1490.0 840.0L1490.5 840.0L1491.0 840.1L1491.5 840.1L1492.0 840.2L1492.5 840.2L1493.0 840.2L1493.5 840.2L1494.0 840.3L1494.5 840.3L1495.0 840.3L1495.5 840.3L1496.0 840.3L1496.5 840.4L1497.0 840.4L1497.5 840.4L1498.0 840.4L1498.5 840.4L1499.0 840.5L1499.5 840.5L1500.0 840.5L1500.5 840.5L1501.0 840.5L1501.5 840.6L1502.0 840.6L1502.5 840.6L1503.0 840.6L1503.5 840.6L1504.0 840.7L1504.5 840.7L1505.0 840.7L1505.5 840.7L1506.0 840.8L1506.5 840.8L1507.0 840.8L1507.5 840.9L1508.0 840.9L1508.5 840.9L1509.0 841.0L1509.5 841.0L1510.0 841.1L1510.5 841.1L1511.0 841.2L1511.5 841.2L1512.0 841.2L1512.5 841.2L1513.0 841.3L1513.5 841.3L1514.0 841.3L1514.5 841.3L1515.0 841.3L1515.5 841.3L1516.0 841.2L1516.5 841.2L1517.0 841.2L1517.5 841.2L1518.0 841.2L1518.5 841.1L1519.0 841.1L1519.5 841.1L1520.0 841.0L1520.5 841.0L1521.0 841.0L1521.5 841.0L1522.0 841.0L1522.5 841.0L1523.0 840.9L1523.5 840.9L1524.0 840.9L1524.5 841.0L1525.0 841.0L1525.5 841.0L1526.0 841.0L1526.5 841.1L1527.0 841.1L1527.5 841.1L1528.0 841.2L1528.5 841.2L1529.0 841.3L1529.5 841.3L1530.0 841.4L1530.5 841.4L1531.0 841.4L1531.5 841.5L1532.0 841.5L1532.5 841.5L1533.0 841.6L1533.5 841.6L1534.0 841.6L1534.5 841.6L1535.0 841.6L1535.5 841.6L1536.0 841.6L1536.5 841.5L1537.0 841.5L1537.5 841.5L1538.0 841.5L1538.5 841.4L1539.0 841.4L1539.5 841.3L1540.0 841.3L1540.5 841.3L1541.0 841.2L1541.5 841.2L1542.0 841.1L1542.5 841.1L1543.0 841.0L1543.5 840.9L1544.0 840.9L1544.5 840.8L1545.0 840.8L1545.5 840.7L1546.0 840.7L1546.5 840.6L1547.0 840.6L1547.5 840.6L1548.0 840.6L1548.5 840.6L1549.0 840.6L1549.5 840.6L1550.0 840.6L1550.5 840.6L1551.0 840.7L1551.5 840.7L1552.0 840.7L1552.5 840.8L1553.0 840.8L1553.5 840.8L1554.0 840.9L1554.5 841.0L1555.0 841.0L1555.5 841.1L1556.0 841.2L1556.5 841.3L1557.0 841.4L1557.5 841.6L1558.0 841.7L1558.5 841.8L1559.0 841.9L1559.5 842.0L1560.0 842.1L1560.5 842.2L1561.0 842.3L1561.5 842.4L1562.0 842.5L1562.5 842.6L1563.0 842.7L1563.5 842.8L1564.0 842.8L1564.5 842.9L1565.0 843.0L1565.5 843.0L1566.0 843.1L1566.5 843.2L1567.0 843.2L1567.5 843.3L1568.0 843.4L1568.5 843.4L1569.0 843.5L1569.5 843.6L1570.0 843.6L1570.5 843.7L1571.0 843.7L1571.5 843.8L1572.0 843.9L1572.5 844.0L1573.0 844.0L1573.5 844.1L1574.0 844.2L1574.5 844.2L1575.0 844.3L1575.5 844.3L1576.0 844.4L1576.5 844.5L1577.0 844.5L1577.5 844.5L1578.0 844.6L1578.5 844.6L1579.0 844.6L1579.5 844.6L1580.0 844.6L1580.5 844.6L1581.0 844.5L1581.5 844.4L1582.0 844.4L1582.5 844.3L1583.0 844.2L1583.5 844.1L1584.0 844.0L1584.5 843.9L1585.0 843.8L1585.5 843.7L1586.0 843.6L1586.5 843.6L1587.0 843.5L1587.5 843.4L1588.0 843.3L1588.5 843.2L1589.0 843.1L1589.5 843.0L1590.0 842.9L1590.5 842.8L1591.0 842.7L1591.5 842.5L1592.0 842.4L1592.5 842.3L1593.0 842.2" stroke="#30AD6A" stroke-width="4.2"/>
<path d="M175.0 836.1L175.5 836.1L176.0 836.1L176.5 836.1L177.0 836.1L177.5 836.1L178.0 836.1L178.5 836.1L179.0 836.1L179.5 836.1L180.0 836.1L180.5 836.2L181.0 836.2L181.5 836.2L182.0 836.2L182.5 836.2L183.0 836.2L183.5 836.2L184.0 836.2L184.5 836.2L185.0 836.2L185.5 836.2L186.0 836.2L186.5 836.2L187.0 836.2L187.5 836.2L188.0 836.2L188.5 836.2L189.0 836.2L189.5 836.2L190.0 836.2L190.5 836.2L191.0 836.2L191.5 836.2L192.0 836.2L192.5 836.2L193.0 836.2L193.5 836.2L194.0 836.1L194.5 836.1L195.0 836.1L195.5 836.1L196.0 836.1L196.5 836.1L197.0 836.1L197.5 836.1L198.0 836.0L198.5 836.0L199.0 836.0L199.5 836.0L200.0 836.0L200.5 836.0L201.0 836.0L201.5 836.0L202.0 836.0L202.5 836.0L203.0 836.0L203.5 836.0L204.0 836.0L204.5 836.0L205.0 836.1L205.5 836.1L206.0 836.1L206.5 836.1L207.0 836.1L207.5 836.1L208.0 836.1L208.5 836.1L209.0 836.2L209.5 836.2L210.0 836.2L210.5 836.2L211.0 836.2L211.5 836.2L212.0 836.2L212.5 836.2L213.0 836.2L213.5 836.2L214.0 836.2L214.5 836.2L215.0 836.2L215.5 836.2L216.0 836.2L216.5 836.2L217.0 836.2L217.5 836.2L218.0 836.2L218.5 836.1L219.0 836.1L219.5 836.1L220.0 836.1L220.5 836.0L221.0 836.0L221.5 836.0L222.0 835.9L222.5 835.9L223.0 835.9L223.5 835.8L224.0 835.8L224.5 835.8L225.0 835.7L225.5 835.7L226.0 835.7L226.5 835.6L227.0 835.6L227.5 835.5L228.0 835.5L228.5 835.5L229.0 835.5L229.5 835.4L230.0 835.4L230.5 835.4L231.0 835.4L231.5 835.3L232.0 835.3L232.5 835.3L233.0 835.3L233.5 835.3L234.0 835.4L234.5 835.4L235.0 835.4L235.5 835.4L236.0 835.4L236.5 835.4L237.0 835.5L237.5 835.5L238.0 835.5L238.5 835.5L239.0 835.5L239.5 835.5L240.0 835.6L240.5 835.6L241.0 835.6L241.5 835.6L242.0 835.6L242.5 835.6L243.0 835.6L243.5 835.7L244.0 835.7L244.5 835.7L245.0 835.7L245.5 835.7L246.0 835.7L246.5 835.8L247.0 835.8L247.5 835.8L248.0 835.8L248.5 835.8L249.0 835.8L249.5 835.8L250.0 835.8L250.5 835.8L251.0 835.8L251.5 835.8L252.0 835.8L252.5 835.8L253.0 835.8L253.5 835.8L254.0 835.8L254.5 835.8L255.0 835.8L255.5 835.8L256.0 835.8L256.5 835.7L257.0 835.7L257.5 835.7L258.0 835.7L258.5 835.7L259.0 835.6L259.5 835.6L260.0 835.6L260.5 835.6L261.0 835.6L261.5 835.5L262.0 835.5L262.5 835.5L263.0 835.4L263.5 835.4L264.0 835.3L264.5 835.3L265.0 835.3L265.5 835.2L266.0 835.2L266.5 835.2L267.0 835.2L267.5 835.1L268.0 835.1L268.5 835.1L269.0 835.1L269.5 835.1L270.0 835.1L270.5 835.0L271.0 835.0L271.5 835.0L272.0 835.0L272.5 835.0L273.0 835.0L273.5 835.0L274.0 835.0L274.5 835.0L275.0 835.0L275.5 835.0L276.0 835.0L276.5 835.0L277.0 835.0L277.5 835.0L278.0 835.0L278.5 835.0L279.0 835.0L279.5 835.0L280.0 835.0L280.5 835.0L281.0 835.0L281.5 835.0L282.0 835.0L282.5 835.0L283.0 835.1L283.5 835.1L284.0 835.1L284.5 835.1L285.0 835.1L285.5 835.1L286.0 835.1L286.5 835.1L287.0 835.1L287.5 835.1L288.0 835.1L288.5 835.1L289.0 835.0L289.5 835.0L290.0 835.0L290.5 835.0L291.0 835.0L291.5 835.0L292.0 834.9L292.5 834.9L293.0 834.9L293.5 834.9L294.0 834.8L294.5 834.8L295.0 834.8L295.5 834.8L296.0 834.8L296.5 834.7L297.0 834.7L297.5 834.7L298.0 834.7L298.5 834.6L299.0 834.6L299.5 834.6L300.0 834.6L300.5 834.5L301.0 834.5L301.5 834.5L302.0 834.5L302.5 834.5L303.0 834.4L303.5 834.4L304.0 834.4L304.5 834.4L305.0 834.4L305.5 834.4L306.0 834.3L306.5 834.3L307.0 834.3L307.5 834.3L308.0 834.3L308.5 834.3L309.0 834.3L309.5 834.2L310.0 834.2L310.5 834.2L311.0 834.2L311.5 834.2L312.0 834.2L312.5 834.2L313.0 834.2L313.5 834.2L314.0 834.2L314.5 834.2L315.0 834.2L315.5 834.2L316.0 834.2L316.5 834.2L317.0 834.3L317.5 834.3L318.0 834.3L318.5 834.3L319.0 834.3L319.5 834.3L320.0 834.3L320.5 834.4L321.0 834.4L321.5 834.4L322.0 834.4L322.5 834.4L323.0 834.4L323.5 834.5L324.0 834.5L324.5 834.5L325.0 834.5L325.5 834.5L326.0 834.6L326.5 834.6L327.0 834.6L327.5 834.6L328.0 834.7L328.5 834.7L329.0 834.7L329.5 834.7L330.0 834.8L330.5 834.8L331.0 834.8L331.5 834.8L332.0 834.8L332.5 834.8L333.0 834.9L333.5 834.9L334.0 834.9L334.5 834.9L335.0 834.9L335.5 834.9L336.0 834.9L336.5 834.9L337.0 835.0L337.5 835.0L338.0 835.0L338.5 835.0L339.0 835.0L339.5 835.0L340.0 835.0L340.5 835.0L341.0 835.0L341.5 835.0L342.0 835.0L342.5 835.0L343.0 835.0L343.5 835.0L344.0 835.0L344.5 835.0L345.0 835.0L345.5 835.0L346.0 835.0L346.5 835.0L347.0 835.0L347.5 835.0L348.0 835.0L348.5 835.0L349.0 835.0L349.5 835.0L350.0 835.0L350.5 835.0L351.0 835.0L351.5 834.9L352.0 834.9L352.5 834.9L353.0 834.9L353.5 834.9L354.0 835.0L354.5 835.0L355.0 835.0L355.5 835.0L356.0 835.0L356.5 835.0L357.0 835.0L357.5 835.0L358.0 835.1L358.5 835.1L359.0 835.1L359.5 835.1L360.0 835.1L360.5 835.2L361.0 835.2L361.5 835.2L362.0 835.2L362.5 835.2L363.0 835.2L363.5 835.2L364.0 835.3L364.5 835.3L365.0 835.3L365.5 835.3L366.0 835.3L366.5 835.3L367.0 835.3L367.5 835.3L368.0 835.3L368.5 835.3L369.0 835.3L369.5 835.3L370.0 835.3L370.5 835.4L371.0 835.4L371.5 835.4L372.0 835.4L372.5 835.4L373.0 835.4L373.5 835.4L374.0 835.4L374.5 835.4L375.0 835.5L375.5 835.5L376.0 835.5L376.5 835.5L377.0 835.5L377.5 835.5L378.0 835.5L378.5 835.5L379.0 835.6L379.5 835.6L380.0 835.6L380.5 835.6L381.0 835.6L381.5 835.6L382.0 835.6L382.5 835.7L383.0 835.7L383.5 835.7L384.0 835.7L384.5 835.7L385.0 835.7L385.5 835.7L386.0 835.7L386.5 835.8L387.0 835.8L387.5 835.8L388.0 835.8L388.5 835.8L389.0 835.8L389.5 835.9L390.0 835.9L390.5 835.9L391.0 835.9L391.5 835.9L392.0 835.9L392.5 836.0L393.0 836.0L393.5 836.0L394.0 836.0L394.5 836.0L395.0 836.0L395.5 836.1L396.0 836.1L396.5 836.1L397.0 836.1L397.5 836.1L398.0 836.1L398.5 836.1L399.0 836.2L399.5 836.2L400.0 836.2L400.5 836.2L401.0 836.2L401.5 836.2L402.0 836.2L402.5 836.2L403.0 836.3L403.5 836.3L404.0 836.3L404.5 836.3L405.0 836.3L405.5 836.3L406.0 836.3L406.5 836.3L407.0 836.3L407.5 836.4L408.0 836.4L408.5 836.4L409.0 836.4L409.5 836.4L410.0 836.4L410.5 836.4L411.0 836.4L411.5 836.5L412.0 836.5L412.5 836.5L413.0 836.5L413.5 836.5L414.0 836.5L414.5 836.6L415.0 836.6L415.5 836.6L416.0 836.6L416.5 836.7L417.0 836.7L417.5 836.7L418.0 836.8L418.5 836.8L419.0 836.8L419.5 836.9L420.0 836.9L420.5 836.9L421.0 837.0L421.5 837.0L422.0 837.0L422.5 837.0L423.0 837.1L423.5 837.1L424.0 837.1L424.5 837.1L425.0 837.1L425.5 837.1L426.0 837.1L426.5 837.1L427.0 837.2L427.5 837.2L428.0 837.2L428.5 837.2L429.0 837.2L429.5 837.2L430.0 837.2L430.5 837.2L431.0 837.2L431.5 837.2L432.0 837.2L432.5 837.3L433.0 837.3L433.5 837.3L434.0 837.3L434.5 837.3L435.0 837.3L435.5 837.3L436.0 837.3L436.5 837.3L437.0 837.2L437.5 837.2L438.0 837.2L438.5 837.2L439.0 837.2L439.5 837.2L440.0 837.2L440.5 837.2L441.0 837.2L441.5 837.2L442.0 837.2L442.5 837.1L443.0 837.1L443.5 837.1L444.0 837.1L444.5 837.1L445.0 837.1L445.5 837.1L446.0 837.1L446.5 837.1L447.0 837.0L447.5 837.0L448.0 837.0L448.5 837.0L449.0 837.0L449.5 837.0L450.0 837.0L450.5 837.0L451.0 836.9L451.5 836.9L452.0 836.9L452.5 836.9L453.0 836.9L453.5 836.9L454.0 836.9L454.5 836.9L455.0 836.9L455.5 836.9L456.0 836.9L456.5 836.9L457.0 836.9L457.5 836.9L458.0 836.9L458.5 836.9L459.0 836.9L459.5 836.9L460.0 836.9L460.5 836.9L461.0 836.9L461.5 836.9L462.0 836.9L462.5 836.9L463.0 836.9L463.5 837.0L464.0 837.0L464.5 837.0L465.0 837.0L465.5 837.0L466.0 837.0L466.5 837.0L467.0 837.0L467.5 837.0L468.0 837.0L468.5 837.0L469.0 837.0L469.5 837.0L470.0 836.9L470.5 836.9L471.0 836.9L471.5 836.9L472.0 836.9L472.5 836.9L473.0 836.8L473.5 836.8L474.0 836.8L474.5 836.8L475.0 836.7L475.5 836.7L476.0 836.7L476.5 836.7L477.0 836.7L477.5 836.6L478.0 836.6L478.5 836.6L479.0 836.6L479.5 836.5L480.0 836.5L480.5 836.5L481.0 836.5L481.5 836.5L482.0 836.4L482.5 836.4L483.0 836.4L483.5 836.4L484.0 836.4L484.5 836.4L485.0 836.4L485.5 836.4L486.0 836.4L486.5 836.4L487.0 836.4L487.5 836.4L488.0 836.4L488.5 836.4L489.0 836.4L489.5 836.5L490.0 836.5L490.5 836.5L491.0 836.5L491.5 836.5L492.0 836.5L492.5 836.5L493.0 836.6L493.5 836.6L494.0 836.6L494.5 836.6L495.0 836.7L495.5 836.7L496.0 836.7L496.5 836.7L497.0 836.8L497.5 836.8L498.0 836.8L498.5 836.8L499.0 836.8L499.5 836.8L500.0 836.8L500.5 836.8L501.0 836.8L501.5 836.8L502.0 836.8L502.5 836.7L503.0 836.7L503.5 836.7L504.0 836.7L504.5 836.7L505.0 836.7L505.5 836.6L506.0 836.6L506.5 836.6L507.0 836.6L507.5 836.5L508.0 836.5L508.5 836.5L509.0 836.5L509.5 836.4L510.0 836.4L510.5 836.4L511.0 836.3L511.5 836.3L512.0 836.3L512.5 836.3L513.0 836.2L513.5 836.2L514.0 836.2L514.5 836.2L515.0 836.2L515.5 836.2L516.0 836.2L516.5 836.1L517.0 836.2L517.5 836.2L518.0 836.2L518.5 836.2L519.0 836.2L519.5 836.2L520.0 836.2L520.5 836.2L521.0 836.2L521.5 836.2L522.0 836.3L522.5 836.3L523.0 836.3L523.5 836.3L524.0 836.3L524.5 836.3L525.0 836.4L525.5 836.4L526.0 836.4L526.5 836.4L527.0 836.4L527.5 836.4L528.0 836.5L528.5 836.5L529.0 836.5L529.5 836.5L530.0 836.5L530.5 836.6L531.0 836.6L531.5 836.6L532.0 836.6L532.5 836.7L533.0 836.7L533.5 836.7L534.0 836.7L534.5 836.7L535.0 836.7L535.5 836.8L536.0 836.8L536.5 836.8L537.0 836.8L537.5 836.8L538.0 836.9L538.5 836.9L539.0 836.9L539.5 836.9L540.0 836.9L540.5 837.0L541.0 837.0L541.5 837.0L542.0 837.0L542.5 837.0L543.0 837.0L543.5 837.1L544.0 837.1L544.5 837.1L545.0 837.1L545.5 837.1L546.0 837.1L546.5 837.2L547.0 837.2L547.5 837.2L548.0 837.2L548.5 837.2L549.0 837.2L549.5 837.2L550.0 837.2L550.5 837.3L551.0 837.3L551.5 837.3L552.0 837.3L552.5 837.3L553.0 837.3L553.5 837.3L554.0 837.3L554.5 837.4L555.0 837.4L555.5 837.4L556.0 837.4L556.5 837.4L557.0 837.4L557.5 837.4L558.0 837.4L558.5 837.4L559.0 837.5L559.5 837.5L560.0 837.5L560.5 837.5L561.0 837.5L561.5 837.5L562.0 837.5L562.5 837.6L563.0 837.6L563.5 837.6L564.0 837.6L564.5 837.6L565.0 837.6L565.5 837.6L566.0 837.6L566.5 837.6L567.0 837.6L567.5 837.7L568.0 837.7L568.5 837.7L569.0 837.7L569.5 837.7L570.0 837.7L570.5 837.7L571.0 837.6L571.5 837.6L572.0 837.6L572.5 837.6L573.0 837.6L573.5 837.6L574.0 837.6L574.5 837.6L575.0 837.6L575.5 837.5L576.0 837.5L576.5 837.5L577.0 837.5L577.5 837.5L578.0 837.5L578.5 837.5L579.0 837.5L579.5 837.4L580.0 837.4L580.5 837.4L581.0 837.4L581.5 837.4L582.0 837.4L582.5 837.4L583.0 837.4L583.5 837.4L584.0 837.4L584.5 837.4L585.0 837.4L585.5 837.4L586.0 837.5L586.5 837.5L587.0 837.5L587.5 837.5L588.0 837.5L588.5 837.5L589.0 837.5L589.5 837.5L590.0 837.6L590.5 837.6L591.0 837.6L591.5 837.6L592.0 837.6L592.5 837.6L593.0 837.6L593.5 837.6L594.0 837.6L594.5 837.6L595.0 837.7L595.5 837.7L596.0 837.7L596.5 837.7L597.0 837.7L597.5 837.7L598.0 837.6L598.5 837.6L599.0 837.6L599.5 837.6L600.0 837.6L600.5 837.6L601.0 837.6L601.5 837.6L602.0 837.5L602.5 837.5L603.0 837.5L603.5 837.5L604.0 837.5L604.5 837.4L605.0 837.4L605.5 837.4L606.0 837.4L606.5 837.4L607.0 837.4L607.5 837.4L608.0 837.3L608.5 837.3L609.0 837.3L609.5 837.3L610.0 837.3L610.5 837.3L611.0 837.3L611.5 837.3L612.0 837.3L612.5 837.4L613.0 837.4L613.5 837.4L614.0 837.4L614.5 837.4L615.0 837.4L615.5 837.4L616.0 837.5L616.5 837.5L617.0 837.5L617.5 837.5L618.0 837.5L618.5 837.5L619.0 837.6L619.5 837.6L620.0 837.6L620.5 837.6L621.0 837.6L621.5 837.6L622.0 837.6L622.5 837.6L623.0 837.6L623.5 837.6L624.0 837.6L624.5 837.6L625.0 837.6L625.5 837.6L626.0 837.6L626.5 837.6L627.0 837.6L627.5 837.6L628.0 837.6L628.5 837.6L629.0 837.6L629.5 837.6L630.0 837.6L630.5 837.6L631.0 837.6L631.5 837.6L632.0 837.6L632.5 837.6L633.0 837.6L633.5 837.6L634.0 837.6L634.5 837.6L635.0 837.6L635.5 837.6L636.0 837.6L636.5 837.6L637.0 837.6L637.5 837.6L638.0 837.7L638.5 837.7L639.0 837.7L639.5 837.7L640.0 837.7L640.5 837.7L641.0 837.7L641.5 837.7L642.0 837.7L642.5 837.8L643.0 837.8L643.5 837.8L644.0 837.8L644.5 837.8L645.0 837.8L645.5 837.8L646.0 837.8L646.5 837.9L647.0 837.9L647.5 837.9L648.0 837.9L648.5 837.9L649.0 837.9L649.5 837.9L650.0 837.9L650.5 837.9L651.0 837.9L651.5 837.9L652.0 837.9L652.5 837.9L653.0 837.9L653.5 837.9L654.0 837.9L654.5 838.0L655.0 838.0L655.5 838.0L656.0 838.0L656.5 838.0L657.0 838.0L657.5 838.0L658.0 838.0L658.5 838.0L659.0 838.1L659.5 838.1L660.0 838.1L660.5 838.1L661.0 838.1L661.5 838.2L662.0 838.2L662.5 838.2L663.0 838.2L663.5 838.3L664.0 838.3L664.5 838.3L665.0 838.3L665.5 838.4L666.0 838.4L666.5 838.4L667.0 838.4L667.5 838.4L668.0 838.5L668.5 838.5L669.0 838.5L669.5 838.5L670.0 838.5L670.5 838.5L671.0 838.5L671.5 838.5L672.0 838.5L672.5 838.5L673.0 838.5L673.5 838.5L674.0 838.5L674.5 838.5L675.0 838.5L675.5 838.4L676.0 838.4L676.5 838.4L677.0 838.4L677.5 838.4L678.0 838.4L678.5 838.4L679.0 838.4L679.5 838.4L680.0 838.4L680.5 838.4L681.0 838.4L681.5 838.4L682.0 838.4L682.5 838.4L683.0 838.4L683.5 838.4L684.0 838.4L684.5 838.3L685.0 838.3L685.5 838.3L686.0 838.3L686.5 838.3L687.0 838.3L687.5 838.3L688.0 838.3L688.5 838.3L689.0 838.3L689.5 838.3L690.0 838.3L690.5 838.3L691.0 838.3L691.5 838.3L692.0 838.3L692.5 838.3L693.0 838.4L693.5 838.4L694.0 838.4L694.5 838.4L695.0 838.4L695.5 838.4L696.0 838.4L696.5 838.4L697.0 838.4L697.5 838.4L698.0 838.4L698.5 838.4L699.0 838.4L699.5 838.4L700.0 838.4L700.5 838.4L701.0 838.4L701.5 838.4L702.0 838.4L702.5 838.4L703.0 838.4L703.5 838.4L704.0 838.4L704.5 838.4L705.0 838.4L705.5 838.4L706.0 838.4L706.5 838.4L707.0 838.4L707.5 838.4L708.0 838.4L708.5 838.4L709.0 838.4L709.5 838.4L710.0 838.4L710.5 838.4L711.0 838.4L711.5 838.4L712.0 838.4L712.5 838.4L713.0 838.4L713.5 838.4L714.0 838.4L714.5 838.4L715.0 838.4L715.5 838.4L716.0 838.4L716.5 838.4L717.0 838.4L717.5 838.4L718.0 838.4L718.5 838.4L719.0 838.4L719.5 838.4L720.0 838.4L720.5 838.4L721.0 838.3L721.5 838.3L722.0 838.3L722.5 838.3L723.0 838.3L723.5 838.3L724.0 838.3L724.5 838.2L725.0 838.2L725.5 838.2L726.0 838.2L726.5 838.2L727.0 838.1L727.5 838.1L728.0 838.1L728.5 838.1L729.0 838.1L729.5 838.1L730.0 838.0L730.5 838.0L731.0 838.0L731.5 838.0L732.0 838.0L732.5 838.0L733.0 838.0L733.5 837.9L734.0 837.9L734.5 837.9L735.0 837.9L735.5 837.9L736.0 837.9L736.5 837.9L737.0 837.9L737.5 837.8L738.0 837.8L738.5 837.8L739.0 837.8L739.5 837.8L740.0 837.8L740.5 837.8L741.0 837.8L741.5 837.8L742.0 837.8L742.5 837.8L743.0 837.7L743.5 837.7L744.0 837.7L744.5 837.7L745.0 837.7L745.5 837.7L746.0 837.7L746.5 837.7L747.0 837.7L747.5 837.7L748.0 837.7L748.5 837.7L749.0 837.7L749.5 837.7L750.0 837.7L750.5 837.7L751.0 837.7L751.5 837.7L752.0 837.7L752.5 837.7L753.0 837.6L753.5 837.6L754.0 837.6L754.5 837.6L755.0 837.6L755.5 837.6L756.0 837.6L756.5 837.6L757.0 837.6L757.5 837.6L758.0 837.6L758.5 837.5L759.0 837.5L759.5 837.5L760.0 837.5L760.5 837.5L761.0 837.5L761.5 837.4L762.0 837.4L762.5 837.4L763.0 837.4L763.5 837.4L764.0 837.3L764.5 837.3L765.0 837.3L765.5 837.3L766.0 837.3L766.5 837.2L767.0 837.2L767.5 837.2L768.0 837.2L768.5 837.2L769.0 837.2L769.5 837.1L770.0 837.1L770.5 837.1L771.0 837.1L771.5 837.1L772.0 837.0L772.5 837.0L773.0 837.0L773.5 837.0L774.0 837.0L774.5 837.0L775.0 836.9L775.5 836.9L776.0 836.9L776.5 836.9L777.0 836.9L777.5 836.9L778.0 836.9L778.5 836.9L779.0 836.9L779.5 836.9L780.0 836.9L780.5 836.9L781.0 836.9L781.5 836.9L782.0 837.0L782.5 837.0L783.0 837.0L783.5 837.0L784.0 837.0L784.5 837.0L785.0 837.1L785.5 837.1L786.0 837.1L786.5 837.1L787.0 837.1L787.5 837.1L788.0 837.1L788.5 837.2L789.0 837.2L789.5 837.2L790.0 837.2L790.5 837.2L791.0 837.2L791.5 837.2L792.0 837.3L792.5 837.3L793.0 837.3L793.5 837.3L794.0 837.3L794.5 837.3L795.0 837.3L795.5 837.3L796.0 837.4L796.5 837.4L797.0 837.4L797.5 837.4L798.0 837.3L798.5 837.3L799.0 837.3L799.5 837.3L800.0 837.3L800.5 837.3L801.0 837.3L801.5 837.3L802.0 837.3L802.5 837.3L803.0 837.3L803.5 837.3L804.0 837.3L804.5 837.3L805.0 837.3L805.5 837.3L806.0 837.3L806.5 837.3L807.0 837.3L807.5 837.3L808.0 837.4L808.5 837.4L809.0 837.4L809.5 837.4L810.0 837.4L810.5 837.4L811.0 837.4L811.5 837.4L812.0 837.5L812.5 837.5L813.0 837.5L813.5 837.5L814.0 837.5L814.5 837.5L815.0 837.5L815.5 837.5L816.0 837.5L816.5 837.5L817.0 837.5L817.5 837.5L818.0 837.5L818.5 837.5L819.0 837.5L819.5 837.5L820.0 837.5L820.5 837.5L821.0 837.5L821.5 837.5L822.0 837.5L822.5 837.5L823.0 837.5L823.5 837.5L824.0 837.5L824.5 837.5L825.0 837.5L825.5 837.5L826.0 837.5L826.5 837.6L827.0 837.6L827.5 837.6L828.0 837.6L828.5 837.6L829.0 837.6L829.5 837.6L830.0 837.6L830.5 837.6L831.0 837.6L831.5 837.6L832.0 837.6L832.5 837.6L833.0 837.6L833.5 837.6L834.0 837.7L834.5 837.7L835.0 837.7L835.5 837.7L836.0 837.7L836.5 837.7L837.0 837.7L837.5 837.7L838.0 837.7L838.5 837.7L839.0 837.7L839.5 837.7L840.0 837.7L840.5 837.7L841.0 837.7L841.5 837.7L842.0 837.7L842.5 837.6L843.0 837.6L843.5 837.6L844.0 837.6L844.5 837.6L845.0 837.6L845.5 837.6L846.0 837.6L846.5 837.6L847.0 837.6L847.5 837.6L848.0 837.6L848.5 837.6L849.0 837.6L849.5 837.6L850.0 837.6L850.5 837.6L851.0 837.6L851.5 837.6L852.0 837.6L852.5 837.6L853.0 837.7L853.5 837.7L854.0 837.7L854.5 837.7L855.0 837.7L855.5 837.7L856.0 837.8L856.5 837.8L857.0 837.8L857.5 837.8L858.0 837.8L858.5 837.8L859.0 837.9L859.5 837.9L860.0 837.9L860.5 837.9L861.0 837.9L861.5 837.9L862.0 837.9L862.5 837.9L863.0 838.0L863.5 838.0L864.0 838.0L864.5 838.0L865.0 838.0L865.5 838.0L866.0 838.0L866.5 838.0L867.0 838.0L867.5 838.0L868.0 838.0L868.5 838.0L869.0 838.0L869.5 838.0L870.0 838.0L870.5 838.0L871.0 837.9L871.5 837.9L872.0 837.9L872.5 837.9L873.0 837.9L873.5 837.9L874.0 837.9L874.5 837.9L875.0 837.9L875.5 837.9L876.0 837.9L876.5 837.9L877.0 837.9L877.5 837.8L878.0 837.8L878.5 837.8L879.0 837.8L879.5 837.8L880.0 837.8L880.5 837.8L881.0 837.8L881.5 837.8L882.0 837.8L882.5 837.8L883.0 837.8L883.5 837.8L884.0 837.8L884.5 837.8L885.0 837.7L885.5 837.7L886.0 837.7L886.5 837.7L887.0 837.7L887.5 837.7L888.0 837.7L888.5 837.7L889.0 837.7L889.5 837.7L890.0 837.7L890.5 837.7L891.0 837.6L891.5 837.6L892.0 837.6L892.5 837.6L893.0 837.6L893.5 837.6L894.0 837.6L894.5 837.6L895.0 837.6L895.5 837.5L896.0 837.5L896.5 837.5L897.0 837.5L897.5 837.5L898.0 837.5L898.5 837.5L899.0 837.4L899.5 837.4L900.0 837.4L900.5 837.4L901.0 837.4L901.5 837.3L902.0 837.3L902.5 837.3L903.0 837.3L903.5 837.2L904.0 837.2L904.5 837.2L905.0 837.2L905.5 837.2L906.0 837.1L906.5 837.1L907.0 837.1L907.5 837.1L908.0 837.1L908.5 837.1L909.0 837.1L909.5 837.1L910.0 837.2L910.5 837.2L911.0 837.2L911.5 837.2L912.0 837.2L912.5 837.2L913.0 837.3L913.5 837.3L914.0 837.3L914.5 837.3L915.0 837.3L915.5 837.4L916.0 837.4L916.5 837.4L917.0 837.4L917.5 837.5L918.0 837.5L918.5 837.5L919.0 837.6L919.5 837.6L920.0 837.6L920.5 837.6L921.0 837.7L921.5 837.7L922.0 837.7L922.5 837.7L923.0 837.7L923.5 837.7L924.0 837.7L924.5 837.7L925.0 837.6L925.5 837.6L926.0 837.6L926.5 837.6L927.0 837.6L927.5 837.5L928.0 837.5L928.5 837.5L929.0 837.5L929.5 837.4L930.0 837.4L930.5 837.4L931.0 837.3L931.5 837.3L932.0 837.3L932.5 837.2L933.0 837.2L933.5 837.2L934.0 837.1L934.5 837.1L935.0 837.0L935.5 837.0L936.0 837.0L936.5 837.0L937.0 836.9L937.5 836.9L938.0 836.9L938.5 836.9L939.0 836.9L939.5 836.8L940.0 836.8L940.5 836.8L941.0 836.8L941.5 836.8L942.0 836.7L942.5 836.7L943.0 836.7L943.5 836.7L944.0 836.7L944.5 836.7L945.0 836.7L945.5 836.7L946.0 836.7L946.5 836.7L947.0 836.7L947.5 836.7L948.0 836.7L948.5 836.7L949.0 836.7L949.5 836.7L950.0 836.7L950.5 836.7L951.0 836.7L951.5 836.7L952.0 836.8L952.5 836.8L953.0 836.8L953.5 836.8L954.0 836.8L954.5 836.8L955.0 836.8L955.5 836.8L956.0 836.9L956.5 836.9L957.0 836.9L957.5 836.9L958.0 836.9L958.5 836.9L959.0 837.0L959.5 837.0L960.0 837.0L960.5 837.0L961.0 837.0L961.5 837.0L962.0 837.1L962.5 837.1L963.0 837.1L963.5 837.1L964.0 837.1L964.5 837.1L965.0 837.1L965.5 837.1L966.0 837.1L966.5 837.1L967.0 837.1L967.5 837.1L968.0 837.1L968.5 837.1L969.0 837.1L969.5 837.1L970.0 837.0L970.5 837.0L971.0 837.0L971.5 837.0L972.0 837.0L972.5 837.0L973.0 837.0L973.5 837.0L974.0 837.0L974.5 837.0L975.0 837.0L975.5 837.0L976.0 837.0L976.5 837.0L977.0 837.0L977.5 837.0L978.0 836.9L978.5 836.9L979.0 836.9L979.5 836.9L980.0 836.9L980.5 836.9L981.0 836.9L981.5 836.9L982.0 836.9L982.5 836.9L983.0 836.8L983.5 836.8L984.0 836.8L984.5 836.8L985.0 836.8L985.5 836.8L986.0 836.8L986.5 836.8L987.0 836.8L987.5 836.8L988.0 836.8L988.5 836.8L989.0 836.8L989.5 836.8L990.0 836.8L990.5 836.8L991.0 836.8L991.5 836.8L992.0 836.8L992.5 836.8L993.0 836.8L993.5 836.8L994.0 836.8L994.5 836.8L995.0 836.8L995.5 836.8L996.0 836.8L996.5 836.8L997.0 836.8L997.5 836.9L998.0 836.9L998.5 836.9L999.0 836.9L999.5 836.9L1000.0 836.9L1000.5 836.9L1001.0 836.9L1001.5 836.9L1002.0 836.9L1002.5 836.9L1003.0 836.9L1003.5 836.9L1004.0 836.9L1004.5 836.8L1005.0 836.8L1005.5 836.8L1006.0 836.8L1006.5 836.8L1007.0 836.8L1007.5 836.8L1008.0 836.8L1008.5 836.8L1009.0 836.8L1009.5 836.8L1010.0 836.8L1010.5 836.8L1011.0 836.8L1011.5 836.8L1012.0 836.8L1012.5 836.8L1013.0 836.8L1013.5 836.9L1014.0 836.9L1014.5 836.9L1015.0 836.9L1015.5 836.9L1016.0 836.9L1016.5 836.9L1017.0 836.9L1017.5 836.9L1018.0 836.9L1018.5 836.9L1019.0 837.0L1019.5 837.0L1020.0 837.0L1020.5 837.0L1021.0 837.0L1021.5 837.0L1022.0 837.0L1022.5 837.0L1023.0 837.0L1023.5 837.0L1024.0 837.0L1024.5 837.0L1025.0 837.0L1025.5 837.0L1026.0 836.9L1026.5 836.9L1027.0 836.9L1027.5 836.9L1028.0 836.9L1028.5 836.9L1029.0 836.9L1029.5 836.9L1030.0 836.9L1030.5 836.8L1031.0 836.8L1031.5 836.8L1032.0 836.8L1032.5 836.8L1033.0 836.8L1033.5 836.8L1034.0 836.8L1034.5 836.8L1035.0 836.8L1035.5 836.7L1036.0 836.7L1036.5 836.7L1037.0 836.7L1037.5 836.7L1038.0 836.7L1038.5 836.7L1039.0 836.7L1039.5 836.7L1040.0 836.7L1040.5 836.7L1041.0 836.6L1041.5 836.6L1042.0 836.6L1042.5 836.6L1043.0 836.6L1043.5 836.7L1044.0 836.7L1044.5 836.7L1045.0 836.7L1045.5 836.7L1046.0 836.7L1046.5 836.7L1047.0 836.7L1047.5 836.7L1048.0 836.7L1048.5 836.7L1049.0 836.8L1049.5 836.8L1050.0 836.8L1050.5 836.8L1051.0 836.8L1051.5 836.8L1052.0 836.9L1052.5 836.9L1053.0 836.9L1053.5 836.9L1054.0 836.9L1054.5 836.9L1055.0 836.9L1055.5 836.9L1056.0 836.9L1056.5 836.9L1057.0 836.9L1057.5 837.0L1058.0 837.0L1058.5 837.0L1059.0 837.0L1059.5 837.0L1060.0 837.0L1060.5 836.9L1061.0 836.9L1061.5 836.9L1062.0 836.9L1062.5 836.9L1063.0 836.9L1063.5 836.9L1064.0 836.8L1064.5 836.8L1065.0 836.8L1065.5 836.8L1066.0 836.8L1066.5 836.8L1067.0 836.8L1067.5 836.7L1068.0 836.7L1068.5 836.7L1069.0 836.7L1069.5 836.6L1070.0 836.6L1070.5 836.6L1071.0 836.6L1071.5 836.5L1072.0 836.5L1072.5 836.5L1073.0 836.5L1073.5 836.4L1074.0 836.4L1074.5 836.3L1075.0 836.3L1075.5 836.3L1076.0 836.2L1076.5 836.2L1077.0 836.1L1077.5 836.0L1078.0 835.9L1078.5 835.9L1079.0 835.8L1079.5 835.7L1080.0 835.6L1080.5 835.6L1081.0 835.5L1081.5 835.4L1082.0 835.3L1082.5 835.2L1083.0 835.1L1083.5 834.9L1084.0 834.8L1084.5 834.6L1085.0 834.4L1085.5 834.2L1086.0 834.0L1086.5 833.8L1087.0 833.5L1087.5 833.3L1088.0 833.0L1088.5 832.7L1089.0 832.3L1089.5 831.9L1090.0 831.5L1090.5 831.1L1091.0 830.6L1091.5 830.1L1092.0 829.6L1092.5 829.0L1093.0 828.4L1093.5 827.8L1094.0 827.1L1094.5 826.4L1095.0 825.6L1095.5 824.8L1096.0 823.9L1096.5 823.1L1097.0 822.1L1097.5 821.2L1098.0 820.2L1098.5 819.1L1099.0 818.0L1099.5 816.9L1100.0 815.8L1100.5 814.6L1101.0 813.4L1101.5 812.1L1102.0 810.8L1102.5 809.5L1103.0 808.2L1103.5 806.9L1104.0 805.5L1104.5 804.1L1105.0 802.8L1105.5 801.4L1106.0 800.0L1106.5 798.7L1107.0 797.3L1107.5 796.0L1108.0 794.7L1108.5 793.4L1109.0 792.2L1109.5 790.9L1110.0 789.8L1110.5 788.6L1111.0 787.6L1111.5 786.6L1112.0 785.6L1112.5 784.7L1113.0 783.9L1113.5 783.2L1114.0 782.5L1114.5 781.9L1115.0 781.4L1115.5 781.0L1116.0 780.7L1116.5 780.4L1117.0 780.3L1117.5 780.2L1118.0 780.2L1118.5 780.3L1119.0 780.6L1119.5 780.9L1120.0 781.2L1120.5 781.7L1121.0 782.3L1121.5 782.9L1122.0 783.6L1122.5 784.4L1123.0 785.3L1123.5 786.2L1124.0 787.2L1124.5 788.2L1125.0 789.3L1125.5 790.5L1126.0 791.7L1126.5 792.9L1127.0 794.2L1127.5 795.5L1128.0 796.8L1128.5 798.1L1129.0 799.5L1129.5 800.9L1130.0 802.2L1130.5 803.6L1131.0 805.0L1131.5 806.4L1132.0 807.7L1132.5 809.0L1133.0 810.4L1133.5 811.6L1134.0 812.9L1134.5 814.1L1135.0 815.4L1135.5 816.5L1136.0 817.7L1136.5 818.8L1137.0 819.8L1137.5 820.9L1138.0 821.9L1138.5 822.8L1139.0 823.7L1139.5 824.6L1140.0 825.4L1140.5 826.2L1141.0 826.9L1141.5 827.6L1142.0 828.3L1142.5 828.9L1143.0 829.5L1143.5 830.1L1144.0 830.6L1144.5 831.1L1145.0 831.5L1145.5 832.0L1146.0 832.3L1146.5 832.7L1147.0 833.1L1147.5 833.4L1148.0 833.7L1148.5 833.9L1149.0 834.2L1149.5 834.4L1150.0 834.6L1150.5 834.8L1151.0 835.0L1151.5 835.1L1152.0 835.3L1152.5 835.4L1153.0 835.5L1153.5 835.6L1154.0 835.7L1154.5 835.8L1155.0 835.9L1155.5 836.0L1156.0 836.2L1156.5 836.3L1157.0 836.4L1157.5 836.5L1158.0 836.6L1158.5 836.7L1159.0 836.7L1159.5 836.8L1160.0 836.8L1160.5 836.8L1161.0 836.7L1161.5 836.7L1162.0 836.7L1162.5 836.7L1163.0 836.7L1163.5 836.6L1164.0 836.6L1164.5 836.5L1165.0 836.5L1165.5 836.4L1166.0 836.4L1166.5 836.3L1167.0 836.3L1167.5 836.2L1168.0 836.2L1168.5 836.2L1169.0 836.1L1169.5 836.1L1170.0 836.0L1170.5 836.0L1171.0 836.0L1171.5 836.0L1172.0 835.9L1172.5 835.9L1173.0 835.9L1173.5 835.9L1174.0 835.9L1174.5 836.0L1175.0 836.0L1175.5 836.0L1176.0 836.0L1176.5 836.1L1177.0 836.1L1177.5 836.1L1178.0 836.2L1178.5 836.2L1179.0 836.2L1179.5 836.3L1180.0 836.3L1180.5 836.3L1181.0 836.4L1181.5 836.4L1182.0 836.4L1182.5 836.5L1183.0 836.5L1183.5 836.5L1184.0 836.5L1184.5 836.6L1185.0 836.6L1185.5 836.6L1186.0 836.6L1186.5 836.7L1187.0 836.7L1187.5 836.7L1188.0 836.7L1188.5 836.7L1189.0 836.7L1189.5 836.7L1190.0 836.7L1190.5 836.8L1191.0 836.8L1191.5 836.8L1192.0 836.8L1192.5 836.8L1193.0 836.8L1193.5 836.8L1194.0 836.8L1194.5 836.8L1195.0 836.8L1195.5 836.8L1196.0 836.8L1196.5 836.8L1197.0 836.8L1197.5 836.8L1198.0 836.7L1198.5 836.7L1199.0 836.7L1199.5 836.7L1200.0 836.6L1200.5 836.6L1201.0 836.6L1201.5 836.6L1202.0 836.5L1202.5 836.5L1203.0 836.5L1203.5 836.4L1204.0 836.4L1204.5 836.3L1205.0 836.3L1205.5 836.2L1206.0 836.2L1206.5 836.2L1207.0 836.1L1207.5 836.1L1208.0 836.1L1208.5 836.0L1209.0 836.0L1209.5 836.0L1210.0 835.9L1210.5 835.9L1211.0 835.9L1211.5 835.8L1212.0 835.8L1212.5 835.8L1213.0 835.8L1213.5 835.8L1214.0 835.8L1214.5 835.8L1215.0 835.8L1215.5 835.8L1216.0 835.8L1216.5 835.8L1217.0 835.8L1217.5 835.8L1218.0 835.8L1218.5 835.8L1219.0 835.8L1219.5 835.8L1220.0 835.8L1220.5 835.8L1221.0 835.8L1221.5 835.9L1222.0 835.9L1222.5 835.9L1223.0 835.9L1223.5 835.9L1224.0 835.9L1224.5 835.9L1225.0 835.9L1225.5 835.9L1226.0 836.0L1226.5 836.0L1227.0 836.0L1227.5 836.0L1228.0 836.0L1228.5 836.0L1229.0 836.0L1229.5 836.0L1230.0 836.0L1230.5 836.0L1231.0 836.1L1231.5 836.1L1232.0 836.1L1232.5 836.1L1233.0 836.1L1233.5 836.1L1234.0 836.1L1234.5 836.1L1235.0 836.1L1235.5 836.1L1236.0 836.1L1236.5 836.1L1237.0 836.1L1237.5 836.1L1238.0 836.1L1238.5 836.0L1239.0 836.0L1239.5 836.0L1240.0 836.0L1240.5 836.0L1241.0 836.0L1241.5 836.0L1242.0 835.9L1242.5 835.9L1243.0 835.9L1243.5 835.9L1244.0 835.9L1244.5 835.9L1245.0 835.8L1245.5 835.8L1246.0 835.8L1246.5 835.8L1247.0 835.8L1247.5 835.8L1248.0 835.8L1248.5 835.7L1249.0 835.7L1249.5 835.7L1250.0 835.7L1250.5 835.7L1251.0 835.6L1251.5 835.6L1252.0 835.5L1252.5 835.4L1253.0 835.4L1253.5 835.3L1254.0 835.3L1254.5 835.3L1255.0 835.3L1255.5 835.2L1256.0 835.2L1256.5 835.2L1257.0 835.2L1257.5 835.1L1258.0 835.1L1258.5 835.1L1259.0 835.1L1259.5 835.1L1260.0 835.1L1260.5 835.1L1261.0 835.1L1261.5 835.1L1262.0 835.1L1262.5 835.1L1263.0 835.2L1263.5 835.2L1264.0 835.2L1264.5 835.2L1265.0 835.2L1265.5 835.2L1266.0 835.2L1266.5 835.3L1267.0 835.3L1267.5 835.3L1268.0 835.4L1268.5 835.4L1269.0 835.4L1269.5 835.5L1270.0 835.5L1270.5 835.5L1271.0 835.6L1271.5 835.6L1272.0 835.6L1272.5 835.6L1273.0 835.6L1273.5 835.5L1274.0 835.5L1274.5 835.5L1275.0 835.4L1275.5 835.4L1276.0 835.4L1276.5 835.3L1277.0 835.3L1277.5 835.3L1278.0 835.2L1278.5 835.2L1279.0 835.2L1279.5 835.2L1280.0 835.1L1280.5 835.1L1281.0 835.1L1281.5 835.1L1282.0 835.0L1282.5 835.0L1283.0 835.0L1283.5 835.0L1284.0 834.9L1284.5 834.9L1285.0 834.9L1285.5 834.9L1286.0 834.9L1286.5 834.9L1287.0 834.9L1287.5 834.9L1288.0 835.0L1288.5 835.0L1289.0 835.0L1289.5 835.0L1290.0 835.0L1290.5 835.0L1291.0 835.0L1291.5 835.0L1292.0 835.1L1292.5 835.1L1293.0 835.1L1293.5 835.1L1294.0 835.1L1294.5 835.1L1295.0 835.1L1295.5 835.1L1296.0 835.2L1296.5 835.2L1297.0 835.2L1297.5 835.2L1298.0 835.2L1298.5 835.2L1299.0 835.2L1299.5 835.2L1300.0 835.2L1300.5 835.2L1301.0 835.2L1301.5 835.2L1302.0 835.2L1302.5 835.1L1303.0 835.1L1303.5 835.1L1304.0 835.1L1304.5 835.1L1305.0 835.1L1305.5 835.1L1306.0 835.1L1306.5 835.1L1307.0 835.1L1307.5 835.1L1308.0 835.1L1308.5 835.1L1309.0 835.1L1309.5 835.1L1310.0 835.1L1310.5 835.2L1311.0 835.2L1311.5 835.2L1312.0 835.2L1312.5 835.2L1313.0 835.2L1313.5 835.2L1314.0 835.3L1314.5 835.3L1315.0 835.3L1315.5 835.4L1316.0 835.4L1316.5 835.5L1317.0 835.5L1317.5 835.5L1318.0 835.5L1318.5 835.6L1319.0 835.6L1319.5 835.6L1320.0 835.6L1320.5 835.6L1321.0 835.6L1321.5 835.7L1322.0 835.7L1322.5 835.7L1323.0 835.7L1323.5 835.7L1324.0 835.7L1324.5 835.7L1325.0 835.7L1325.5 835.7L1326.0 835.7L1326.5 835.7L1327.0 835.7L1327.5 835.7L1328.0 835.7L1328.5 835.7L1329.0 835.7L1329.5 835.6L1330.0 835.6L1330.5 835.6L1331.0 835.6L1331.5 835.6L1332.0 835.6L1332.5 835.6L1333.0 835.6L1333.5 835.5L1334.0 835.5L1334.5 835.5L1335.0 835.5L1335.5 835.5L1336.0 835.5L1336.5 835.5L1337.0 835.5L1337.5 835.4L1338.0 835.4L1338.5 835.4L1339.0 835.4L1339.5 835.4L1340.0 835.4L1340.5 835.4L1341.0 835.4L1341.5 835.4L1342.0 835.4L1342.5 835.4L1343.0 835.4L1343.5 835.4L1344.0 835.4L1344.5 835.4L1345.0 835.4L1345.5 835.4L1346.0 835.4L1346.5 835.4L1347.0 835.4L1347.5 835.4L1348.0 835.4L1348.5 835.4L1349.0 835.4L1349.5 835.4L1350.0 835.4L1350.5 835.4L1351.0 835.4L1351.5 835.4L1352.0 835.4L1352.5 835.4L1353.0 835.4L1353.5 835.4L1354.0 835.4L1354.5 835.4L1355.0 835.4L1355.5 835.5L1356.0 835.5L1356.5 835.5L1357.0 835.5L1357.5 835.5L1358.0 835.5L1358.5 835.5L1359.0 835.5L1359.5 835.5L1360.0 835.5L1360.5 835.5L1361.0 835.5L1361.5 835.5L1362.0 835.5L1362.5 835.5L1363.0 835.5L1363.5 835.5L1364.0 835.5L1364.5 835.5L1365.0 835.5L1365.5 835.5L1366.0 835.5L1366.5 835.5L1367.0 835.5L1367.5 835.5L1368.0 835.5L1368.5 835.5L1369.0 835.5L1369.5 835.6L1370.0 835.6L1370.5 835.6L1371.0 835.6L1371.5 835.6L1372.0 835.6L1372.5 835.6L1373.0 835.6L1373.5 835.6L1374.0 835.6L1374.5 835.6L1375.0 835.6L1375.5 835.6L1376.0 835.6L1376.5 835.6L1377.0 835.6L1377.5 835.6L1378.0 835.6L1378.5 835.6L1379.0 835.6L1379.5 835.6L1380.0 835.6L1380.5 835.6L1381.0 835.6L1381.5 835.6L1382.0 835.6L1382.5 835.6L1383.0 835.6L1383.5 835.6L1384.0 835.6L1384.5 835.6L1385.0 835.6L1385.5 835.6L1386.0 835.6L1386.5 835.6L1387.0 835.6L1387.5 835.6L1388.0 835.6L1388.5 835.6L1389.0 835.6L1389.5 835.6L1390.0 835.6L1390.5 835.6L1391.0 835.6L1391.5 835.6L1392.0 835.6L1392.5 835.6L1393.0 835.6L1393.5 835.6L1394.0 835.6L1394.5 835.6L1395.0 835.6L1395.5 835.6L1396.0 835.6L1396.5 835.7L1397.0 835.7L1397.5 835.7L1398.0 835.7L1398.5 835.7L1399.0 835.7L1399.5 835.7L1400.0 835.7L1400.5 835.7L1401.0 835.7L1401.5 835.7L1402.0 835.7L1402.5 835.7L1403.0 835.7L1403.5 835.7L1404.0 835.7L1404.5 835.7L1405.0 835.7L1405.5 835.7L1406.0 835.8L1406.5 835.8L1407.0 835.8L1407.5 835.8L1408.0 835.8L1408.5 835.8L1409.0 835.8L1409.5 835.8L1410.0 835.8L1410.5 835.8L1411.0 835.8L1411.5 835.8L1412.0 835.8L1412.5 835.8L1413.0 835.8L1413.5 835.8L1414.0 835.8L1414.5 835.8L1415.0 835.8L1415.5 835.8L1416.0 835.8L1416.5 835.8L1417.0 835.8L1417.5 835.8L1418.0 835.8L1418.5 835.8L1419.0 835.8L1419.5 835.8L1420.0 835.8L1420.5 835.8L1421.0 835.8L1421.5 835.8L1422.0 835.8L1422.5 835.8L1423.0 835.9L1423.5 835.9L1424.0 835.9L1424.5 835.9L1425.0 835.9L1425.5 835.9L1426.0 835.9L1426.5 835.9L1427.0 835.9L1427.5 835.9L1428.0 836.0L1428.5 836.0L1429.0 836.0L1429.5 836.0L1430.0 836.0L1430.5 836.0L1431.0 836.0L1431.5 836.0L1432.0 836.1L1432.5 836.1L1433.0 836.1L1433.5 836.1L1434.0 836.1L1434.5 836.1L1435.0 836.2L1435.5 836.2L1436.0 836.2L1436.5 836.2L1437.0 836.2L1437.5 836.2L1438.0 836.3L1438.5 836.3L1439.0 836.3L1439.5 836.3L1440.0 836.3L1440.5 836.3L1441.0 836.4L1441.5 836.4L1442.0 836.4L1442.5 836.4L1443.0 836.4L1443.5 836.4L1444.0 836.4L1444.5 836.4L1445.0 836.4L1445.5 836.4L1446.0 836.4L1446.5 836.4L1447.0 836.4L1447.5 836.4L1448.0 836.4L1448.5 836.4L1449.0 836.4L1449.5 836.4L1450.0 836.4L1450.5 836.4L1451.0 836.3L1451.5 836.3L1452.0 836.3L1452.5 836.3L1453.0 836.3L1453.5 836.3L1454.0 836.3L1454.5 836.3L1455.0 836.2L1455.5 836.2L1456.0 836.2L1456.5 836.2L1457.0 836.2L1457.5 836.2L1458.0 836.2L1458.5 836.2L1459.0 836.2L1459.5 836.2L1460.0 836.2L1460.5 836.2L1461.0 836.3L1461.5 836.3L1462.0 836.3L1462.5 836.3L1463.0 836.3L1463.5 836.3L1464.0 836.3L1464.5 836.3L1465.0 836.4L1465.5 836.4L1466.0 836.4L1466.5 836.4L1467.0 836.4L1467.5 836.4L1468.0 836.5L1468.5 836.5L1469.0 836.5L1469.5 836.5L1470.0 836.5L1470.5 836.6L1471.0 836.6L1471.5 836.6L1472.0 836.6L1472.5 836.6L1473.0 836.7L1473.5 836.7L1474.0 836.7L1474.5 836.7L1475.0 836.8L1475.5 836.8L1476.0 836.8L1476.5 836.8L1477.0 836.9L1477.5 836.9L1478.0 836.9L1478.5 836.9L1479.0 837.0L1479.5 837.0L1480.0 837.0L1480.5 837.0L1481.0 837.1L1481.5 837.1L1482.0 837.1L1482.5 837.2L1483.0 837.2L1483.5 837.2L1484.0 837.2L1484.5 837.3L1485.0 837.3L1485.5 837.4L1486.0 837.4L1486.5 837.4L1487.0 837.5L1487.5 837.5L1488.0 837.5L1488.5 837.6L1489.0 837.6L1489.5 837.7L1490.0 837.7L1490.5 837.7L1491.0 837.7L1491.5 837.8L1492.0 837.8L1492.5 837.8L1493.0 837.8L1493.5 837.8L1494.0 837.8L1494.5 837.8L1495.0 837.9L1495.5 837.9L1496.0 837.9L1496.5 837.9L1497.0 837.9L1497.5 837.9L1498.0 837.9L1498.5 837.9L1499.0 837.9L1499.5 837.9L1500.0 837.9L1500.5 838.0L1501.0 838.0L1501.5 838.0L1502.0 838.0L1502.5 838.0L1503.0 838.0L1503.5 838.0L1504.0 838.0L1504.5 838.0L1505.0 838.1L1505.5 838.1L1506.0 838.1L1506.5 838.1L1507.0 838.1L1507.5 838.1L1508.0 838.2L1508.5 838.2L1509.0 838.2L1509.5 838.2L1510.0 838.2L1510.5 838.3L1511.0 838.3L1511.5 838.3L1512.0 838.3L1512.5 838.3L1513.0 838.3L1513.5 838.3L1514.0 838.3L1514.5 838.3L1515.0 838.3L1515.5 838.3L1516.0 838.3L1516.5 838.3L1517.0 838.3L1517.5 838.3L1518.0 838.3L1518.5 838.3L1519.0 838.2L1519.5 838.2L1520.0 838.2L1520.5 838.2L1521.0 838.2L1521.5 838.2L1522.0 838.2L1522.5 838.2L1523.0 838.2L1523.5 838.2L1524.0 838.2L1524.5 838.2L1525.0 838.2L1525.5 838.2L1526.0 838.2L1526.5 838.2L1527.0 838.3L1527.5 838.3L1528.0 838.3L1528.5 838.3L1529.0 838.3L1529.5 838.4L1530.0 838.4L1530.5 838.4L1531.0 838.4L1531.5 838.4L1532.0 838.5L1532.5 838.5L1533.0 838.5L1533.5 838.5L1534.0 838.5L1534.5 838.5L1535.0 838.5L1535.5 838.5L1536.0 838.5L1536.5 838.5L1537.0 838.5L1537.5 838.4L1538.0 838.4L1538.5 838.4L1539.0 838.4L1539.5 838.4L1540.0 838.4L1540.5 838.3L1541.0 838.3L1541.5 838.3L1542.0 838.3L1542.5 838.2L1543.0 838.2L1543.5 838.2L1544.0 838.1L1544.5 838.1L1545.0 838.1L1545.5 838.0L1546.0 838.0L1546.5 838.0L1547.0 838.0L1547.5 838.0L1548.0 838.0L1548.5 838.0L1549.0 838.0L1549.5 838.0L1550.0 838.0L1550.5 838.0L1551.0 838.0L1551.5 838.0L1552.0 838.1L1552.5 838.1L1553.0 838.1L1553.5 838.1L1554.0 838.1L1554.5 838.2L1555.0 838.2L1555.5 838.3L1556.0 838.3L1556.5 838.4L1557.0 838.4L1557.5 838.5L1558.0 838.5L1558.5 838.6L1559.0 838.7L1559.5 838.7L1560.0 838.8L1560.5 838.8L1561.0 838.9L1561.5 838.9L1562.0 839.0L1562.5 839.0L1563.0 839.0L1563.5 839.1L1564.0 839.1L1564.5 839.1L1565.0 839.2L1565.5 839.2L1566.0 839.3L1566.5 839.3L1567.0 839.3L1567.5 839.4L1568.0 839.4L1568.5 839.4L1569.0 839.4L1569.5 839.5L1570.0 839.5L1570.5 839.5L1571.0 839.6L1571.5 839.6L1572.0 839.6L1572.5 839.7L1573.0 839.7L1573.5 839.7L1574.0 839.8L1574.5 839.8L1575.0 839.8L1575.5 839.9L1576.0 839.9L1576.5 839.9L1577.0 839.9L1577.5 840.0L1578.0 840.0L1578.5 840.0L1579.0 840.0L1579.5 840.0L1580.0 840.0L1580.5 840.0L1581.0 840.0L1581.5 839.9L1582.0 839.9L1582.5 839.8L1583.0 839.8L1583.5 839.8L1584.0 839.7L1584.5 839.7L1585.0 839.6L1585.5 839.6L1586.0 839.5L1586.5 839.5L1587.0 839.4L1587.5 839.4L1588.0 839.3L1588.5 839.3L1589.0 839.2L1589.5 839.2L1590.0 839.1L1590.5 839.1L1591.0 839.0L1591.5 839.0L1592.0 838.9L1592.5 838.9L1593.0 838.8" stroke="#7E007F" stroke-width="4.2"/>
</g>
<rect x="175.0" y="21.0" width="1418.0" height="1018.0" fill="none" stroke="#000" stroke-width="3.4"/>
<line x1="490.1" y1="1039.0" x2="490.1" y2="1025.0" stroke="#000" stroke-width="3.4"/>
<line x1="805.2" y1="1039.0" x2="805.2" y2="1025.0" stroke="#000" stroke-width="3.4"/>
<line x1="1120.3" y1="1039.0" x2="1120.3" y2="1025.0" stroke="#000" stroke-width="3.4"/>
<line x1="1435.4" y1="1039.0" x2="1435.4" y2="1025.0" stroke="#000" stroke-width="3.4"/>
<line x1="175.0" y1="224.6" x2="188.0" y2="224.6" stroke="#000" stroke-width="3.4"/>
<line x1="175.0" y1="428.2" x2="188.0" y2="428.2" stroke="#000" stroke-width="3.4"/>
<line x1="175.0" y1="631.8" x2="188.0" y2="631.8" stroke="#000" stroke-width="3.4"/>
<line x1="175.0" y1="835.4" x2="188.0" y2="835.4" stroke="#000" stroke-width="3.4"/>
<text x="175.0" y="1094.0" font-size="52.5" text-anchor="middle">0</text>
<text x="490.1" y="1094.0" font-size="52.5" text-anchor="middle">2</text>
<text x="805.2" y="1094.0" font-size="52.5" text-anchor="middle">4</text>
<text x="1120.3" y="1094.0" font-size="52.5" text-anchor="middle">6</text>
<text x="1435.4" y="1094.0" font-size="52.5" text-anchor="middle">8</text>
<text x="161.0" y="37.0" font-size="52.5" text-anchor="end">2.0</text>
<text x="159.5" y="240.6" font-size="52.5" text-anchor="end">1.5</text>
<text x="161.0" y="444.2" font-size="52.5" text-anchor="end">1.0</text>
<text x="159.5" y="647.8" font-size="52.5" text-anchor="end">0.5</text>
<text x="161.0" y="851.4" font-size="52.5" text-anchor="end">0.0</text>
<text x="159.5" y="1055.0" font-size="52.5" text-anchor="end">-0.5</text>
<text x="884.0" y="1178.5" font-size="52.5" text-anchor="middle">Time (h)</text>
<text transform="translate(46.7 530.0) rotate(-90)" font-size="52.2" text-anchor="middle">Transient seepage force (Pa)</text>
<text x="1470.0" y="96.2" font-size="46">(a)</text>
<rect x="318.0" y="93.5" width="374.0" height="339.5" fill="#fff" stroke="#000" stroke-width="2"/>
<line x1="325" y1="131.5" x2="440" y2="131.5" stroke="#000000" stroke-width="4.0" stroke-linecap="round"/>
<text x="453.0" y="148.9" font-size="55">z=10cm</text>
<line x1="325" y1="197.9" x2="440" y2="197.9" stroke="#E5343F" stroke-width="4.2" stroke-linecap="round"/>
<text x="453.0" y="215.3" font-size="55">z=20cm</text>
<line x1="325" y1="264.4" x2="440" y2="264.4" stroke="#3A7AC5" stroke-width="4.2" stroke-linecap="round"/>
<text x="453.0" y="281.8" font-size="55">z=50cm</text>
<line x1="325" y1="330.9" x2="440" y2="330.9" stroke="#30AD6A" stroke-width="4.2" stroke-linecap="round"/>
<text x="453.0" y="348.2" font-size="55">z=100cm</text>
<line x1="325" y1="397.3" x2="440" y2="397.3" stroke="#7E007F" stroke-width="4.2" stroke-linecap="round"/>
<text x="453.0" y="414.7" font-size="55">z=200cm</text>
</g>
<g id="chartB">
<clipPath id="clipB"><rect x="175.0" y="1330.0" width="1418.0" height="1018.0"/></clipPath>
<g clip-path="url(#clipB)" fill="none" stroke-linejoin="round" stroke-linecap="round">
<path d="M175.0 2348.0L175.1 2331.5L175.2 2325.5L175.2 2321.0L175.3 2317.2L175.4 2314.0L175.5 2311.1L175.6 2308.4L175.6 2306.0L175.7 2303.7L175.8 2301.6L175.9 2299.5L176.0 2297.6L176.0 2295.7L176.1 2294.0L176.2 2292.3L176.3 2290.6L176.4 2289.0L176.4 2287.5L176.5 2286.0L176.6 2284.6L176.7 2283.1L176.8 2281.8L176.8 2280.4L176.9 2279.1L177.0 2277.9L177.1 2276.6L177.2 2275.4L177.2 2274.2L177.3 2273.0L177.4 2271.9L177.5 2270.7L177.6 2269.6L177.6 2268.5L177.7 2267.4L177.8 2266.4L177.9 2265.3L178.0 2264.3L178.0 2263.3L178.1 2262.3L178.2 2261.3L178.3 2260.4L178.4 2259.4L178.4 2258.5L178.5 2257.5L178.6 2256.6L178.7 2255.7L178.8 2254.8L178.8 2253.9L178.9 2253.0L179.0 2252.2L179.1 2251.3L179.2 2250.6L179.2 2249.9L179.3 2249.2L179.4 2248.6L179.5 2247.9L179.6 2247.2L179.6 2246.6L179.7 2245.9L180.1 2242.9L180.4 2240.0L180.8 2237.1L181.2 2234.2L181.5 2231.3L181.9 2228.5L182.2 2225.7L182.6 2223.0L182.9 2220.3L183.3 2217.7L183.7 2215.0L184.0 2212.5L184.4 2209.9L184.7 2207.4L185.1 2205.0L185.4 2202.5L185.8 2200.1L186.2 2197.8L186.5 2195.4L186.9 2193.1L187.2 2190.9L187.6 2188.7L187.9 2186.5L188.3 2184.3L188.7 2182.2L189.0 2180.1L189.4 2178.0L189.7 2175.9L190.1 2173.9L190.5 2171.9L190.8 2170.0L191.2 2168.0L191.5 2166.1L191.9 2164.2L192.2 2162.4L192.6 2160.5L193.0 2158.7L193.3 2157.0L193.7 2155.2L194.0 2153.5L194.4 2151.7L194.7 2150.0L195.1 2148.4L195.5 2146.7L195.8 2145.1L196.2 2143.5L196.5 2141.9L196.9 2140.3L197.2 2138.8L197.6 2137.3L198.0 2135.8L198.3 2134.3L198.7 2132.8L199.0 2131.3L199.4 2129.9L199.7 2128.5L200.1 2127.1L200.5 2125.7L200.8 2124.3L201.2 2122.9L201.5 2121.6L201.9 2120.2L202.2 2118.9L202.6 2117.6L203.0 2116.3L203.3 2115.0L203.7 2113.8L204.0 2112.5L204.4 2111.3L204.8 2110.0L205.1 2108.8L205.5 2107.6L205.8 2106.4L206.2 2105.2L206.5 2104.0L206.9 2102.9L207.3 2101.7L207.6 2100.6L208.0 2099.4L208.3 2098.3L208.7 2097.2L209.0 2096.1L209.4 2095.0L209.8 2093.9L210.1 2092.8L210.5 2091.7L210.8 2090.6L211.2 2089.6L211.5 2088.5L211.9 2087.5L212.3 2086.4L212.6 2085.4L213.0 2084.4L213.3 2083.4L213.7 2082.4L214.0 2081.4L214.4 2080.4L214.8 2079.4L215.1 2078.4L215.5 2077.4L215.8 2076.5L216.2 2075.5L216.5 2074.5L216.9 2073.6L217.3 2072.7L217.6 2071.7L218.0 2070.8L218.3 2069.9L218.7 2069.0L219.0 2068.0L219.4 2067.1L219.8 2066.2L220.1 2065.3L220.5 2064.4L220.8 2063.6L221.2 2062.7L221.6 2061.8L221.9 2060.9L222.3 2060.1L226.9 2049.4L231.4 2039.4L236.0 2029.9L240.6 2021.0L245.2 2012.6L249.8 2004.6L254.4 1996.9L258.9 1989.6L263.5 1982.5L268.1 1975.8L272.7 1969.3L277.3 1963.0L281.9 1956.9L286.4 1951.1L291.0 1945.4L295.6 1939.9L300.2 1934.5L304.8 1929.3L309.4 1924.3L314.0 1919.4L318.5 1914.6L323.1 1909.9L327.7 1905.3L332.3 1900.8L336.9 1896.5L341.5 1892.2L346.0 1888.0L350.6 1883.9L355.2 1879.9L359.8 1876.0L364.4 1872.2L369.0 1868.4L373.6 1864.7L378.1 1861.0L382.7 1857.5L387.3 1854.0L391.9 1850.5L396.5 1847.1L401.1 1843.8L405.6 1840.5L410.2 1837.2L414.8 1834.1L419.4 1830.9L424.0 1827.8L428.6 1824.8L433.1 1821.8L437.7 1818.8L442.3 1815.9L446.9 1813.0L451.5 1810.2L456.1 1807.3L460.7 1804.6L465.2 1801.8L469.8 1799.1L474.4 1796.5L479.0 1793.8L483.6 1791.2L488.2 1788.6L492.7 1786.1L497.3 1783.6L501.9 1781.1L506.5 1778.6L511.1 1776.2L515.7 1773.8L520.3 1771.4L524.8 1769.1L529.4 1766.7L534.0 1764.4L538.6 1762.1L543.2 1759.9L547.8 1757.6L552.3 1755.4L556.9 1753.2L561.5 1751.0L566.1 1748.9L570.7 1746.8L575.3 1744.6L579.8 1742.5L584.4 1740.5L589.0 1738.4L593.6 1736.4L598.2 1734.3L602.8 1732.3L607.4 1730.4L611.9 1728.4L616.5 1726.4L621.1 1724.5L625.7 1722.6L630.3 1720.7L634.9 1718.8L639.4 1716.9L644.0 1715.0L648.6 1713.2L653.2 1711.3L657.8 1709.5L662.4 1707.7L667.0 1705.9L671.5 1704.1L676.1 1702.4L680.7 1700.6L685.3 1698.9L689.9 1697.2L694.5 1695.4L699.0 1693.7L703.6 1692.0L708.2 1690.4L712.8 1688.7L717.4 1687.0L722.0 1685.4L726.5 1683.7L731.1 1682.1L735.7 1680.5L740.3 1678.9L744.9 1677.3L749.5 1675.7L754.1 1674.2L758.6 1672.6L763.2 1671.0L767.8 1669.5L772.4 1668.0L777.0 1666.4L781.6 1664.9L786.1 1663.4L790.7 1661.9L795.3 1660.4L799.9 1658.9L804.5 1657.5L809.1 1656.0L813.7 1654.6L818.2 1653.1L822.8 1651.7L827.4 1650.2L832.0 1648.8L836.6 1647.4L841.2 1646.0L845.7 1644.6L850.3 1643.2L854.9 1641.8L859.5 1640.4L864.1 1639.1L868.7 1637.7L873.3 1636.4L877.8 1635.0L882.4 1633.7L887.0 1632.3L891.6 1631.0L896.2 1629.7L900.8 1628.4L905.3 1627.1L909.9 1625.8L914.5 1624.5L919.1 1623.2L923.7 1621.9L928.3 1620.6L932.8 1619.4L937.4 1618.1L942.0 1616.8L946.6 1615.6L951.2 1614.3L955.8 1613.1L960.4 1611.9L964.9 1610.6L969.5 1609.4L974.1 1608.2L978.7 1607.0L983.3 1605.8L987.9 1604.6L992.4 1603.4L997.0 1602.2L1001.6 1601.0L1006.2 1599.8L1010.8 1598.7L1015.4 1597.5L1020.0 1596.3L1024.5 1595.2L1029.1 1594.0L1033.7 1592.9L1038.3 1591.7L1042.9 1590.6L1047.5 1589.4L1052.0 1588.3L1056.6 1587.2L1061.2 1586.1L1065.8 1584.9L1070.4 1583.8L1075.0 1582.7L1079.5 1581.6L1084.1 1580.5L1088.7 1579.4L1093.3 1578.3L1097.9 1577.2L1102.5 1576.2L1107.1 1575.1L1111.6 1574.0L1116.2 1572.9L1120.8 1571.9L1125.4 1570.8L1130.0 1569.8L1134.6 1568.7L1139.1 1567.7L1143.7 1566.6L1148.3 1565.6L1152.9 1564.5L1157.5 1563.5L1162.1 1562.5L1166.7 1561.4L1171.2 1560.4L1175.8 1559.4L1180.4 1558.4L1185.0 1557.4L1189.6 1556.4L1194.2 1555.4L1198.7 1554.4L1203.3 1553.4L1207.9 1552.4L1212.5 1551.4L1217.1 1550.4L1221.7 1549.4L1226.2 1548.4L1230.8 1547.4L1235.4 1546.5L1240.0 1545.5L1244.6 1544.5L1249.2 1543.6L1253.8 1542.6L1258.3 1541.6L1262.9 1540.7L1267.5 1539.7L1272.1 1538.8L1276.7 1537.8L1281.3 1536.9L1285.8 1536.0L1290.4 1535.0L1295.0 1534.1L1299.6 1533.2L1304.2 1532.2L1308.8 1531.3L1313.4 1530.4L1317.9 1529.5L1322.5 1528.5L1327.1 1527.6L1331.7 1526.7L1336.3 1525.8L1340.9 1524.9L1345.4 1524.0L1350.0 1523.1L1354.6 1522.2L1359.2 1521.3L1363.8 1520.4L1368.4 1519.5L1372.9 1518.6L1377.5 1517.8L1382.1 1516.9L1386.7 1516.0L1391.3 1515.1L1395.9 1514.3L1400.5 1513.4L1405.0 1512.5L1409.6 1511.6L1414.2 1510.8L1418.8 1509.9L1423.4 1509.1L1428.0 1508.2L1432.5 1507.4L1437.1 1506.5L1441.7 1505.7L1446.3 1504.8L1450.9 1504.0L1455.5 1503.1L1460.1 1502.3L1464.6 1501.4L1469.2 1500.6L1473.8 1499.8L1478.4 1498.9L1483.0 1498.1L1487.6 1497.3L1492.1 1496.5L1496.7 1495.6L1501.3 1494.8L1505.9 1494.0L1510.5 1493.2L1515.1 1492.4L1519.6 1491.6L1524.2 1490.7L1528.8 1489.9L1533.4 1489.1L1538.0 1488.3L1542.6 1487.5L1547.2 1486.7L1551.7 1485.9L1556.3 1485.1L1560.9 1484.3L1565.5 1483.6L1570.1 1482.8L1574.7 1482.0L1579.2 1481.2L1583.8 1480.4L1588.4 1479.6L1593.0 1478.9" stroke="#000000" stroke-width="4.2"/>
<path d="M175.0 2348.0L175.1 2331.7L175.2 2325.7L175.2 2321.2L175.3 2317.5L175.4 2314.3L175.5 2311.4L175.6 2308.8L175.6 2306.4L175.7 2304.1L175.8 2302.0L175.9 2299.9L176.0 2298.0L176.0 2296.2L176.1 2294.4L176.2 2292.7L176.3 2291.1L176.4 2289.5L176.4 2288.0L176.5 2286.5L176.6 2285.1L176.7 2283.7L176.8 2282.4L176.8 2281.0L176.9 2279.7L177.0 2278.5L177.1 2277.2L177.2 2276.0L177.2 2274.8L177.3 2273.7L177.4 2272.5L177.5 2271.4L177.6 2270.3L177.6 2269.2L177.7 2268.1L177.8 2267.1L177.9 2266.1L178.0 2265.0L178.0 2264.0L178.1 2263.1L178.2 2262.1L178.3 2261.1L178.4 2260.2L178.4 2259.2L178.5 2258.3L178.6 2257.4L178.7 2256.5L178.8 2255.6L178.8 2254.7L178.9 2253.9L179.0 2253.0L179.1 2252.2L179.2 2251.4L179.2 2250.8L179.3 2250.1L179.4 2249.4L179.5 2248.8L179.6 2248.1L179.6 2247.4L179.7 2246.8L180.1 2243.8L180.4 2240.9L180.8 2238.0L181.2 2235.2L181.5 2232.3L181.9 2229.5L182.2 2226.8L182.6 2224.1L182.9 2221.4L183.3 2218.8L183.7 2216.2L184.0 2213.6L184.4 2211.1L184.7 2208.6L185.1 2206.2L185.4 2203.8L185.8 2201.4L186.2 2199.1L186.5 2196.8L186.9 2194.5L187.2 2192.3L187.6 2190.0L187.9 2187.9L188.3 2185.7L188.7 2183.6L189.0 2181.5L189.4 2179.5L189.7 2177.4L190.1 2175.4L190.5 2173.5L190.8 2171.5L191.2 2169.6L191.5 2167.7L191.9 2165.8L192.2 2164.0L192.6 2162.2L193.0 2160.4L193.3 2158.6L193.7 2156.9L194.0 2155.1L194.4 2153.4L194.7 2151.8L195.1 2150.1L195.5 2148.5L195.8 2146.9L196.2 2145.3L196.5 2143.7L196.9 2142.1L197.2 2140.6L197.6 2139.1L198.0 2137.6L198.3 2136.1L198.7 2134.7L199.0 2133.2L199.4 2131.8L199.7 2130.4L200.1 2129.0L200.5 2127.6L200.8 2126.2L201.2 2124.9L201.5 2123.5L201.9 2122.2L202.2 2120.9L202.6 2119.6L203.0 2118.3L203.3 2117.1L203.7 2115.8L204.0 2114.6L204.4 2113.3L204.8 2112.1L205.1 2110.9L205.5 2109.7L205.8 2108.5L206.2 2107.3L206.5 2106.2L206.9 2105.0L207.3 2103.8L207.6 2102.7L208.0 2101.6L208.3 2100.5L208.7 2099.4L209.0 2098.2L209.4 2097.2L209.8 2096.1L210.1 2095.0L210.5 2093.9L210.8 2092.9L211.2 2091.8L211.5 2090.8L211.9 2089.7L212.3 2088.7L212.6 2087.7L213.0 2086.7L213.3 2085.7L213.7 2084.7L214.0 2083.7L214.4 2082.7L214.8 2081.7L215.1 2080.7L215.5 2079.8L215.8 2078.8L216.2 2077.9L216.5 2076.9L216.9 2076.0L217.3 2075.1L217.6 2074.1L218.0 2073.2L218.3 2072.3L218.7 2071.4L219.0 2070.5L219.4 2069.6L219.8 2068.7L220.1 2067.8L220.5 2066.9L220.8 2066.0L221.2 2065.2L221.6 2064.3L221.9 2063.4L222.3 2062.6L226.9 2052.0L231.4 2042.0L236.0 2032.7L240.6 2023.9L245.2 2015.5L249.8 2007.6L254.4 2000.0L258.9 1992.7L263.5 1985.7L268.1 1979.0L272.7 1972.6L277.3 1966.3L281.9 1960.3L286.4 1954.5L291.0 1948.9L295.6 1943.4L300.2 1938.1L304.8 1933.0L309.4 1928.0L314.0 1923.1L318.5 1918.3L323.1 1913.7L327.7 1909.2L332.3 1904.7L336.9 1900.4L341.5 1896.2L346.0 1892.0L350.6 1888.0L355.2 1884.0L359.8 1880.1L364.4 1876.3L369.0 1872.6L373.6 1868.9L378.1 1865.3L382.7 1861.7L387.3 1858.3L391.9 1854.8L396.5 1851.5L401.1 1848.2L405.6 1844.9L410.2 1841.7L414.8 1838.5L419.4 1835.4L424.0 1832.3L428.6 1829.3L433.1 1826.3L437.7 1823.4L442.3 1820.5L446.9 1817.7L451.5 1814.8L456.1 1812.0L460.7 1809.3L465.2 1806.6L469.8 1803.9L474.4 1801.3L479.0 1798.6L483.6 1796.1L488.2 1793.5L492.7 1791.0L497.3 1788.5L501.9 1786.0L506.5 1783.6L511.1 1781.2L515.7 1778.8L520.3 1776.4L524.8 1774.1L529.4 1771.8L534.0 1769.5L538.6 1767.2L543.2 1765.0L547.8 1762.8L552.3 1760.6L556.9 1758.4L561.5 1756.2L566.1 1754.1L570.7 1752.0L575.3 1749.9L579.8 1747.8L584.4 1745.8L589.0 1743.7L593.6 1741.7L598.2 1739.7L602.8 1737.7L607.4 1735.7L611.9 1733.8L616.5 1731.8L621.1 1729.9L625.7 1728.0L630.3 1726.1L634.9 1724.2L639.4 1722.4L644.0 1720.5L648.6 1718.7L653.2 1716.9L657.8 1715.1L662.4 1713.3L667.0 1711.5L671.5 1709.7L676.1 1708.0L680.7 1706.3L685.3 1704.5L689.9 1702.8L694.5 1701.1L699.0 1699.4L703.6 1697.7L708.2 1696.1L712.8 1694.4L717.4 1692.8L722.0 1691.1L726.5 1689.5L731.1 1687.9L735.7 1686.3L740.3 1684.7L744.9 1683.1L749.5 1681.6L754.1 1680.0L758.6 1678.5L763.2 1676.9L767.8 1675.4L772.4 1673.9L777.0 1672.4L781.6 1670.9L786.1 1669.4L790.7 1667.9L795.3 1666.4L799.9 1664.9L804.5 1663.5L809.1 1662.0L813.7 1660.6L818.2 1659.1L822.8 1657.7L827.4 1656.3L832.0 1654.9L836.6 1653.5L841.2 1652.1L845.7 1650.7L850.3 1649.3L854.9 1648.0L859.5 1646.6L864.1 1645.2L868.7 1643.9L873.3 1642.5L877.8 1641.2L882.4 1639.9L887.0 1638.6L891.6 1637.2L896.2 1635.9L900.8 1634.6L905.3 1633.3L909.9 1632.0L914.5 1630.8L919.1 1629.5L923.7 1628.2L928.3 1627.0L932.8 1625.7L937.4 1624.4L942.0 1623.2L946.6 1622.0L951.2 1620.7L955.8 1619.5L960.4 1618.3L964.9 1617.0L969.5 1615.8L974.1 1614.6L978.7 1613.4L983.3 1612.2L987.9 1611.0L992.4 1609.9L997.0 1608.7L1001.6 1607.5L1006.2 1606.3L1010.8 1605.2L1015.4 1604.0L1020.0 1602.9L1024.5 1601.7L1029.1 1600.6L1033.7 1599.4L1038.3 1598.3L1042.9 1597.2L1047.5 1596.0L1052.0 1594.9L1056.6 1593.8L1061.2 1592.7L1065.8 1591.6L1070.4 1590.5L1075.0 1589.4L1079.5 1588.3L1084.1 1587.2L1088.7 1586.1L1093.3 1585.0L1097.9 1584.0L1102.5 1582.9L1107.1 1581.8L1111.6 1580.7L1116.2 1579.7L1120.8 1578.6L1125.4 1577.6L1130.0 1576.5L1134.6 1575.5L1139.1 1574.4L1143.7 1573.4L1148.3 1572.4L1152.9 1571.3L1157.5 1570.3L1162.1 1569.3L1166.7 1568.3L1171.2 1567.3L1175.8 1566.3L1180.4 1565.3L1185.0 1564.2L1189.6 1563.2L1194.2 1562.3L1198.7 1561.3L1203.3 1560.3L1207.9 1559.3L1212.5 1558.3L1217.1 1557.3L1221.7 1556.3L1226.2 1555.4L1230.8 1554.4L1235.4 1553.4L1240.0 1552.5L1244.6 1551.5L1249.2 1550.6L1253.8 1549.6L1258.3 1548.7L1262.9 1547.7L1267.5 1546.8L1272.1 1545.8L1276.7 1544.9L1281.3 1544.0L1285.8 1543.0L1290.4 1542.1L1295.0 1541.2L1299.6 1540.2L1304.2 1539.3L1308.8 1538.4L1313.4 1537.5L1317.9 1536.6L1322.5 1535.7L1327.1 1534.8L1331.7 1533.9L1336.3 1533.0L1340.9 1532.1L1345.4 1531.2L1350.0 1530.3L1354.6 1529.4L1359.2 1528.5L1363.8 1527.6L1368.4 1526.7L1372.9 1525.9L1377.5 1525.0L1382.1 1524.1L1386.7 1523.2L1391.3 1522.4L1395.9 1521.5L1400.5 1520.6L1405.0 1519.8L1409.6 1518.9L1414.2 1518.1L1418.8 1517.2L1423.4 1516.4L1428.0 1515.5L1432.5 1514.7L1437.1 1513.8L1441.7 1513.0L1446.3 1512.1L1450.9 1511.3L1455.5 1510.5L1460.1 1509.6L1464.6 1508.8L1469.2 1508.0L1473.8 1507.1L1478.4 1506.3L1483.0 1505.5L1487.6 1504.7L1492.1 1503.9L1496.7 1503.1L1501.3 1502.2L1505.9 1501.4L1510.5 1500.6L1515.1 1499.8L1519.6 1499.0L1524.2 1498.2L1528.8 1497.4L1533.4 1496.6L1538.0 1495.8L1542.6 1495.0L1547.2 1494.2L1551.7 1493.4L1556.3 1492.6L1560.9 1491.9L1565.5 1491.1L1570.1 1490.3L1574.7 1489.5L1579.2 1488.7L1583.8 1488.0L1588.4 1487.2L1593.0 1486.4" stroke="#E5343F" stroke-width="4.2"/>
<path d="M175.2 2348.0L175.2 2342.4L175.3 2331.3L175.4 2325.6L175.5 2321.3L175.6 2317.7L175.6 2314.6L175.7 2311.8L175.8 2309.2L175.9 2306.9L176.0 2304.7L176.0 2302.6L176.1 2300.6L176.2 2298.7L176.3 2296.9L176.4 2295.2L176.4 2293.6L176.5 2292.0L176.6 2290.4L176.7 2288.9L176.8 2287.5L176.8 2286.1L176.9 2284.7L177.0 2283.4L177.1 2282.1L177.2 2280.8L177.2 2279.6L177.3 2278.4L177.4 2277.2L177.5 2276.0L177.6 2274.9L177.6 2273.8L177.7 2272.7L177.8 2271.6L177.9 2270.5L178.0 2269.5L178.0 2268.5L178.1 2267.4L178.2 2266.4L178.3 2265.5L178.4 2264.5L178.4 2263.5L178.5 2262.6L178.6 2261.7L178.7 2260.8L178.8 2259.9L178.8 2259.0L178.9 2258.1L179.0 2257.2L179.1 2256.4L179.2 2255.5L179.2 2254.7L179.3 2253.9L179.4 2253.3L179.5 2252.6L179.6 2251.9L179.6 2251.3L179.7 2250.6L180.1 2247.7L180.4 2244.8L180.8 2241.9L181.2 2239.1L181.5 2236.3L181.9 2233.6L182.2 2230.8L182.6 2228.1L182.9 2225.5L183.3 2222.9L183.7 2220.3L184.0 2217.8L184.4 2215.3L184.7 2212.9L185.1 2210.4L185.4 2208.1L185.8 2205.7L186.2 2203.4L186.5 2201.1L186.9 2198.9L187.2 2196.7L187.6 2194.5L187.9 2192.4L188.3 2190.2L188.7 2188.2L189.0 2186.1L189.4 2184.1L189.7 2182.1L190.1 2180.1L190.5 2178.2L190.8 2176.3L191.2 2174.4L191.5 2172.5L191.9 2170.7L192.2 2168.9L192.6 2167.1L193.0 2165.3L193.3 2163.6L193.7 2161.9L194.0 2160.2L194.4 2158.5L194.7 2156.8L195.1 2155.2L195.5 2153.6L195.8 2152.0L196.2 2150.5L196.5 2148.9L196.9 2147.4L197.2 2145.9L197.6 2144.4L198.0 2142.9L198.3 2141.5L198.7 2140.1L199.0 2138.6L199.4 2137.3L199.7 2135.9L200.1 2134.5L200.5 2133.1L200.8 2131.8L201.2 2130.5L201.5 2129.2L201.9 2127.9L202.2 2126.6L202.6 2125.3L203.0 2124.1L203.3 2122.8L203.7 2121.6L204.0 2120.4L204.4 2119.2L204.8 2118.0L205.1 2116.8L205.5 2115.6L205.8 2114.5L206.2 2113.3L206.5 2112.2L206.9 2111.0L207.3 2109.9L207.6 2108.8L208.0 2107.7L208.3 2106.6L208.7 2105.5L209.0 2104.4L209.4 2103.4L209.8 2102.3L210.1 2101.3L210.5 2100.2L210.8 2099.2L211.2 2098.2L211.5 2097.1L211.9 2096.1L212.3 2095.1L212.6 2094.1L213.0 2093.1L213.3 2092.1L213.7 2091.2L214.0 2090.2L214.4 2089.2L214.8 2088.3L215.1 2087.3L215.5 2086.4L215.8 2085.5L216.2 2084.5L216.5 2083.6L216.9 2082.7L217.3 2081.8L217.6 2080.9L218.0 2080.0L218.3 2079.1L218.7 2078.2L219.0 2077.3L219.4 2076.4L219.8 2075.6L220.1 2074.7L220.5 2073.8L220.8 2073.0L221.2 2072.1L221.6 2071.3L221.9 2070.4L222.3 2069.6L226.9 2059.2L231.4 2049.6L236.0 2040.4L240.6 2031.8L245.2 2023.7L249.8 2015.9L254.4 2008.5L258.9 2001.4L263.5 1994.6L268.1 1988.1L272.7 1981.8L277.3 1975.7L281.9 1969.8L286.4 1964.2L291.0 1958.7L295.6 1953.3L300.2 1948.2L304.8 1943.1L309.4 1938.3L314.0 1933.5L318.5 1928.9L323.1 1924.3L327.7 1919.9L332.3 1915.6L336.9 1911.4L341.5 1907.3L346.0 1903.2L350.6 1899.3L355.2 1895.4L359.8 1891.6L364.4 1887.9L369.0 1884.2L373.6 1880.6L378.1 1877.1L382.7 1873.7L387.3 1870.3L391.9 1866.9L396.5 1863.6L401.1 1860.4L405.6 1857.2L410.2 1854.1L414.8 1851.0L419.4 1848.0L424.0 1845.0L428.6 1842.0L433.1 1839.1L437.7 1836.3L442.3 1833.4L446.9 1830.7L451.5 1827.9L456.1 1825.2L460.7 1822.5L465.2 1819.9L469.8 1817.2L474.4 1814.7L479.0 1812.1L483.6 1809.6L488.2 1807.1L492.7 1804.6L497.3 1802.2L501.9 1799.8L506.5 1797.4L511.1 1795.1L515.7 1792.7L520.3 1790.4L524.8 1788.2L529.4 1785.9L534.0 1783.7L538.6 1781.5L543.2 1779.3L547.8 1777.1L552.3 1775.0L556.9 1772.9L561.5 1770.7L566.1 1768.7L570.7 1766.6L575.3 1764.6L579.8 1762.5L584.4 1760.5L589.0 1758.5L593.6 1756.6L598.2 1754.6L602.8 1752.7L607.4 1750.7L611.9 1748.8L616.5 1746.9L621.1 1745.1L625.7 1743.2L630.3 1741.4L634.9 1739.5L639.4 1737.7L644.0 1735.9L648.6 1734.1L653.2 1732.4L657.8 1730.6L662.4 1728.8L667.0 1727.1L671.5 1725.4L676.1 1723.7L680.7 1722.0L685.3 1720.3L689.9 1718.6L694.5 1717.0L699.0 1715.3L703.6 1713.7L708.2 1712.1L712.8 1710.4L717.4 1708.8L722.0 1707.3L726.5 1705.7L731.1 1704.1L735.7 1702.5L740.3 1701.0L744.9 1699.4L749.5 1697.9L754.1 1696.4L758.6 1694.9L763.2 1693.4L767.8 1691.9L772.4 1690.4L777.0 1688.9L781.6 1687.5L786.1 1686.0L790.7 1684.6L795.3 1683.1L799.9 1681.7L804.5 1680.3L809.1 1678.8L813.7 1677.4L818.2 1676.0L822.8 1674.6L827.4 1673.3L832.0 1671.9L836.6 1670.5L841.2 1669.2L845.7 1667.8L850.3 1666.5L854.9 1665.1L859.5 1663.8L864.1 1662.5L868.7 1661.1L873.3 1659.8L877.8 1658.5L882.4 1657.2L887.0 1655.9L891.6 1654.7L896.2 1653.4L900.8 1652.1L905.3 1650.9L909.9 1649.6L914.5 1648.3L919.1 1647.1L923.7 1645.9L928.3 1644.6L932.8 1643.4L937.4 1642.2L942.0 1641.0L946.6 1639.8L951.2 1638.5L955.8 1637.3L960.4 1636.2L964.9 1635.0L969.5 1633.8L974.1 1632.6L978.7 1631.4L983.3 1630.3L987.9 1629.1L992.4 1628.0L997.0 1626.8L1001.6 1625.7L1006.2 1624.5L1010.8 1623.4L1015.4 1622.3L1020.0 1621.1L1024.5 1620.0L1029.1 1618.9L1033.7 1617.8L1038.3 1616.7L1042.9 1615.6L1047.5 1614.5L1052.0 1613.4L1056.6 1612.3L1061.2 1611.2L1065.8 1610.1L1070.4 1609.0L1075.0 1608.0L1079.5 1606.9L1084.1 1605.8L1088.7 1604.8L1093.3 1603.7L1097.9 1602.7L1102.5 1601.6L1107.1 1600.6L1111.6 1599.6L1116.2 1598.5L1120.8 1597.5L1125.4 1596.5L1130.0 1595.4L1134.6 1594.4L1139.1 1593.4L1143.7 1592.4L1148.3 1591.4L1152.9 1590.4L1157.5 1589.4L1162.1 1588.4L1166.7 1587.4L1171.2 1586.4L1175.8 1585.4L1180.4 1584.4L1185.0 1583.5L1189.6 1582.5L1194.2 1581.5L1198.7 1580.5L1203.3 1579.6L1207.9 1578.6L1212.5 1577.7L1217.1 1576.7L1221.7 1575.8L1226.2 1574.8L1230.8 1573.9L1235.4 1572.9L1240.0 1572.0L1244.6 1571.0L1249.2 1570.1L1253.8 1569.2L1258.3 1568.3L1262.9 1567.3L1267.5 1566.4L1272.1 1565.5L1276.7 1564.6L1281.3 1563.7L1285.8 1562.8L1290.4 1561.9L1295.0 1560.9L1299.6 1560.0L1304.2 1559.2L1308.8 1558.3L1313.4 1557.4L1317.9 1556.5L1322.5 1555.6L1327.1 1554.7L1331.7 1553.8L1336.3 1552.9L1340.9 1552.1L1345.4 1551.2L1350.0 1550.3L1354.6 1549.5L1359.2 1548.6L1363.8 1547.7L1368.4 1546.9L1372.9 1546.0L1377.5 1545.2L1382.1 1544.3L1386.7 1543.5L1391.3 1542.6L1395.9 1541.8L1400.5 1540.9L1405.0 1540.1L1409.6 1539.2L1414.2 1538.4L1418.8 1537.6L1423.4 1536.7L1428.0 1535.9L1432.5 1535.1L1437.1 1534.3L1441.7 1533.4L1446.3 1532.6L1450.9 1531.8L1455.5 1531.0L1460.1 1530.2L1464.6 1529.4L1469.2 1528.6L1473.8 1527.8L1478.4 1527.0L1483.0 1526.2L1487.6 1525.4L1492.1 1524.6L1496.7 1523.8L1501.3 1523.0L1505.9 1522.2L1510.5 1521.4L1515.1 1520.6L1519.6 1519.8L1524.2 1519.0L1528.8 1518.3L1533.4 1517.5L1538.0 1516.7L1542.6 1515.9L1547.2 1515.2L1551.7 1514.4L1556.3 1513.6L1560.9 1512.8L1565.5 1512.1L1570.1 1511.3L1574.7 1510.6L1579.2 1509.8L1583.8 1509.0L1588.4 1508.3L1593.0 1507.5" stroke="#3A7AC5" stroke-width="4.2"/>
<path d="M175.6 2348.0L175.7 2336.0L175.8 2328.9L175.9 2324.2L176.0 2320.4L176.0 2317.1L176.1 2314.3L176.2 2311.7L176.3 2309.3L176.4 2307.0L176.4 2305.0L176.5 2303.0L176.6 2301.1L176.7 2299.3L176.8 2297.6L176.8 2296.0L176.9 2294.4L177.0 2292.9L177.1 2291.4L177.2 2290.0L177.2 2288.6L177.3 2287.3L177.4 2286.0L177.5 2284.7L177.6 2283.5L177.6 2282.2L177.7 2281.1L177.8 2279.9L177.9 2278.8L178.0 2277.6L178.0 2276.5L178.1 2275.5L178.2 2274.4L178.3 2273.4L178.4 2272.4L178.4 2271.4L178.5 2270.4L178.6 2269.4L178.7 2268.5L178.8 2267.5L178.8 2266.6L178.9 2265.7L179.0 2264.8L179.1 2263.9L179.2 2263.0L179.2 2262.1L179.3 2261.3L179.4 2260.4L179.5 2259.6L179.6 2258.8L179.6 2258.0L179.7 2257.3L180.1 2254.5L180.4 2251.6L180.8 2248.8L181.2 2246.0L181.5 2243.2L181.9 2240.5L182.2 2237.8L182.6 2235.1L182.9 2232.5L183.3 2230.0L183.7 2227.4L184.0 2224.9L184.4 2222.5L184.7 2220.1L185.1 2217.7L185.4 2215.4L185.8 2213.0L186.2 2210.8L186.5 2208.5L186.9 2206.4L187.2 2204.2L187.6 2202.1L187.9 2200.0L188.3 2197.9L188.7 2195.8L189.0 2193.8L189.4 2191.9L189.7 2189.9L190.1 2188.0L190.5 2186.1L190.8 2184.2L191.2 2182.4L191.5 2180.6L191.9 2178.8L192.2 2177.0L192.6 2175.3L193.0 2173.6L193.3 2171.9L193.7 2170.2L194.0 2168.6L194.4 2167.0L194.7 2165.4L195.1 2163.8L195.5 2162.2L195.8 2160.7L196.2 2159.2L196.5 2157.7L196.9 2156.2L197.2 2154.8L197.6 2153.3L198.0 2151.9L198.3 2150.5L198.7 2149.1L199.0 2147.7L199.4 2146.4L199.7 2145.1L200.1 2143.7L200.5 2142.4L200.8 2141.1L201.2 2139.9L201.5 2138.6L201.9 2137.4L202.2 2136.1L202.6 2134.9L203.0 2133.7L203.3 2132.5L203.7 2131.3L204.0 2130.1L204.4 2129.0L204.8 2127.8L205.1 2126.7L205.5 2125.5L205.8 2124.4L206.2 2123.3L206.5 2122.2L206.9 2121.1L207.3 2120.0L207.6 2119.0L208.0 2117.9L208.3 2116.8L208.7 2115.8L209.0 2114.8L209.4 2113.7L209.8 2112.7L210.1 2111.7L210.5 2110.7L210.8 2109.7L211.2 2108.7L211.5 2107.7L211.9 2106.8L212.3 2105.8L212.6 2104.8L213.0 2103.9L213.3 2102.9L213.7 2102.0L214.0 2101.1L214.4 2100.2L214.8 2099.2L215.1 2098.3L215.5 2097.4L215.8 2096.5L216.2 2095.6L216.5 2094.7L216.9 2093.9L217.3 2093.0L217.6 2092.1L218.0 2091.3L218.3 2090.4L218.7 2089.5L219.0 2088.7L219.4 2087.8L219.8 2087.0L220.1 2086.2L220.5 2085.3L220.8 2084.5L221.2 2083.7L221.6 2082.9L221.9 2082.1L222.3 2081.3L226.9 2071.4L231.4 2062.1L236.0 2053.3L240.6 2045.1L245.2 2037.3L249.8 2029.8L254.4 2022.7L258.9 2015.9L263.5 2009.4L268.1 2003.1L272.7 1997.1L277.3 1991.3L281.9 1985.7L286.4 1980.2L291.0 1975.0L295.6 1969.9L300.2 1964.9L304.8 1960.1L309.4 1955.4L314.0 1950.9L318.5 1946.4L323.1 1942.1L327.7 1937.8L332.3 1933.7L336.9 1929.7L341.5 1925.7L346.0 1921.8L350.6 1918.1L355.2 1914.3L359.8 1910.7L364.4 1907.1L369.0 1903.6L373.6 1900.2L378.1 1896.8L382.7 1893.5L387.3 1890.3L391.9 1887.1L396.5 1883.9L401.1 1880.8L405.6 1877.8L410.2 1874.8L414.8 1871.8L419.4 1868.9L424.0 1866.1L428.6 1863.2L433.1 1860.4L437.7 1857.7L442.3 1855.0L446.9 1852.3L451.5 1849.7L456.1 1847.1L460.7 1844.5L465.2 1842.0L469.8 1839.5L474.4 1837.0L479.0 1834.6L483.6 1832.1L488.2 1829.8L492.7 1827.4L497.3 1825.1L501.9 1822.8L506.5 1820.5L511.1 1818.2L515.7 1816.0L520.3 1813.8L524.8 1811.6L529.4 1809.5L534.0 1807.3L538.6 1805.2L543.2 1803.1L547.8 1801.0L552.3 1799.0L556.9 1796.9L561.5 1794.9L566.1 1792.9L570.7 1791.0L575.3 1789.0L579.8 1787.0L584.4 1785.1L589.0 1783.2L593.6 1781.3L598.2 1779.5L602.8 1777.6L607.4 1775.8L611.9 1773.9L616.5 1772.1L621.1 1770.3L625.7 1768.5L630.3 1766.8L634.9 1765.0L639.4 1763.3L644.0 1761.5L648.6 1759.8L653.2 1758.1L657.8 1756.5L662.4 1754.8L667.0 1753.1L671.5 1751.5L676.1 1749.8L680.7 1748.2L685.3 1746.6L689.9 1745.0L694.5 1743.4L699.0 1741.8L703.6 1740.3L708.2 1738.7L712.8 1737.1L717.4 1735.6L722.0 1734.1L726.5 1732.6L731.1 1731.1L735.7 1729.6L740.3 1728.1L744.9 1726.6L749.5 1725.1L754.1 1723.7L758.6 1722.2L763.2 1720.8L767.8 1719.4L772.4 1717.9L777.0 1716.5L781.6 1715.1L786.1 1713.7L790.7 1712.3L795.3 1711.0L799.9 1709.6L804.5 1708.2L809.1 1706.9L813.7 1705.5L818.2 1704.2L822.8 1702.8L827.4 1701.5L832.0 1700.2L836.6 1698.9L841.2 1697.6L845.7 1696.3L850.3 1695.0L854.9 1693.7L859.5 1692.4L864.1 1691.2L868.7 1689.9L873.3 1688.7L877.8 1687.4L882.4 1686.2L887.0 1684.9L891.6 1683.7L896.2 1682.5L900.8 1681.3L905.3 1680.1L909.9 1678.8L914.5 1677.6L919.1 1676.5L923.7 1675.3L928.3 1674.1L932.8 1672.9L937.4 1671.7L942.0 1670.6L946.6 1669.4L951.2 1668.3L955.8 1667.1L960.4 1666.0L964.9 1664.8L969.5 1663.7L974.1 1662.6L978.7 1661.4L983.3 1660.3L987.9 1659.2L992.4 1658.1L997.0 1657.0L1001.6 1655.9L1006.2 1654.8L1010.8 1653.7L1015.4 1652.6L1020.0 1651.6L1024.5 1650.5L1029.1 1649.4L1033.7 1648.4L1038.3 1647.3L1042.9 1646.2L1047.5 1645.2L1052.0 1644.1L1056.6 1643.1L1061.2 1642.1L1065.8 1641.0L1070.4 1640.0L1075.0 1639.0L1079.5 1637.9L1084.1 1636.9L1088.7 1635.9L1093.3 1634.9L1097.9 1633.9L1102.5 1632.9L1107.1 1631.9L1111.6 1630.9L1116.2 1629.9L1120.8 1628.9L1125.4 1627.9L1130.0 1627.0L1134.6 1626.0L1139.1 1625.0L1143.7 1624.0L1148.3 1623.1L1152.9 1622.1L1157.5 1621.2L1162.1 1620.2L1166.7 1619.3L1171.2 1618.3L1175.8 1617.4L1180.4 1616.4L1185.0 1615.5L1189.6 1614.5L1194.2 1613.6L1198.7 1612.7L1203.3 1611.8L1207.9 1610.8L1212.5 1609.9L1217.1 1609.0L1221.7 1608.1L1226.2 1607.2L1230.8 1606.3L1235.4 1605.4L1240.0 1604.5L1244.6 1603.6L1249.2 1602.7L1253.8 1601.8L1258.3 1600.9L1262.9 1600.0L1267.5 1599.1L1272.1 1598.3L1276.7 1597.4L1281.3 1596.5L1285.8 1595.6L1290.4 1594.8L1295.0 1593.9L1299.6 1593.0L1304.2 1592.2L1308.8 1591.3L1313.4 1590.5L1317.9 1589.6L1322.5 1588.8L1327.1 1587.9L1331.7 1587.1L1336.3 1586.2L1340.9 1585.4L1345.4 1584.6L1350.0 1583.7L1354.6 1582.9L1359.2 1582.1L1363.8 1581.2L1368.4 1580.4L1372.9 1579.6L1377.5 1578.8L1382.1 1578.0L1386.7 1577.2L1391.3 1576.3L1395.9 1575.5L1400.5 1574.7L1405.0 1573.9L1409.6 1573.1L1414.2 1572.3L1418.8 1571.5L1423.4 1570.7L1428.0 1569.9L1432.5 1569.1L1437.1 1568.3L1441.7 1567.6L1446.3 1566.8L1450.9 1566.0L1455.5 1565.2L1460.1 1564.4L1464.6 1563.7L1469.2 1562.9L1473.8 1562.1L1478.4 1561.3L1483.0 1560.6L1487.6 1559.8L1492.1 1559.0L1496.7 1558.3L1501.3 1557.5L1505.9 1556.8L1510.5 1556.0L1515.1 1555.3L1519.6 1554.5L1524.2 1553.8L1528.8 1553.0L1533.4 1552.3L1538.0 1551.5L1542.6 1550.8L1547.2 1550.0L1551.7 1549.3L1556.3 1548.6L1560.9 1547.8L1565.5 1547.1L1570.1 1546.4L1574.7 1545.6L1579.2 1544.9L1583.8 1544.2L1588.4 1543.5L1593.0 1542.7" stroke="#009000" stroke-width="4.2"/>
<path d="M176.8 2348.0L176.9 2335.2L177.0 2329.1L177.1 2324.7L177.2 2321.2L177.2 2318.2L177.3 2315.5L177.4 2313.1L177.5 2310.8L177.6 2308.8L177.6 2306.8L177.7 2305.0L177.8 2303.2L177.9 2301.5L178.0 2299.9L178.0 2298.4L178.1 2296.9L178.2 2295.5L178.3 2294.1L178.4 2292.7L178.4 2291.4L178.5 2290.2L178.6 2288.9L178.7 2287.7L178.8 2286.6L178.8 2285.4L178.9 2284.3L179.0 2283.2L179.1 2282.1L179.2 2281.1L179.2 2280.1L179.3 2279.1L179.4 2278.1L179.5 2277.1L179.6 2276.1L179.6 2275.2L179.7 2274.3L180.1 2270.3L180.4 2266.6L180.8 2263.5L181.2 2260.7L181.5 2258.0L181.9 2255.2L182.2 2252.5L182.6 2249.9L182.9 2247.3L183.3 2244.7L183.7 2242.2L184.0 2239.7L184.4 2237.2L184.7 2234.8L185.1 2232.5L185.4 2230.2L185.8 2227.9L186.2 2225.7L186.5 2223.5L186.9 2221.3L187.2 2219.2L187.6 2217.1L187.9 2215.0L188.3 2213.0L188.7 2211.0L189.0 2209.1L189.4 2207.2L189.7 2205.3L190.1 2203.4L190.5 2201.6L190.8 2199.8L191.2 2198.0L191.5 2196.3L191.9 2194.5L192.2 2192.8L192.6 2191.2L193.0 2189.5L193.3 2187.9L193.7 2186.3L194.0 2184.8L194.4 2183.2L194.7 2181.7L195.1 2180.2L195.5 2178.7L195.8 2177.2L196.2 2175.8L196.5 2174.4L196.9 2173.0L197.2 2171.6L197.6 2170.2L198.0 2168.9L198.3 2167.6L198.7 2166.3L199.0 2165.0L199.4 2163.7L199.7 2162.4L200.1 2161.2L200.5 2160.0L200.8 2158.8L201.2 2157.6L201.5 2156.4L201.9 2155.2L202.2 2154.0L202.6 2152.9L203.0 2151.8L203.3 2150.6L203.7 2149.5L204.0 2148.4L204.4 2147.3L204.8 2146.3L205.1 2145.2L205.5 2144.1L205.8 2143.1L206.2 2142.1L206.5 2141.0L206.9 2140.0L207.3 2139.0L207.6 2138.0L208.0 2137.0L208.3 2136.0L208.7 2135.1L209.0 2134.1L209.4 2133.2L209.8 2132.2L210.1 2131.3L210.5 2130.3L210.8 2129.4L211.2 2128.5L211.5 2127.6L211.9 2126.7L212.3 2125.8L212.6 2124.9L213.0 2124.0L213.3 2123.1L213.7 2122.3L214.0 2121.4L214.4 2120.6L214.8 2119.7L215.1 2118.9L215.5 2118.0L215.8 2117.2L216.2 2116.4L216.5 2115.6L216.9 2114.7L217.3 2113.9L217.6 2113.1L218.0 2112.3L218.3 2111.5L218.7 2110.7L219.0 2110.0L219.4 2109.2L219.8 2108.4L220.1 2107.6L220.5 2106.9L220.8 2106.1L221.2 2105.4L221.6 2104.6L221.9 2103.9L222.3 2103.1L226.9 2094.0L231.4 2085.4L236.0 2077.4L240.6 2069.8L245.2 2062.6L249.8 2055.8L254.4 2049.2L258.9 2043.0L263.5 2037.0L268.1 2031.2L272.7 2025.7L277.3 2020.4L281.9 2015.2L286.4 2010.2L291.0 2005.4L295.6 2000.7L300.2 1996.1L304.8 1991.7L309.4 1987.4L314.0 1983.2L318.5 1979.1L323.1 1975.2L327.7 1971.3L332.3 1967.5L336.9 1963.8L341.5 1960.1L346.0 1956.6L350.6 1953.1L355.2 1949.7L359.8 1946.3L364.4 1943.1L369.0 1939.9L373.6 1936.7L378.1 1933.6L382.7 1930.6L387.3 1927.6L391.9 1924.6L396.5 1921.7L401.1 1918.9L405.6 1916.1L410.2 1913.3L414.8 1910.6L419.4 1908.0L424.0 1905.3L428.6 1902.7L433.1 1900.2L437.7 1897.7L442.3 1895.2L446.9 1892.7L451.5 1890.3L456.1 1887.9L460.7 1885.5L465.2 1883.2L469.8 1880.9L474.4 1878.6L479.0 1876.4L483.6 1874.2L488.2 1872.0L492.7 1869.8L497.3 1867.7L501.9 1865.6L506.5 1863.5L511.1 1861.4L515.7 1859.4L520.3 1857.3L524.8 1855.3L529.4 1853.3L534.0 1851.4L538.6 1849.4L543.2 1847.5L547.8 1845.6L552.3 1843.7L556.9 1841.8L561.5 1840.0L566.1 1838.2L570.7 1836.3L575.3 1834.5L579.8 1832.8L584.4 1831.0L589.0 1829.2L593.6 1827.5L598.2 1825.8L602.8 1824.1L607.4 1822.4L611.9 1820.7L616.5 1819.0L621.1 1817.4L625.7 1815.8L630.3 1814.1L634.9 1812.5L639.4 1810.9L644.0 1809.3L648.6 1807.8L653.2 1806.2L657.8 1804.7L662.4 1803.1L667.0 1801.6L671.5 1800.1L676.1 1798.6L680.7 1797.1L685.3 1795.6L689.9 1794.1L694.5 1792.7L699.0 1791.2L703.6 1789.8L708.2 1788.3L712.8 1786.9L717.4 1785.5L722.0 1784.1L726.5 1782.7L731.1 1781.3L735.7 1780.0L740.3 1778.6L744.9 1777.2L749.5 1775.9L754.1 1774.6L758.6 1773.2L763.2 1771.9L767.8 1770.6L772.4 1769.3L777.0 1768.0L781.6 1766.7L786.1 1765.4L790.7 1764.1L795.3 1762.9L799.9 1761.6L804.5 1760.4L809.1 1759.1L813.7 1757.9L818.2 1756.6L822.8 1755.4L827.4 1754.2L832.0 1753.0L836.6 1751.8L841.2 1750.6L845.7 1749.4L850.3 1748.2L854.9 1747.0L859.5 1745.9L864.1 1744.7L868.7 1743.5L873.3 1742.4L877.8 1741.2L882.4 1740.1L887.0 1739.0L891.6 1737.8L896.2 1736.7L900.8 1735.6L905.3 1734.5L909.9 1733.4L914.5 1732.3L919.1 1731.2L923.7 1730.1L928.3 1729.0L932.8 1727.9L937.4 1726.8L942.0 1725.8L946.6 1724.7L951.2 1723.7L955.8 1722.6L960.4 1721.5L964.9 1720.5L969.5 1719.5L974.1 1718.4L978.7 1717.4L983.3 1716.4L987.9 1715.3L992.4 1714.3L997.0 1713.3L1001.6 1712.3L1006.2 1711.3L1010.8 1710.3L1015.4 1709.3L1020.0 1708.3L1024.5 1707.3L1029.1 1706.4L1033.7 1705.4L1038.3 1704.4L1042.9 1703.4L1047.5 1702.5L1052.0 1701.5L1056.6 1700.5L1061.2 1699.6L1065.8 1698.6L1070.4 1697.7L1075.0 1696.7L1079.5 1695.8L1084.1 1694.9L1088.7 1693.9L1093.3 1693.0L1097.9 1692.1L1102.5 1691.2L1107.1 1690.3L1111.6 1689.3L1116.2 1688.4L1120.8 1687.5L1125.4 1686.6L1130.0 1685.7L1134.6 1684.8L1139.1 1683.9L1143.7 1683.0L1148.3 1682.2L1152.9 1681.3L1157.5 1680.4L1162.1 1679.5L1166.7 1678.6L1171.2 1677.8L1175.8 1676.9L1180.4 1676.0L1185.0 1675.2L1189.6 1674.3L1194.2 1673.5L1198.7 1672.6L1203.3 1671.8L1207.9 1670.9L1212.5 1670.1L1217.1 1669.2L1221.7 1668.4L1226.2 1667.6L1230.8 1666.7L1235.4 1665.9L1240.0 1665.1L1244.6 1664.2L1249.2 1663.4L1253.8 1662.6L1258.3 1661.8L1262.9 1661.0L1267.5 1660.2L1272.1 1659.4L1276.7 1658.6L1281.3 1657.8L1285.8 1657.0L1290.4 1656.2L1295.0 1655.4L1299.6 1654.6L1304.2 1653.8L1308.8 1653.0L1313.4 1652.2L1317.9 1651.4L1322.5 1650.6L1327.1 1649.9L1331.7 1649.1L1336.3 1648.3L1340.9 1647.5L1345.4 1646.8L1350.0 1646.0L1354.6 1645.3L1359.2 1644.5L1363.8 1643.7L1368.4 1643.0L1372.9 1642.2L1377.5 1641.5L1382.1 1640.7L1386.7 1640.0L1391.3 1639.2L1395.9 1638.5L1400.5 1637.7L1405.0 1637.0L1409.6 1636.3L1414.2 1635.5L1418.8 1634.8L1423.4 1634.1L1428.0 1633.3L1432.5 1632.6L1437.1 1631.9L1441.7 1631.2L1446.3 1630.4L1450.9 1629.7L1455.5 1629.0L1460.1 1628.3L1464.6 1627.6L1469.2 1626.9L1473.8 1626.2L1478.4 1625.4L1483.0 1624.7L1487.6 1624.0L1492.1 1623.3L1496.7 1622.6L1501.3 1621.9L1505.9 1621.2L1510.5 1620.6L1515.1 1619.9L1519.6 1619.2L1524.2 1618.5L1528.8 1617.8L1533.4 1617.1L1538.0 1616.4L1542.6 1615.7L1547.2 1615.1L1551.7 1614.4L1556.3 1613.7L1560.9 1613.0L1565.5 1612.4L1570.1 1611.7L1574.7 1611.0L1579.2 1610.4L1583.8 1609.7L1588.4 1609.0L1593.0 1608.4" stroke="#7E007F" stroke-width="4.2"/>
</g>
<rect x="175.0" y="1330.0" width="1418.0" height="1018.0" fill="none" stroke="#000" stroke-width="3.4"/>
<line x1="411.3" y1="2348.0" x2="411.3" y2="2334.0" stroke="#000" stroke-width="3.4"/>
<line x1="647.7" y1="2348.0" x2="647.7" y2="2334.0" stroke="#000" stroke-width="3.4"/>
<line x1="884.0" y1="2348.0" x2="884.0" y2="2334.0" stroke="#000" stroke-width="3.4"/>
<line x1="1120.3" y1="2348.0" x2="1120.3" y2="2334.0" stroke="#000" stroke-width="3.4"/>
<line x1="1356.7" y1="2348.0" x2="1356.7" y2="2334.0" stroke="#000" stroke-width="3.4"/>
<line x1="175.0" y1="2093.5" x2="188.0" y2="2093.5" stroke="#000" stroke-width="3.4"/>
<line x1="175.0" y1="1839.0" x2="188.0" y2="1839.0" stroke="#000" stroke-width="3.4"/>
<line x1="175.0" y1="1584.5" x2="188.0" y2="1584.5" stroke="#000" stroke-width="3.4"/>
<text x="175.0" y="2403.0" font-size="52.5" text-anchor="middle">0</text>
<text x="411.3" y="2403.0" font-size="52.5" text-anchor="middle">5</text>
<text x="647.7" y="2403.0" font-size="52.5" text-anchor="middle">10</text>
<text x="884.0" y="2403.0" font-size="52.5" text-anchor="middle">15</text>
<text x="1120.3" y="2403.0" font-size="52.5" text-anchor="middle">20</text>
<text x="1356.7" y="2403.0" font-size="52.5" text-anchor="middle">25</text>
<text x="1593.0" y="2403.0" font-size="52.5" text-anchor="middle">30</text>
<text x="160.0" y="1346.0" font-size="52.5" text-anchor="end">0.08</text>
<text x="160.5" y="1600.5" font-size="52.5" text-anchor="end">0.06</text>
<text x="160.5" y="1855.0" font-size="52.5" text-anchor="end">0.04</text>
<text x="160.5" y="2109.5" font-size="52.5" text-anchor="end">0.02</text>
<text x="161.0" y="2364.0" font-size="52.5" text-anchor="end">0.00</text>
<text x="884.0" y="2487.8" font-size="52.5" text-anchor="middle">Time (min)</text>
<text transform="translate(38.0 1839.0) rotate(-90)" font-size="52.0" text-anchor="middle">Accumulated seepage force (Pa)</text>
<text x="1470.0" y="1404.8" font-size="46">(b)</text>
<rect x="1088.5" y="1896.4" width="388.1" height="339.3" fill="#fff" stroke="#000" stroke-width="2"/>
<line x1="1096" y1="1934.5" x2="1212" y2="1934.5" stroke="#000000" stroke-width="4.2" stroke-linecap="round"/>
<text x="1224.0" y="1951.9" font-size="55">z=10cm</text>
<line x1="1096" y1="2001.0" x2="1212" y2="2001.0" stroke="#E5343F" stroke-width="4.2" stroke-linecap="round"/>
<text x="1224.0" y="2018.4" font-size="55">z=20cm</text>
<line x1="1096" y1="2067.4" x2="1212" y2="2067.4" stroke="#3A7AC5" stroke-width="4.2" stroke-linecap="round"/>
<text x="1224.0" y="2084.8" font-size="55">z=50cm</text>
<line x1="1096" y1="2133.8" x2="1212" y2="2133.8" stroke="#009000" stroke-width="4.2" stroke-linecap="round"/>
<text x="1224.0" y="2151.2" font-size="55">z=100cm</text>
<line x1="1096" y1="2200.3" x2="1212" y2="2200.3" stroke="#7E007F" stroke-width="4.2" stroke-linecap="round"/>
<text x="1224.0" y="2217.7" font-size="55">z=200cm</text>
</g>
</svg></body></html>
